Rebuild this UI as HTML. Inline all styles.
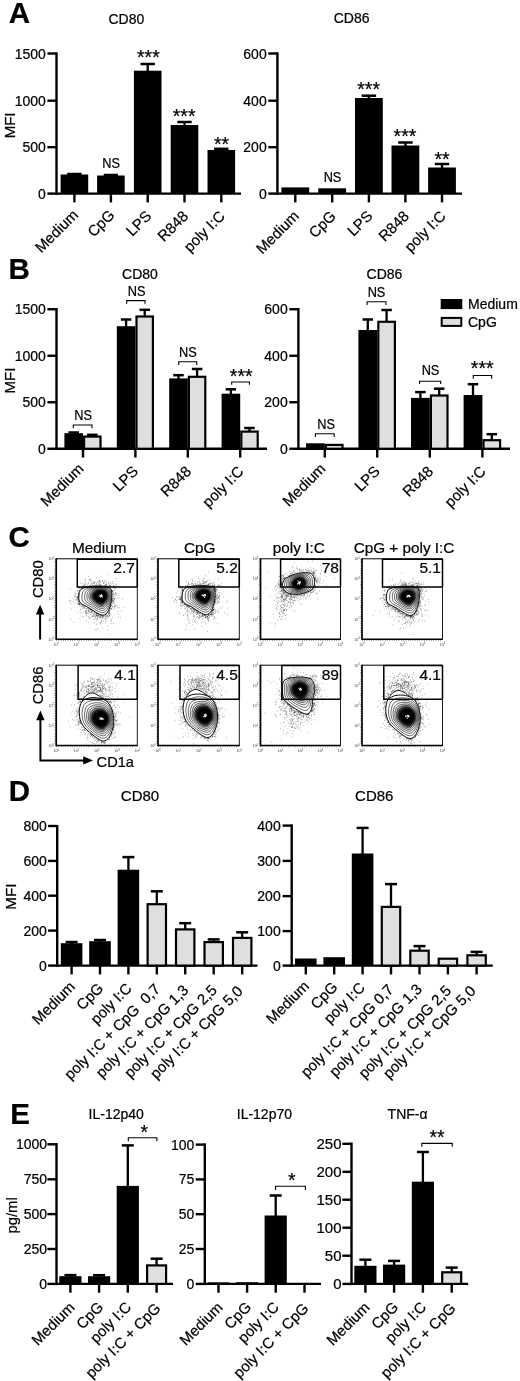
<!DOCTYPE html>
<html><head><meta charset="utf-8"><title>Figure</title>
<style>
html,body{margin:0;padding:0;background:#fff}
text{stroke:#000;stroke-width:.22px}
.t{stroke:none}
svg{display:block;font-family:"Liberation Sans",sans-serif;font-size:14px;fill:#000;filter:grayscale(1)}
</style></head>
<body>
<svg width="520" height="1381" viewBox="0 0 520 1381">
<rect width="520" height="1381" fill="#fff"/>
<text x="8.8" y="23" font-weight="bold" font-size="29.5">A</text>
<text x="126.4" y="23.8" text-anchor="middle">CD80</text>
<text x="351.6" y="23.2" text-anchor="middle">CD86</text>
<text transform="translate(15.3 125.4) rotate(-90)" text-anchor="middle" font-size="15">MFI</text>
<line x1="56.5" y1="52.3" x2="56.5" y2="194.8" stroke="#000" stroke-width="2.4"/>
<line x1="47.4" y1="53.5" x2="56.5" y2="53.5" stroke="#000" stroke-width="2.4"/>
<text x="45.8" y="58.5" text-anchor="end">1500</text>
<line x1="47.4" y1="100.7" x2="56.5" y2="100.7" stroke="#000" stroke-width="2.4"/>
<text x="45.8" y="105.7" text-anchor="end">1000</text>
<line x1="47.4" y1="147.2" x2="56.5" y2="147.2" stroke="#000" stroke-width="2.4"/>
<text x="45.8" y="152.2" text-anchor="end">500</text>
<line x1="47.4" y1="193.6" x2="56.5" y2="193.6" stroke="#000" stroke-width="2.4"/>
<text x="45.8" y="198.6" text-anchor="end">0</text>
<line x1="55.3" y1="193.6" x2="241" y2="193.6" stroke="#000" stroke-width="2.4"/>
<line x1="74.4" y1="193.6" x2="74.4" y2="202.4" stroke="#000" stroke-width="2.4"/>
<line x1="110.9" y1="193.6" x2="110.9" y2="202.4" stroke="#000" stroke-width="2.4"/>
<line x1="147.7" y1="193.6" x2="147.7" y2="202.4" stroke="#000" stroke-width="2.4"/>
<line x1="184.5" y1="193.6" x2="184.5" y2="202.4" stroke="#000" stroke-width="2.4"/>
<line x1="221.3" y1="193.6" x2="221.3" y2="202.4" stroke="#000" stroke-width="2.4"/>
<line x1="74.4" y1="174" x2="74.4" y2="175.5" stroke="#000" stroke-width="2.3"/>
<line x1="67.22" y1="174" x2="81.58" y2="174" stroke="#000" stroke-width="2.5"/>
<rect x="60.6" y="174.5" width="27.6" height="19.1" fill="#000"/>
<line x1="110.9" y1="175" x2="110.9" y2="176.5" stroke="#000" stroke-width="2.3"/>
<line x1="103.72" y1="175" x2="118.08" y2="175" stroke="#000" stroke-width="2.5"/>
<rect x="97.1" y="175.5" width="27.6" height="18.1" fill="#000"/>
<line x1="147.7" y1="64" x2="147.7" y2="71.7" stroke="#000" stroke-width="2.3"/>
<line x1="140.52" y1="64" x2="154.88" y2="64" stroke="#000" stroke-width="2.5"/>
<rect x="133.9" y="70.7" width="27.6" height="122.9" fill="#000"/>
<line x1="184.5" y1="122" x2="184.5" y2="126" stroke="#000" stroke-width="2.3"/>
<line x1="177.32" y1="122" x2="191.68" y2="122" stroke="#000" stroke-width="2.5"/>
<rect x="170.7" y="125" width="27.6" height="68.6" fill="#000"/>
<line x1="221.3" y1="148.8" x2="221.3" y2="151" stroke="#000" stroke-width="2.3"/>
<line x1="214.12" y1="148.8" x2="228.48" y2="148.8" stroke="#000" stroke-width="2.5"/>
<rect x="207.5" y="150" width="27.6" height="43.6" fill="#000"/>
<text transform="translate(79 215.8) rotate(-45)" text-anchor="end" font-size="15">Medium</text>
<text transform="translate(115.5 216) rotate(-45)" text-anchor="end" font-size="15">CpG</text>
<text transform="translate(152.3 217) rotate(-45)" text-anchor="end" font-size="15">LPS</text>
<text transform="translate(189.1 217) rotate(-45)" text-anchor="end" font-size="15">R848</text>
<text transform="translate(225.9 217) rotate(-45)" text-anchor="end" font-size="15">poly I:C</text>
<text transform="translate(111.2 167.5) scale(.9 1)" text-anchor="middle" font-size="14.2">NS</text>
<text x="148.4" y="64.1" text-anchor="middle" font-size="19.5">***</text>
<text x="184.1" y="123.4" text-anchor="middle" font-size="19.5">***</text>
<text x="221.5" y="151" text-anchor="middle" font-size="19.5">**</text>
<line x1="277.4" y1="52.3" x2="277.4" y2="194.8" stroke="#000" stroke-width="2.4"/>
<line x1="268.3" y1="53.5" x2="277.4" y2="53.5" stroke="#000" stroke-width="2.4"/>
<text x="266.7" y="58.5" text-anchor="end">600</text>
<line x1="268.3" y1="100.7" x2="277.4" y2="100.7" stroke="#000" stroke-width="2.4"/>
<text x="266.7" y="105.7" text-anchor="end">400</text>
<line x1="268.3" y1="147.2" x2="277.4" y2="147.2" stroke="#000" stroke-width="2.4"/>
<text x="266.7" y="152.2" text-anchor="end">200</text>
<line x1="268.3" y1="193.6" x2="277.4" y2="193.6" stroke="#000" stroke-width="2.4"/>
<text x="266.7" y="198.6" text-anchor="end">0</text>
<line x1="276.2" y1="193.6" x2="462" y2="193.6" stroke="#000" stroke-width="2.4"/>
<line x1="295.3" y1="193.6" x2="295.3" y2="202.4" stroke="#000" stroke-width="2.4"/>
<line x1="332.2" y1="193.6" x2="332.2" y2="202.4" stroke="#000" stroke-width="2.4"/>
<line x1="368.9" y1="193.6" x2="368.9" y2="202.4" stroke="#000" stroke-width="2.4"/>
<line x1="405.4" y1="193.6" x2="405.4" y2="202.4" stroke="#000" stroke-width="2.4"/>
<line x1="442" y1="193.6" x2="442" y2="202.4" stroke="#000" stroke-width="2.4"/>
<rect x="281.4" y="187.4" width="27.8" height="6.2" fill="#000"/>
<rect x="318.3" y="188.3" width="27.8" height="5.3" fill="#000"/>
<line x1="368.9" y1="95.7" x2="368.9" y2="99" stroke="#000" stroke-width="2.3"/>
<line x1="361.67" y1="95.7" x2="376.13" y2="95.7" stroke="#000" stroke-width="2.5"/>
<rect x="355" y="98" width="27.8" height="95.6" fill="#000"/>
<line x1="405.4" y1="142.5" x2="405.4" y2="146.5" stroke="#000" stroke-width="2.3"/>
<line x1="398.17" y1="142.5" x2="412.63" y2="142.5" stroke="#000" stroke-width="2.5"/>
<rect x="391.5" y="145.5" width="27.8" height="48.1" fill="#000"/>
<line x1="442" y1="164" x2="442" y2="168.5" stroke="#000" stroke-width="2.3"/>
<line x1="434.77" y1="164" x2="449.23" y2="164" stroke="#000" stroke-width="2.5"/>
<rect x="428.1" y="167.5" width="27.8" height="26.1" fill="#000"/>
<text transform="translate(299.9 217) rotate(-45)" text-anchor="end" font-size="15">Medium</text>
<text transform="translate(336.8 217) rotate(-45)" text-anchor="end" font-size="15">CpG</text>
<text transform="translate(373.5 217) rotate(-45)" text-anchor="end" font-size="15">LPS</text>
<text transform="translate(410 217) rotate(-45)" text-anchor="end" font-size="15">R848</text>
<text transform="translate(446.6 217) rotate(-45)" text-anchor="end" font-size="15">poly I:C</text>
<text transform="translate(332.5 182) scale(.9 1)" text-anchor="middle" font-size="14.2">NS</text>
<text x="368.6" y="96.1" text-anchor="middle" font-size="19.5">***</text>
<text x="405" y="143" text-anchor="middle" font-size="19.5">***</text>
<text x="442" y="166" text-anchor="middle" font-size="19.5">**</text>
<text x="8.5" y="278.8" font-weight="bold" font-size="29.5">B</text>
<text x="140" y="279" text-anchor="middle">CD80</text>
<text x="384.5" y="278.5" text-anchor="middle">CD86</text>
<text transform="translate(15.3 380.6) rotate(-90)" text-anchor="middle" font-size="15">MFI</text>
<line x1="56.5" y1="308.05" x2="56.5" y2="449.95" stroke="#000" stroke-width="2.4"/>
<line x1="47.4" y1="309.25" x2="56.5" y2="309.25" stroke="#000" stroke-width="2.4"/>
<text x="45.8" y="314.25" text-anchor="end">1500</text>
<line x1="47.4" y1="355.75" x2="56.5" y2="355.75" stroke="#000" stroke-width="2.4"/>
<text x="45.8" y="360.75" text-anchor="end">1000</text>
<line x1="47.4" y1="402.25" x2="56.5" y2="402.25" stroke="#000" stroke-width="2.4"/>
<text x="45.8" y="407.25" text-anchor="end">500</text>
<line x1="47.4" y1="448.75" x2="56.5" y2="448.75" stroke="#000" stroke-width="2.4"/>
<text x="45.8" y="453.75" text-anchor="end">0</text>
<line x1="55.3" y1="448.75" x2="267" y2="448.75" stroke="#000" stroke-width="2.4"/>
<line x1="83" y1="448.75" x2="83" y2="457.55" stroke="#000" stroke-width="2.4"/>
<line x1="135.4" y1="448.75" x2="135.4" y2="457.55" stroke="#000" stroke-width="2.4"/>
<line x1="187.8" y1="448.75" x2="187.8" y2="457.55" stroke="#000" stroke-width="2.4"/>
<line x1="240.2" y1="448.75" x2="240.2" y2="457.55" stroke="#000" stroke-width="2.4"/>
<line x1="73.7" y1="432.5" x2="73.7" y2="434.2" stroke="#000" stroke-width="2.3"/>
<line x1="68.45" y1="432.5" x2="78.95" y2="432.5" stroke="#000" stroke-width="2.5"/>
<rect x="64.4" y="433.2" width="18.6" height="15.55" fill="#000"/>
<line x1="92.3" y1="434.8" x2="92.3" y2="436.5" stroke="#000" stroke-width="2.3"/>
<line x1="87.05" y1="434.8" x2="97.55" y2="434.8" stroke="#000" stroke-width="2.5"/>
<rect x="84.1" y="436.6" width="16.4" height="12.15" fill="#dfdfdf" stroke="#000" stroke-width="2.2"/>
<line x1="126.1" y1="319.5" x2="126.1" y2="327.2" stroke="#000" stroke-width="2.3"/>
<line x1="120.85" y1="319.5" x2="131.35" y2="319.5" stroke="#000" stroke-width="2.5"/>
<rect x="116.8" y="326.2" width="18.6" height="122.55" fill="#000"/>
<line x1="144.7" y1="309.8" x2="144.7" y2="316.4" stroke="#000" stroke-width="2.3"/>
<line x1="139.45" y1="309.8" x2="149.95" y2="309.8" stroke="#000" stroke-width="2.5"/>
<rect x="136.5" y="316.5" width="16.4" height="132.25" fill="#dfdfdf" stroke="#000" stroke-width="2.2"/>
<line x1="178.5" y1="375.2" x2="178.5" y2="379.4" stroke="#000" stroke-width="2.3"/>
<line x1="173.25" y1="375.2" x2="183.75" y2="375.2" stroke="#000" stroke-width="2.5"/>
<rect x="169.2" y="378.4" width="18.6" height="70.35" fill="#000"/>
<line x1="197.1" y1="369" x2="197.1" y2="376.7" stroke="#000" stroke-width="2.3"/>
<line x1="191.85" y1="369" x2="202.35" y2="369" stroke="#000" stroke-width="2.5"/>
<rect x="188.9" y="376.8" width="16.4" height="71.95" fill="#dfdfdf" stroke="#000" stroke-width="2.2"/>
<line x1="230.9" y1="389.3" x2="230.9" y2="394.7" stroke="#000" stroke-width="2.3"/>
<line x1="225.65" y1="389.3" x2="236.15" y2="389.3" stroke="#000" stroke-width="2.5"/>
<rect x="221.6" y="393.7" width="18.6" height="55.05" fill="#000"/>
<line x1="249.5" y1="428" x2="249.5" y2="431.5" stroke="#000" stroke-width="2.3"/>
<line x1="244.25" y1="428" x2="254.75" y2="428" stroke="#000" stroke-width="2.5"/>
<rect x="241.3" y="431.6" width="16.4" height="17.15" fill="#dfdfdf" stroke="#000" stroke-width="2.2"/>
<text transform="translate(84.6 469.55) rotate(-45)" text-anchor="end" font-size="15">Medium</text>
<text transform="translate(139.1 472.25) rotate(-45)" text-anchor="end" font-size="15">LPS</text>
<text transform="translate(192.1 472.25) rotate(-45)" text-anchor="end" font-size="15">R848</text>
<text transform="translate(244.5 472.25) rotate(-45)" text-anchor="end" font-size="15">poly I:C</text>
<text transform="translate(83.1 420) scale(.9 1)" text-anchor="middle" font-size="14.2">NS</text>
<path d="M73.3 428.2V425H92V428.2" fill="none" stroke="#000" stroke-width="1.1"/>
<text transform="translate(136.6 295.8) scale(.9 1)" text-anchor="middle" font-size="14.2">NS</text>
<path d="M126.7 303.8V300.6H145V303.8" fill="none" stroke="#000" stroke-width="1.1"/>
<text transform="translate(187.9 356.9) scale(.9 1)" text-anchor="middle" font-size="14.2">NS</text>
<path d="M178.7 364.9V361.7H196.7V364.9" fill="none" stroke="#000" stroke-width="1.1"/>
<text x="241.2" y="383.3" text-anchor="middle" font-size="19.5">***</text>
<path d="M231.7 384.8V382H249.4V384.8" fill="none" stroke="#000" stroke-width="1.1"/>
<line x1="298.4" y1="308.05" x2="298.4" y2="449.95" stroke="#000" stroke-width="2.4"/>
<line x1="289.3" y1="309.25" x2="298.4" y2="309.25" stroke="#000" stroke-width="2.4"/>
<text x="287.7" y="314.25" text-anchor="end">600</text>
<line x1="289.3" y1="355.75" x2="298.4" y2="355.75" stroke="#000" stroke-width="2.4"/>
<text x="287.7" y="360.75" text-anchor="end">400</text>
<line x1="289.3" y1="402.25" x2="298.4" y2="402.25" stroke="#000" stroke-width="2.4"/>
<text x="287.7" y="407.25" text-anchor="end">200</text>
<line x1="289.3" y1="448.75" x2="298.4" y2="448.75" stroke="#000" stroke-width="2.4"/>
<text x="287.7" y="453.75" text-anchor="end">0</text>
<line x1="297.2" y1="448.75" x2="510" y2="448.75" stroke="#000" stroke-width="2.4"/>
<line x1="324.8" y1="448.75" x2="324.8" y2="457.55" stroke="#000" stroke-width="2.4"/>
<line x1="377.2" y1="448.75" x2="377.2" y2="457.55" stroke="#000" stroke-width="2.4"/>
<line x1="429.8" y1="448.75" x2="429.8" y2="457.55" stroke="#000" stroke-width="2.4"/>
<line x1="482.4" y1="448.75" x2="482.4" y2="457.55" stroke="#000" stroke-width="2.4"/>
<rect x="306" y="443.3" width="18.8" height="5.45" fill="#000"/>
<rect x="325.9" y="444.9" width="16.6" height="3.85" fill="#dfdfdf" stroke="#000" stroke-width="2.2"/>
<line x1="367.8" y1="319.5" x2="367.8" y2="331" stroke="#000" stroke-width="2.3"/>
<line x1="362.55" y1="319.5" x2="373.05" y2="319.5" stroke="#000" stroke-width="2.5"/>
<rect x="358.4" y="330" width="18.8" height="118.75" fill="#000"/>
<line x1="386.6" y1="310" x2="386.6" y2="321.7" stroke="#000" stroke-width="2.3"/>
<line x1="381.35" y1="310" x2="391.85" y2="310" stroke="#000" stroke-width="2.5"/>
<rect x="378.3" y="321.8" width="16.6" height="126.95" fill="#dfdfdf" stroke="#000" stroke-width="2.2"/>
<line x1="420.4" y1="392.1" x2="420.4" y2="398.9" stroke="#000" stroke-width="2.3"/>
<line x1="415.15" y1="392.1" x2="425.65" y2="392.1" stroke="#000" stroke-width="2.5"/>
<rect x="411" y="397.9" width="18.8" height="50.85" fill="#000"/>
<line x1="439.2" y1="388.7" x2="439.2" y2="395.4" stroke="#000" stroke-width="2.3"/>
<line x1="433.95" y1="388.7" x2="444.45" y2="388.7" stroke="#000" stroke-width="2.5"/>
<rect x="430.9" y="395.5" width="16.6" height="53.25" fill="#dfdfdf" stroke="#000" stroke-width="2.2"/>
<line x1="473" y1="384.2" x2="473" y2="396" stroke="#000" stroke-width="2.3"/>
<line x1="467.75" y1="384.2" x2="478.25" y2="384.2" stroke="#000" stroke-width="2.5"/>
<rect x="463.6" y="395" width="18.8" height="53.75" fill="#000"/>
<line x1="491.8" y1="434.2" x2="491.8" y2="440.1" stroke="#000" stroke-width="2.3"/>
<line x1="486.55" y1="434.2" x2="497.05" y2="434.2" stroke="#000" stroke-width="2.5"/>
<rect x="483.5" y="440.2" width="16.6" height="8.55" fill="#dfdfdf" stroke="#000" stroke-width="2.2"/>
<text transform="translate(326.4 469.55) rotate(-45)" text-anchor="end" font-size="15">Medium</text>
<text transform="translate(380.9 472.25) rotate(-45)" text-anchor="end" font-size="15">LPS</text>
<text transform="translate(434.1 472.25) rotate(-45)" text-anchor="end" font-size="15">R848</text>
<text transform="translate(486.7 472.25) rotate(-45)" text-anchor="end" font-size="15">poly I:C</text>
<text transform="translate(326.1 428.5) scale(.9 1)" text-anchor="middle" font-size="14.2">NS</text>
<path d="M315.4 437V433.8H334.2V437" fill="none" stroke="#000" stroke-width="1.1"/>
<text transform="translate(376.5 297.1) scale(.9 1)" text-anchor="middle" font-size="14.2">NS</text>
<path d="M367.1 305V301.8H385.9V305" fill="none" stroke="#000" stroke-width="1.1"/>
<text transform="translate(430.5 374.8) scale(.9 1)" text-anchor="middle" font-size="14.2">NS</text>
<path d="M419.6 384V381.2H440.7V384" fill="none" stroke="#000" stroke-width="1.1"/>
<text x="482.2" y="375" text-anchor="middle" font-size="19.5">***</text>
<path d="M473.3 378.7V375.5H491.7V378.7" fill="none" stroke="#000" stroke-width="1.1"/>
<rect x="440.7" y="299" width="21.6" height="10.1" fill="#000"/>
<text x="468" y="309.2">Medium</text>
<rect x="441.7" y="317.9" width="19.6" height="8" fill="#dfdfdf" stroke="#000" stroke-width="2"/>
<text x="468" y="326.6">CpG</text>
<text x="8.6" y="547.2" font-weight="bold" font-size="29.5">C</text>
<path d="M109.06 612.42h.6M79.49 599.14h.6M109.42 607.2h.6M105.92 585.81h.6M101.24 587.35h.6M83.22 604.71h.6M92.32 585h.6M109.76 586.76h.6M110.01 588.82h.6M97.93 613.1h.6M99.54 617.78h.6M78.14 597.41h.6M118.76 597.92h.6M104.05 614.49h.6M73.77 603.96h.6M78.45 594.31h.6M111.99 598.43h.6M112.71 597.93h.6M96.24 613.81h.6M78.23 598.27h.6M110.72 603.03h.6M111.28 601.98h.6M86.37 610.55h.6M82.23 604.82h.6M109.56 585.1h.6M83.89 587.98h.6M90.88 587.04h.6M79.88 598.98h.6M79.12 603.5h.6M108.45 610.4h.6M78.4 597.62h.6M96.59 613h.6M85.06 605.39h.6M110.04 585.93h.6M79.5 601.53h.6M91.03 613.15h.6M93.47 614.41h.6M112.77 587.5h.6M114.03 599.02h.6M108.23 612.37h.6M91.24 610.12h.6M78.48 592.1h.6M93.97 585.52h.6M83.46 606.6h.6M111.5 608.79h.6M78.54 603.95h.6M95.89 577.88h.6M109.68 588.29h.6M73.26 601.67h.6M87.9 607.89h.6M105.32 615.85h.6M108.66 612.97h.6M110.1 590.55h.6M83.18 607.68h.6M98.99 585.48h.6M112.38 587.26h.6M88.33 611.26h.6M77.24 599.93h.6M98.03 615.26h.6M112.5 583.74h.6M95.38 612.11h.6M79.2 601.69h.6M80.19 601.76h.6M81.82 604.42h.6M79.3 599.49h.6M76.94 612.93h.6M105.86 616.46h.6M111.75 593.99h.6M73.94 598.99h.6M79.56 598.13h.6M83.67 608.12h.6M110.44 613.93h.6M76.52 599.99h.6M102.93 616.74h.6M85.93 610.97h.6M114.17 586.38h.6M93.52 619.53h.6M100.67 616.09h.6M93.65 586.18h.6M81.27 588.33h.6M95.95 611.65h.6M116.31 595.55h.6M96.28 612.33h.6M89.59 578.48h.6M79.15 588.69h.6M77.93 601.15h.6M105.13 586.46h.6M111.14 602.75h.6M105.5 621.65h.6M80.83 592.19h.6M92.61 610.04h.6M110.26 606.58h.6M78.53 600.09h.6M103.9 586.11h.6M100.99 585.78h.6M87.14 585.75h.6M112.94 586.74h.6M80.83 587.93h.6M91.41 586.59h.6M95.33 585.41h.6M113.47 592.52h.6M85.56 586.11h.6M97.43 616.62h.6M111.36 596.38h.6M78.28 593.68h.6M100.49 616.37h.6M111.21 600.07h.6M87.13 586.53h.6M79.14 603.73h.6M112.71 600.29h.6M113.21 590.37h.6M78.59 600.33h.6M83.84 607.08h.6M105.02 618.92h.6M76.07 596.99h.6M109.49 608.17h.6M108 611.47h.6M97.19 613.68h.6M78.51 599.43h.6M76.62 597.12h.6M99.29 613.34h.6M112.94 603.35h.6M112.35 587.58h.6M111.81 594.63h.6M111.82 590.51h.6M90.9 585.94h.6M109.94 612h.6M111.97 596.4h.6M109 610.2h.6M78.79 598.66h.6M78.18 595.11h.6M109.8 610.83h.6M103.24 615.2h.6M85.63 611.94h.6M114.51 603.45h.6M78.2 590.42h.6M112.75 601.14h.6M112.02 591.53h.6M108.52 586.46h.6M114.25 601.51h.6M96.37 584.66h.6M99.81 614.66h.6M99.46 615.77h.6M109.37 585.9h.6M107.36 616.89h.6M88.2 608.22h.6M90.99 612.09h.6M88.81 586.84h.6M110.12 608.25h.6M112.62 591.2h.6M90.3 608.51h.6M102.31 586.96h.6M94.72 584.79h.6M79.01 596.75h.6M110.94 608.82h.6M80.39 603.93h.6M112.76 602.11h.6M105.48 613.48h.6M111.39 601.56h.6M107.2 612.4h.6M112.19 599.81h.6M112.31 600.48h.6M79.75 591.39h.6M92.24 615.96h.6M108.79 583.74h.6M96.09 614.85h.6M77.32 597.26h.6M114.72 606.11h.6M114.3 599.45h.6M84.84 606.57h.6M107.27 586.41h.6M78.57 601.11h.6M118.76 607.61h.6M70.48 601.01h.6M81.98 605.1h.6M82.53 587.11h.6M98.59 616.49h.6M90.47 608.91h.6M68.83 600.97h.6M70.65 603.62h.6M93.64 616.62h.6M77.33 597.02h.6M75.02 599.94h.6M82.15 588.19h.6M90.58 608.8h.6M78.06 593.46h.6M105.17 614.13h.6M78.2 595.26h.6M109.5 604.45h.6M110.81 605.23h.6M79.11 591.31h.6M105.58 614.04h.6M111.89 602.2h.6M106.06 613.5h.6M82.91 587.36h.6M111.64 590.43h.6M78.26 596.43h.6M89.8 612.33h.6M103.27 621.07h.6M98.86 581.13h.6M104.42 582.71h.6M85.15 612.33h.6M80.4 605.17h.6M109.89 585.71h.6M110.69 605.93h.6M108.87 608.7h.6M109.38 589.11h.6M91.48 610.46h.6M110.87 597.55h.6M113.66 596.25h.6M108 613.48h.6M112.56 606.8h.6M99.38 584.37h.6M114.78 598.32h.6M88.75 608.09h.6M106.56 584.11h.6M111.18 599.21h.6M80.22 589.79h.6M107.67 611.47h.6M115.48 589.16h.6M114.17 586.91h.6M81.21 587.6h.6M106.24 613.01h.6M79.81 610.08h.6M99.89 622.65h.6M107.78 615.23h.6M89.23 586.31h.6M93.99 610.64h.6M96.89 614.1h.6M107.02 586.04h.6M78.82 596.57h.6M92.8 585.75h.6M78.97 587.56h.6M104 580.61h.6M80.17 588.8h.6M78.57 595.7h.6M89.18 608.06h.6M88.7 586.08h.6M93.49 581.56h.6M79.97 591.47h.6M89.81 587.39h.6M78.23 587.75h.6M100.61 614.62h.6M109.45 586.3h.6M80.61 602.64h.6M94.5 615.74h.6M107.01 612.61h.6M82.3 587.83h.6M78.17 595.08h.6M101.13 615.09h.6M82.89 604.37h.6M109.26 613.47h.6M85.13 586.4h.6M99.59 586.03h.6M94.22 582.15h.6M80.24 598.71h.6M93.13 583.64h.6M78.89 604.98h.6M109.4 609.07h.6M108.38 613.9h.6M100.01 614.22h.6M76.73 599.3h.6M78.84 600.79h.6M102.33 622.65h.6M115.56 593.53h.6M115.72 587.34h.6M92.33 609.85h.6M109.83 586.96h.6M112.53 604.05h.6M104.68 614.4h.6M113.07 602.16h.6M98.36 583.29h.6M106.25 617.3h.6M104.21 614.83h.6M81.35 604.91h.6M98.1 615.42h.6M86.28 608.93h.6M91.86 609.21h.6M77.14 598.37h.6M84.68 608.41h.6M83.2 587.94h.6M77.38 590.8h.6M92.1 587.94h.6M74.07 594.77h.6M89.79 586.07h.6M82.46 585.42h.6M111.37 595.89h.6M93.39 613.43h.6M109.81 605.71h.6M82.27 587.75h.6M115.04 605.95h.6M88.46 610.46h.6M79.49 603h.6M75.84 593.52h.6M112.75 600.26h.6M78.13 601.59h.6M108.72 607.24h.6M91.02 587.64h.6M115.8 578.5h.6M79.12 604.14h.6M113.99 594.23h.6M84.32 585.51h.6M101.62 616h.6M90.24 610.02h.6M81.77 606.45h.6M90.44 586.45h.6M83.15 588.88h.6M75.65 603.15h.6M107.41 612.5h.6M89.92 585.2h.6M87 607.86h.6M114.27 587.76h.6M81.7 587.56h.6M112.73 593.52h.6M79.46 600.69h.6M113.17 595.15h.6M91.75 611.21h.6M105.35 613.97h.6M110.36 634.06h.6M105.62 611.95h.6M106.28 611.97h.6M78.22 603.78h.6M89.29 586.23h.6M90.45 609.65h.6M97.21 617.16h.6M102.44 616.04h.6M78.66 599.66h.6M88.11 576.44h.6M109.65 605.66h.6M94.49 612.5h.6M109.06 585.57h.6M98.39 586.58h.6M85.41 588.26h.6M77.87 603.88h.6M99.9 614.87h.6M102.42 616.12h.6M111.83 596.15h.6M100.42 585.92h.6M101.78 580.65h.6M108.68 605.82h.6M96 586.27h.6M78.81 598.32h.6M106.41 584.6h.6M86.05 605.75h.6M116.05 593.78h.6M81.58 588.14h.6M77.97 598.65h.6M112.68 594.81h.6M111.59 593.97h.6M91.06 584.11h.6M113.96 590.44h.6M78.18 592.95h.6M100.05 587.45h.6M103.49 582.79h.6M98.14 586.33h.6M103.81 614.56h.6M82.19 590.06h.6M79.55 605.26h.6M110.36 597.42h.6M94.1 613.75h.6M78.83 594.54h.6M79.16 595.63h.6M78.45 597.89h.6M111.57 589.51h.6M76.36 598.73h.6M113.71 606.95h.6M110.67 596.8h.6M83.24 605.09h.6M69.34 597.18h.6M108.01 582.25h.6M115.17 592.66h.6M69.85 589.09h.6M74.84 593.03h.6M79.18 602.45h.6M76.95 597.7h.6M89.12 586.99h.6M96.44 612.79h.6M104.7 616.61h.6M100.85 615.88h.6M81.41 589.37h.6M99.92 614.61h.6M104.08 614.2h.6M93.35 615.96h.6M94.76 611.41h.6M96.79 582.4h.6M79.93 602.91h.6M105.13 614.51h.6M104.03 613.53h.6M83.78 605.29h.6M77.3 590.26h.6M111.91 600.52h.6M115.34 588.65h.6M111.47 591.53h.6M123.37 607.31h.6M99.74 612.51h.6M88.88 606.9h.6M81.83 606.45h.6M106.66 618.99h.6M86.44 608.04h.6M106.65 586.65h.6M97.07 612.38h.6M93.72 610.96h.6M114.5 605.65h.6M102.18 618.87h.6M113.22 601.24h.6M102.71 616.95h.6M105.72 614.06h.6M93.01 616.15h.6M113.1 609.07h.6M111.18 596.47h.6M95.98 612.8h.6M100.89 620.67h.6M88.01 611.36h.6M94.54 610.41h.6M79.29 590.24h.6M78.61 598.23h.6M88.75 609.19h.6M77.37 596.86h.6M118.57 588.04h.6M107.87 609.86h.6M109.17 615.7h.6M81.91 588.74h.6M103.52 615.22h.6M96.74 586.06h.6M115.49 593.82h.6M77.99 595.44h.6M83.73 584.26h.6M111.96 591.08h.6M105.29 611.89h.6M107.39 586.87h.6M111.11 600.46h.6M97.66 615.43h.6M112.74 594.7h.6M105.35 614.39h.6M96.5 613.74h.6M105.46 582.55h.6M105.9 615.56h.6M96.01 612.19h.6M104.85 613.63h.6M69.72 600.95h.6M109.21 607.75h.6M101.88 615.2h.6M112.59 598.38h.6M110.62 601.67h.6M122.41 599.24h.6M101.96 616.98h.6M111.56 598.95h.6M103.91 585.21h.6M110.92 597.25h.6M111.96 607.2h.6M108.71 613.36h.6M116.81 605.83h.6M112.39 599.13h.6M110.37 606.54h.6M103.52 617.22h.6M79.46 600.5h.6M108.59 587.73h.6M111.08 608.23h.6M108.59 588.49h.6M79.87 603.06h.6M111.29 620.75h.6M82.17 608.23h.6M109.25 610.72h.6M86.53 588.36h.6M101.56 615.64h.6M77.97 601.54h.6M113.3 585.79h.6M84.73 606.34h.6M111.37 591.32h.6M114.76 594.81h.6M104.94 584.67h.6M100.65 618.15h.6M92.65 610.81h.6M99.39 586.71h.6M85.36 611.42h.6M113.55 598.37h.6M78.39 598.15h.6M99.69 616.14h.6M78.96 599.27h.6M98.34 615.13h.6M105.75 614.09h.6M105.64 613.82h.6M108.99 612.98h.6M81.12 603.43h.6M114.55 597.17h.6M94.15 611.73h.6M111.37 596.23h.6M100.9 615.05h.6M110.32 605.09h.6M114.6 588.23h.6M78.14 594.41h.6M77.18 602.26h.6M74.12 596.84h.6M88.87 608.55h.6M110.16 608.61h.6M83.85 588.47h.6M82.81 587.13h.6M114.56 600.24h.6M82.33 604.36h.6M95.89 586.77h.6M96.07 615.29h.6M84.34 605.79h.6M111.57 605.47h.6M92.66 586.52h.6M77.09 596.86h.6M106.64 611.64h.6M99.15 586.57h.6M109.09 607.24h.6M86.02 586.8h.6M85 584.89h.6M75.12 596.48h.6M86.67 608.67h.6M81.36 590.28h.6M79.3 604.29h.6M87.58 609.75h.6M96.29 615.02h.6M83.25 587.31h.6M89.43 579.49h.6M89.03 608.75h.6M78.96 596.32h.6M101.71 599.83h.6M86.42 604.73h.6M94.13 611.52h.6M105.97 603.7h.6M106.52 599.76h.6M96.67 593.37h.6M96.34 594.35h.6M83.76 584.16h.6M81.96 602.09h.6M93.3 608.22h.6M102.67 604.77h.6M86.38 592h.6M92.93 589.25h.6M109.24 607.65h.6M105.22 602.35h.6M101.78 607.44h.6M106.88 598.55h.6M107 593.15h.6M107.64 609.11h.6M92.44 611.94h.6M87.89 609.44h.6M92.99 605.83h.6M109.3 615.43h.6M100.21 595.46h.6M100.59 602.44h.6M103.04 582.89h.6M105.44 600.99h.6M102.44 602.85h.6M84.61 607.41h.6M108.34 600.68h.6M93.51 597.64h.6M97.45 605.59h.6M91.18 594.48h.6M113.23 598.82h.6M90.88 601.77h.6M95.29 602.56h.6M84.45 590.68h.6M92.09 600.67h.6M99.38 602.25h.6M92.44 583.66h.6M97.84 601.43h.6M101.89 599.56h.6M95.49 592.81h.6M112.14 601.4h.6M91.82 591.19h.6M86.37 603.07h.6M87.86 600.05h.6M85.17 598.42h.6M101.67 608.1h.6M94.09 598.78h.6M101.79 588.33h.6M90.69 611.86h.6M88.64 597.47h.6M88.37 610.13h.6M107.91 613.9h.6M84.97 598.71h.6M100.29 596.08h.6M95.96 587.99h.6M103.55 609.92h.6M77.64 594.12h.6M92.78 605.85h.6M90.63 603.38h.6M99.99 623.13h.6M100.93 614.53h.6M99.71 616.94h.6M93.57 596.57h.6M90.38 589.29h.6M98.16 610.31h.6M84.11 597.64h.6M95.12 582.45h.6M81.64 594.23h.6M90.26 587.21h.6M103.48 608.51h.6M80.58 600.26h.6M108.1 597.18h.6M106.71 598.48h.6M84.27 604.22h.6M75.36 594.87h.6M100.26 610.01h.6M103.65 605.54h.6M90.45 595.13h.6M99.17 601.73h.6M90.49 580.74h.6M92.63 602.08h.6M109.04 614.99h.6M118.47 614.32h.6M98.06 605h.6M95.71 593.12h.6M85.86 613.1h.6M101.43 587.92h.6M103.31 601.48h.6M97.49 611.18h.6M88.91 599.76h.6M81.18 602.08h.6M91.98 607.35h.6M91.4 611.22h.6M115.04 604.97h.6M97.18 608.94h.6M96.19 599.35h.6M105.93 600.35h.6M99.32 591.49h.6M102.68 603.94h.6M108.33 616.92h.6M105.67 591.99h.6M102.64 591.3h.6M96.75 630.21h.6M97.28 594.29h.6M95.01 601.65h.6M106.62 600.66h.6M94.66 601.22h.6M98.54 598.14h.6M87.91 592.61h.6M83.57 591.39h.6M109.59 598.35h.6M90.98 602.95h.6M106.7 598.32h.6M90.11 608.99h.6M95.11 605.17h.6M92.65 596.87h.6M102.57 588.57h.6M92.12 609.33h.6M103.62 598.17h.6M91.8 609.39h.6M97.74 607.36h.6M105.1 592.83h.6M87.48 590.96h.6M101.99 607.57h.6M120.95 611.18h.6M89.9 609.69h.6M92.79 598.65h.6M90.81 583.1h.6M99.91 598.82h.6M99.61 609.51h.6M93.31 599.31h.6M100.73 586.43h.6M97.94 616.13h.6M98.88 603.55h.6M104.36 599.21h.6M85.97 613.65h.6M97.32 618.26h.6M95.16 593.51h.6M93.2 588.83h.6M107.86 591.09h.6M78.79 600.58h.6M107.23 574.28h.6M100.16 605.68h.6M106.51 592.84h.6M89.74 605.8h.6M99.54 581.62h.6M92.75 598.54h.6M95.58 594.64h.6M85.58 595.56h.6M100.05 600.29h.6M103.89 618.99h.6M90.57 597.32h.6M91.02 608.6h.6M109.59 598.61h.6M93.35 582.12h.6M100.74 594.67h.6M105.02 617.19h.6M83.08 596.87h.6M92.42 596.54h.6M99.44 601.33h.6M79.79 606.77h.6M94.76 610.83h.6M101.93 604.7h.6M100.99 602.56h.6M99.97 602h.6M101.31 590.83h.6M96.63 600.16h.6M95.22 613.09h.6M104.27 601.71h.6M104.18 602.29h.6M98.14 599.53h.6M85.18 602h.6M98.44 596h.6M106.71 589.52h.6M106.8 607.1h.6M100.9 576.1h.6M80.51 612.91h.6M98.16 599.61h.6M91.75 612.31h.6M93.38 609.11h.6M92.8 585.37h.6M97.71 602.37h.6M99.37 611.12h.6M101.11 594.26h.6M91.76 606.96h.6M89.56 585.58h.6M110.48 620.71h.6M91.32 598.21h.6M85.36 590.43h.6M94.67 601.3h.6M89.38 591.14h.6M84.13 596.93h.6M89.3 598.07h.6M90.12 599.74h.6M96.6 611.86h.6M109.33 610.08h.6M101.61 600.3h.6M90.87 594.77h.6M116.61 598.38h.6M93.72 597.94h.6M91.25 599.45h.6M97.93 594.51h.6M85.87 592.4h.6M110.89 591.14h.6M105.9 589.37h.6M89.02 599.59h.6M94.5 592.12h.6M100.55 596.46h.6M112.38 591.43h.6M92.3 604.77h.6M97.29 599.09h.6M96 599.73h.6M103.37 583.37h.6M93.18 593.98h.6M97.93 609.18h.6M103.68 596.45h.6M87.5 586.93h.6M98.51 601.33h.6M95.2 594.88h.6M92.2 606.99h.6M90.67 604.1h.6M104.06 594.14h.6M111.73 599.24h.6M77.19 603.81h.6M99.34 580.04h.6M101.5 606.43h.6M97.44 601.4h.6M101.27 596.36h.6M91.85 611.57h.6M102.45 599.43h.6M110.85 605.77h.6M105.04 589.85h.6M110.85 605.19h.6M88.38 604.39h.6M109.53 616.35h.6M90.71 586.89h.6M107.65 616.32h.6M101.63 606.37h.6M88.89 600.87h.6M96.88 591.5h.6M89.78 606.29h.6M88.92 591.2h.6M90.68 605.65h.6M105.71 594.09h.6M100.39 612.39h.6M101.35 601.44h.6M87.61 594.74h.6M92.43 587.99h.6M113.99 606.38h.6M100.58 602.62h.6M118.56 595h.6M96.2 600.9h.6M98.53 611.46h.6M89.65 593.07h.6M107.24 600.57h.6M108.19 582.95h.6M116.75 611.54h.6M112.34 591.94h.6M98.37 612.06h.6M97.35 607.66h.6M95.01 629.69h.6M98.73 611.36h.6M103.25 589.89h.6M96.94 616.06h.6M107.36 611.26h.6M96.18 616.02h.6M73.71 622.52h.6M97.59 602.68h.6M87.91 613.69h.6M93.98 612.07h.6M99.08 592.51h.6M104.17 592.87h.6M93.4 604.56h.6M70.87 608.84h.6M92.75 596.86h.6M114.59 608.16h.6M95.81 606.08h.6M96.09 607.56h.6M95.88 601.02h.6M85.04 604.63h.6M85.3 613.2h.6M86.44 611.9h.6M84.99 610.92h.6M89.7 610.34h.6M89.37 606.76h.6M105.03 596.38h.6M103.55 603.52h.6M120.4 617.56h.6M96.44 620.68h.6M99.4 606.26h.6M101.7 597.7h.6M111.41 602.74h.6M96.47 624.3h.6M103.01 603.23h.6M87.9 603.45h.6M101.12 608.99h.6M98.19 601.4h.6M99.33 613.68h.6M88.84 617.94h.6M105.42 618.64h.6M107.38 626.44h.6M105.87 599.85h.6M104.51 605.24h.6M86.2 621.19h.6M89.48 612.59h.6M95.24 601.58h.6M89.04 617.86h.6M90.24 608.04h.6M94.02 603.53h.6M95.34 617.42h.6M107.55 616.33h.6M97.13 604.08h.6M96.83 608.91h.6M104.91 615.78h.6M91.08 599.56h.6M81.79 606.89h.6M97.59 619.2h.6M104.78 609.03h.6M91.31 605.31h.6M78.51 604.06h.6M97.55 615.28h.6M87.64 612.7h.6M93.92 609.14h.6M113.51 623.56h.6M93.86 622.5h.6M110.36 602.91h.6M95.93 610.64h.6M98.26 587.84h.6M86.63 613.6h.6M97.52 614.9h.6M100.58 605.59h.6M79.55 594.04h.6M104.87 600.54h.6M103.39 611.09h.6M100.14 606.49h.6M89.33 611.68h.6M79.67 618.57h.6M87.87 597.91h.6M106.83 615.46h.6M110.64 604.07h.6M70.87 619.16h.6M99.28 611.63h.6M93.92 611.59h.6M97.82 607.89h.6M98.46 614.32h.6M77.97 604.28h.6M95.6 615.89h.6M90.2 614.77h.6M112.54 617.32h.6M96.37 608.39h.6M80.33 609.3h.6M99.92 617.6h.6M100.49 604.23h.6M88.61 622.7h.6M83.6 604.87h.6M100.55 605.34h.6M95.39 610.42h.6M92.26 603.98h.6M107.17 630.13h.6M102.17 618.16h.6M94 608.57h.6M87.9 616.88h.6M95.08 616.64h.6M108.05 601.05h.6M95.42 614.67h.6M90.77 614.85h.6M90.36 607.32h.6M101.95 613.02h.6M85.76 593.82h.6M89.94 598.53h.6M110.92 623.33h.6M92.38 616.41h.6M94.25 597.62h.6M97.65 607.96h.6M117.97 617.11h.6M98.87 607.08h.6M99.63 617.45h.6M99.69 614.22h.6M109.99 607.16h.6M85.74 616.19h.6M99.53 614.17h.6M105.36 623.31h.6M101.27 612.06h.6M109.83 598.95h.6M96.28 609.02h.6M95.16 596.13h.6M101.07 613.85h.6M95.04 595.93h.6M101.37 599.63h.6M106.25 620.66h.6M95.45 599.59h.6M91.9 610.15h.6M100.23 610.4h.6M100.6 623.94h.6M95.16 600.68h.6M81.68 616.35h.6M102.08 607.03h.6M103.04 616.35h.6M98.74 592.72h.6M101.92 597.01h.6M96.32 602.24h.6M97.23 619.08h.6M102.59 627.83h.6M94.49 604h.6M105.71 607.85h.6M101.96 614.51h.6M90 598.82h.6M99.44 613.3h.6M101.07 615.59h.6M95.74 610.31h.6M89.93 618.4h.6M101.03 620.33h.6M94.34 608.53h.6M96.1 609.1h.6M101.51 592.54h.6M102.94 606.22h.6M96.37 615.68h.6M84.73 602.24h.6M100.86 617.6h.6M99.51 595.47h.6M107.56 603.04h.6M94.15 619.03h.6M98.17 609.24h.6M99.57 613.32h.6M96.09 613.67h.6M91.73 616.41h.6M93.7 615.68h.6M110.92 618.61h.6M103.03 597.04h.6M83.47 612.7h.6M101.85 612.09h.6M95.89 610.34h.6M109.28 611.59h.6M85.93 615.42h.6M83.02 616.73h.6M110.68 614.95h.6M96.96 601.49h.6M95.76 606.03h.6M110.74 609.36h.6M101.77 603.18h.6M97.5 612.79h.6M98.17 613.6h.6M96.36 618.9h.6M94.76 614.37h.6M95.4 608.02h.6M96.94 628.53h.6M95.41 618.96h.6M117.42 607.69h.6M96.17 599.21h.6M98.06 612.57h.6M100.15 610.64h.6M101.42 596.99h.6M101.41 621.81h.6M102.51 611.55h.6M115.1 585.13h.6M86.62 614.14h.6M106.83 615.6h.6M108.45 589.05h.6M100.16 588.2h.6M100.49 582.45h.6M105.83 580.95h.6M106.12 587.21h.6M103.91 587.21h.6M99.6 584.16h.6M97.55 587.19h.6M99.49 581.99h.6M102.02 588.39h.6M113.17 583.8h.6M114.34 587.06h.6M105.24 588.88h.6M106.8 590.65h.6M99.57 583.99h.6M111 583.92h.6M97.94 584.92h.6M117.36 586.11h.6M109.48 586.86h.6M97.16 586.99h.6M96.22 585.35h.6M100.73 585.28h.6M92.65 588.31h.6M84.81 579.5h.6M84.71 583.31h.6M83.34 586.24h.6M91.83 586.06h.6M96.15 583.61h.6M108.33 587.09h.6M102.05 581.6h.6M103.34 588.55h.6M85.26 580.56h.6M83.91 585.6h.6M87.87 583.57h.6M96.53 585.17h.6M102.15 580.72h.6M98.88 580.18h.6M99.54 589.99h.6M81.72 583.68h.6M80.14 582.83h.6M101.02 585.38h.6M94.14 583.43h.6M87.95 582.3h.6M93.97 588.45h.6M104.94 585.31h.6M91.29 581.31h.6M88.7 580.44h.6M91.93 587.14h.6M94.98 589.88h.6M116.4 584.13h.6M89.65 586.48h.6M97.25 587.6h.6M95.2 585.65h.6M90.88 588.08h.6M106.77 586.55h.6M104.59 585.91h.6M105.88 584.04h.6M92.3 585.47h.6M101.46 590.12h.6M85.19 590.5h.6M92.57 587.72h.6M101.98 587.48h.6M88.94 590.43h.6M115.67 580.85h.6M95.96 588.45h.6M110.14 582.28h.6M84.89 582.33h.6M107.58 585.41h.6M116.41 586.33h.6M104.18 587.37h.6M86.72 584.25h.6M97.66 581.51h.6M113.39 585.53h.6M99.06 581.56h.6M108.76 589.77h.6M98.6 589.11h.6M90.76 585.76h.6M98.03 588.5h.6M93.98 590.43h.6M90.54 579.49h.6M99.94 585.02h.6M92.88 583.11h.6M98.18 585.47h.6M112.14 581.57h.6M105.22 587.99h.6M94.76 589.33h.6M105.89 589.35h.6M77.63 587.87h.6M97.73 586.04h.6M105.4 585.07h.6" stroke="#000" stroke-width=".65" opacity=".7" fill="none"/>
<path d="M81.9 588.7C79 590.48 79.02 594.5 78.8 596.9C78.58 599.3 78.95 601.32 80.6 603.1C82.25 604.88 86.1 606.03 88.7 607.6C91.3 609.17 93.8 611.23 96.2 612.5C98.6 613.77 101.12 615.42 103.1 615.2C105.08 614.98 106.75 613.53 108.1 611.2C109.45 608.87 110.63 604.53 111.2 601.2C111.77 597.87 112.02 593.57 111.5 591.2C110.98 588.83 110.65 587.83 108.1 587C105.55 586.17 100.57 585.92 96.2 586.2C91.83 586.48 84.8 586.92 81.9 588.7Z" fill="#fff" stroke="#000" stroke-width="0.95"/>
<path d="M84.48 589.7C82.07 591.37 82.14 594.7 81.97 596.77C81.8 598.84 82.1 600.52 83.46 602.09C84.82 603.67 87.91 604.83 90.13 606.23C92.34 607.64 94.64 609.44 96.75 610.52C98.86 611.59 101.05 612.84 102.8 612.66C104.54 612.47 105.95 611.37 107.23 609.4C108.51 607.43 109.89 603.81 110.47 600.84C111.06 597.86 111.22 593.74 110.74 591.54C110.26 589.34 109.97 588.42 107.59 587.62C105.22 586.83 100.32 586.42 96.47 586.77C92.62 587.12 86.9 588.03 84.48 589.7Z" fill="#fff" stroke="#000" stroke-width="0.6"/>
<path d="M86.75 590.57C84.74 592.11 84.85 594.88 84.71 596.66C84.58 598.43 84.83 599.83 85.95 601.22C87.07 602.61 89.54 603.74 91.42 604.99C93.31 606.24 95.4 607.82 97.25 608.72C99.1 609.63 100.99 610.57 102.53 610.41C104.06 610.25 105.25 609.42 106.45 607.76C107.65 606.1 109.12 603.1 109.7 600.45C110.29 597.81 110.38 593.93 109.94 591.9C109.5 589.87 109.25 589.03 107.06 588.29C104.86 587.54 100.16 587.04 96.77 587.42C93.39 587.8 88.76 589.03 86.75 590.57Z" fill="#fff" stroke="#000" stroke-width="0.6"/>
<path d="M88.62 591.3C86.94 592.71 87.06 595.03 86.96 596.57C86.85 598.1 87.06 599.27 87.99 600.5C88.92 601.73 90.91 602.82 92.53 603.93C94.14 605.05 96.05 606.43 97.68 607.2C99.31 607.97 100.95 608.68 102.3 608.54C103.65 608.41 104.67 607.78 105.78 606.37C106.89 604.96 108.4 602.44 108.96 600.08C109.53 597.73 109.57 594.1 109.17 592.25C108.77 590.39 108.55 589.62 106.54 588.92C104.52 588.23 100.06 587.67 97.08 588.07C94.09 588.46 90.31 589.88 88.62 591.3Z" fill="#f6f6f6" stroke="#000" stroke-width="0.6"/>
<path d="M90.23 591.92C88.81 593.21 88.95 595.16 88.87 596.49C88.79 597.82 88.96 598.8 89.73 599.89C90.51 600.97 92.12 602 93.5 603C94.89 603.99 96.62 605.21 98.05 605.86C99.49 606.52 100.92 607.05 102.11 606.93C103.3 606.81 104.17 606.35 105.19 605.14C106.21 603.94 107.7 601.82 108.24 599.72C108.78 597.63 108.79 594.28 108.42 592.58C108.06 590.88 107.87 590.19 106.03 589.55C104.19 588.9 100.02 588.32 97.38 588.72C94.75 589.11 91.65 590.62 90.23 591.92Z" fill="#dcdcdc" stroke="#000" stroke-width="0.6"/>
<path d="M91.6 592.45C90.4 593.62 90.54 595.27 90.47 596.42C90.41 597.58 90.56 598.41 91.2 599.37C91.85 600.33 93.16 601.29 94.35 602.18C95.55 603.07 97.11 604.14 98.38 604.7C99.64 605.26 100.89 605.65 101.94 605.55C102.99 605.45 103.74 605.1 104.68 604.08C105.61 603.05 107.06 601.25 107.56 599.38C108.07 597.52 108.06 594.44 107.72 592.89C107.39 591.35 107.23 590.73 105.56 590.14C103.88 589.54 100 588.96 97.68 589.35C95.35 589.73 92.8 591.27 91.6 592.45Z" fill="#a4a4a4" stroke="#000" stroke-width="0.6"/>
<path d="M92.74 592.89C91.71 593.96 91.85 595.36 91.8 596.37C91.75 597.38 91.88 598.09 92.42 598.94C92.97 599.8 94.04 600.69 95.08 601.48C96.12 602.28 97.53 603.22 98.65 603.71C99.77 604.19 100.87 604.48 101.81 604.39C102.74 604.3 103.38 604.05 104.24 603.16C105.1 602.28 106.47 600.74 106.95 599.07C107.42 597.41 107.39 594.58 107.09 593.18C106.78 591.78 106.65 591.21 105.12 590.67C103.6 590.13 100.02 589.56 97.95 589.93C95.89 590.3 93.76 591.81 92.74 592.89Z" fill="#5e5e5e" stroke="#000" stroke-width="0.6"/>
<path d="M93.66 593.24C92.78 594.22 92.92 595.43 92.87 596.32C92.83 597.22 92.94 597.83 93.41 598.6C93.88 599.36 94.77 600.19 95.68 600.91C96.59 601.62 97.88 602.46 98.88 602.89C99.88 603.31 100.86 603.53 101.69 603.45C102.52 603.37 103.09 603.18 103.88 602.4C104.66 601.63 105.96 600.3 106.4 598.8C106.85 597.31 106.81 594.71 106.53 593.43C106.25 592.15 106.13 591.64 104.74 591.14C103.35 590.64 100.04 590.09 98.19 590.44C96.35 590.8 94.55 592.26 93.66 593.24Z" fill="#2c2c2c" stroke="#000" stroke-width="0.6"/>
<path d="M94.57 593.59C93.81 594.48 93.95 595.5 93.91 596.28C93.88 597.06 93.97 597.59 94.37 598.26C94.76 598.94 95.49 599.69 96.28 600.33C97.07 600.96 98.23 601.7 99.11 602.07C99.99 602.43 100.85 602.59 101.58 602.52C102.32 602.45 102.8 602.32 103.51 601.65C104.22 600.98 105.43 599.85 105.84 598.52C106.25 597.19 106.2 594.84 105.95 593.69C105.7 592.54 105.6 592.08 104.35 591.63C103.1 591.18 100.08 590.66 98.45 590.99C96.82 591.31 95.33 592.71 94.57 593.59Z" fill="#121212" stroke="#000" stroke-width="0.6"/>
<path d="M95.46 593.94C94.82 594.72 94.95 595.57 94.92 596.24C94.9 596.91 94.97 597.35 95.3 597.93C95.63 598.52 96.21 599.2 96.88 599.75C97.56 600.31 98.57 600.95 99.33 601.26C100.1 601.57 100.84 601.67 101.47 601.61C102.11 601.55 102.52 601.46 103.15 600.9C103.78 600.33 104.89 599.38 105.25 598.23C105.62 597.07 105.57 594.97 105.35 593.96C105.13 592.94 105.04 592.54 103.93 592.14C102.83 591.74 100.13 591.26 98.71 591.56C97.3 591.86 96.09 593.16 95.46 593.94Z" fill="#000" stroke="#000" stroke-width="0.6"/>
<circle cx="101.47" cy="594.89" r="0.49" fill="#fff" opacity=".85"/>
<circle cx="102.27" cy="597.43" r="0.47" fill="#fff" opacity=".85"/>
<circle cx="99.58" cy="596.1" r="0.78" fill="#fff" opacity=".85"/>
<circle cx="101.59" cy="594.81" r="0.44" fill="#fff" opacity=".85"/>
<circle cx="100.71" cy="597.13" r="0.58" fill="#fff" opacity=".85"/>
<circle cx="102.2" cy="596.44" r="0.5" fill="#fff" opacity=".85"/>
<circle cx="101.5" cy="595.67" r="0.43" fill="#fff" opacity=".85"/>
<circle cx="101.3" cy="595.7" r="1.3" fill="#fff"/>
<circle cx="100.9" cy="596.2" r="0.45" fill="#222"/>
<text x="54" y="640.6" font-size="3.6" text-anchor="end" fill="#444" class="t">10<tspan dy="-1.3" font-size="2.6">0</tspan></text>
<text x="56.2" y="645.5" font-size="3.6" text-anchor="middle" fill="#444" class="t">10<tspan dy="-1.3" font-size="2.6">0</tspan></text>
<text x="54" y="620.5" font-size="3.6" text-anchor="end" fill="#444" class="t">10<tspan dy="-1.3" font-size="2.6">1</tspan></text>
<text x="76.48" y="645.5" font-size="3.6" text-anchor="middle" fill="#444" class="t">10<tspan dy="-1.3" font-size="2.6">1</tspan></text>
<text x="54" y="600.4" font-size="3.6" text-anchor="end" fill="#444" class="t">10<tspan dy="-1.3" font-size="2.6">2</tspan></text>
<text x="96.75" y="645.5" font-size="3.6" text-anchor="middle" fill="#444" class="t">10<tspan dy="-1.3" font-size="2.6">2</tspan></text>
<text x="54" y="580.3" font-size="3.6" text-anchor="end" fill="#444" class="t">10<tspan dy="-1.3" font-size="2.6">3</tspan></text>
<text x="117.03" y="645.5" font-size="3.6" text-anchor="middle" fill="#444" class="t">10<tspan dy="-1.3" font-size="2.6">3</tspan></text>
<text x="54" y="560.2" font-size="3.6" text-anchor="end" fill="#444" class="t">10<tspan dy="-1.3" font-size="2.6">4</tspan></text>
<text x="137.3" y="645.5" font-size="3.6" text-anchor="middle" fill="#444" class="t">10<tspan dy="-1.3" font-size="2.6">4</tspan></text>
<line x1="55" y1="558.8" x2="55" y2="639.2" stroke="#000" stroke-width="1.1" stroke-dasharray="0.6 1.7" opacity=".6"/>
<line x1="56.2" y1="640.4" x2="137.3" y2="640.4" stroke="#000" stroke-width="1.1" stroke-dasharray="0.6 1.7" opacity=".6"/>
<line x1="56.2" y1="558.3" x2="56.2" y2="640" stroke="#000" stroke-width="1.7"/>
<line x1="56.2" y1="639.2" x2="137.7" y2="639.2" stroke="#000" stroke-width="1.6"/>
<line x1="56.2" y1="558.8" x2="137.3" y2="558.8" stroke="#000" stroke-width="1"/>
<line x1="137.3" y1="558.8" x2="137.3" y2="639.2" stroke="#000" stroke-width="0.9"/>
<path d="M137.3 559.2H77.3V587H137.3" fill="none" stroke="#000" stroke-width="1.5"/>
<line x1="137.3" y1="558.8" x2="137.3" y2="587" stroke="#000" stroke-width="1.5"/>
<text x="134.9" y="573.1" text-anchor="end" font-size="15.5">2.7</text>
<path d="M98.5 739.92h.6M76.09 695.71h.6M108.63 701.68h.6M87.42 697.68h.6M105.39 743.26h.6M104.92 701.34h.6M83.79 727.34h.6M99.66 697.28h.6M80.32 729.6h.6M112.3 707.54h.6M112.24 709.69h.6M115.92 716.88h.6M104.99 698.73h.6M105.12 742.38h.6M91.27 696.95h.6M82.59 701.12h.6M115.48 713.75h.6M90.26 734.7h.6M116.12 713.11h.6M109.98 705.26h.6M103.65 698.71h.6M95.1 736.67h.6M94.05 696.77h.6M108.89 739.63h.6M97.82 741.54h.6M75.8 709.29h.6M84.7 734.56h.6M83.97 697.99h.6M101.27 741.36h.6M78.97 718.18h.6M110.89 734.61h.6M107.52 701.52h.6M78.59 708.73h.6M114.65 726.47h.6M91.67 743.02h.6M99.79 739.24h.6M82.17 724.55h.6M114.94 719.54h.6M72.38 711.08h.6M78.58 721.64h.6M82.18 701.66h.6M84.95 726.94h.6M110.97 701.62h.6M98.4 740.2h.6M76.95 712.32h.6M94.99 739.95h.6M107.1 701.81h.6M110.75 733.45h.6M78.8 711.77h.6M81.92 730.56h.6M113.69 727.7h.6M80.3 720.02h.6M89.49 691.91h.6M105.22 699.16h.6M113.3 723.74h.6M116.8 725.79h.6M80.03 704.27h.6M114.5 732.48h.6M91.25 735.24h.6M81.37 720.91h.6M92.56 695.15h.6M94.05 698.14h.6M80.12 690.75h.6M109.63 706.85h.6M78.03 694.03h.6M80.1 701.41h.6M82.58 723.86h.6M118.9 723.9h.6M104.63 695.3h.6M74.25 704.54h.6M76.92 716.07h.6M73.57 720.37h.6M80.83 722.98h.6M93.99 694.75h.6M87.95 698.23h.6M83.23 700.1h.6M92.48 737.35h.6M80.61 720.52h.6M77.94 722.27h.6M110.64 734.57h.6M91.18 694.93h.6M78.71 722.21h.6M114.5 713.79h.6M78.62 724.66h.6M88.9 693.14h.6M91.97 696.38h.6M108.06 737.51h.6M91.42 735.4h.6M110.62 733.91h.6M97.67 738.53h.6M101.36 743.38h.6M111.75 732.33h.6M112.84 709.84h.6M114.15 712.28h.6M90.35 697.54h.6M106.24 738.99h.6M94.18 694.89h.6M94.42 743.58h.6M86.51 691.3h.6M91.34 697.98h.6M84.9 700.09h.6M78.61 722.02h.6M111.79 711.5h.6M78.77 692.14h.6M114.87 707.08h.6M92.69 735.48h.6M101.45 698.26h.6M87.16 698.51h.6M119.11 707.61h.6M95.74 698.55h.6M90.63 734.07h.6M112.5 728.02h.6M77.67 725.29h.6M80.41 706.24h.6M112.83 737.96h.6M77.77 721.69h.6M110.08 707.81h.6M114.66 724.07h.6M112.62 712.56h.6M102.4 742.2h.6M84.21 698.96h.6M118.73 725.45h.6M87.33 730.27h.6M109.19 702.6h.6M109.81 707.5h.6M70.68 713.82h.6M77.34 708.37h.6M86.2 698.38h.6M99.16 698.44h.6M114.85 731.19h.6M88.49 731.39h.6M111.42 710.83h.6M95.08 736.95h.6M80.38 710.61h.6M113.93 705.59h.6M98.75 738.37h.6M117.59 704.92h.6M84.37 729.18h.6M81.95 729.43h.6M96.68 696.39h.6M96.96 738.97h.6M107.65 701.59h.6M114.46 723.4h.6M94.37 693.95h.6M83.74 701.08h.6M79.58 712.72h.6M85.85 728.77h.6M85.7 697.73h.6M105.83 696.46h.6M96.21 739.28h.6M78.38 702.76h.6M107.16 737.4h.6M112.8 710.03h.6M113.82 730.03h.6M111.71 728.09h.6M98.17 739.32h.6M112.51 727.69h.6M91.05 735.68h.6M107.56 701.71h.6M96.48 697.45h.6M116.34 720.83h.6M85.94 728.19h.6M103.76 697.03h.6M94.63 740.2h.6M77.84 720.31h.6M101.09 742.33h.6M81.29 705.09h.6M81.15 704.74h.6M93.34 733.77h.6M86.78 729.48h.6M83.04 701.18h.6M86.41 727.66h.6M87.98 734.7h.6M83.44 700.84h.6M81.67 722.48h.6M82.71 699.84h.6M89.41 697.72h.6M92.24 737.03h.6M114.06 718.59h.6M79.6 704.98h.6M101.11 698.12h.6M103.12 740.41h.6M77.13 697.49h.6M111.95 730.52h.6M103.82 743.02h.6M97.28 737.93h.6M101.94 696.99h.6M79.34 715.55h.6M107.61 739.21h.6M80.83 699.23h.6M80.1 702.44h.6M86.46 698.32h.6M107.57 701.14h.6M79.67 724.17h.6M86.43 728.42h.6M108.87 739.09h.6M110.9 735.84h.6M83.21 729.76h.6M97.53 739.4h.6M81.01 702.23h.6M108.32 739.48h.6M80.63 695.76h.6M111.58 726.98h.6M81.83 697.31h.6M79.66 701.32h.6M78.84 712.16h.6M101.29 698.77h.6M112.75 727.57h.6M111.36 732.45h.6M88.83 696.13h.6M101.69 742.07h.6M87.34 735.16h.6M113.75 720.32h.6M86.57 697.76h.6M87.08 737.61h.6M77.23 710.48h.6M111.17 702.24h.6M111.56 733.11h.6M81.33 706.3h.6M100.99 742.52h.6M115.6 721.02h.6M113.28 727.88h.6M68.27 721.34h.6M113.83 705.22h.6M114.83 733.49h.6M85.46 699.13h.6M75.43 689.42h.6M103 699.68h.6M77.28 703.38h.6M112.55 717.33h.6M115.77 736.36h.6M81.93 709.9h.6M102.73 699.03h.6M81.71 723.38h.6M75.53 711.15h.6M96.1 743.1h.6M89.58 699.17h.6M98.05 697.38h.6M78.8 722.75h.6M97.83 737.81h.6M90.2 733.05h.6M82.17 701.04h.6M113.2 713.5h.6M77 724.26h.6M112.98 732.82h.6M84.27 700.7h.6M96.75 697.25h.6M83.51 726.83h.6M110.06 701.7h.6M105.67 739.09h.6M83.96 727.4h.6M79.06 718.39h.6M114.43 716.27h.6M76.64 712.23h.6M88.55 698.11h.6M86.79 698.54h.6M83.68 696.21h.6M112.06 727.02h.6M113.42 728.3h.6M79.73 706.19h.6M112.08 710.97h.6M87.61 699.03h.6M91.23 734.41h.6M81.64 702.84h.6M84.54 733.96h.6M111.91 714.75h.6M117.42 724.49h.6M103.01 740.75h.6M81.83 702.23h.6M98.67 740.39h.6M113.58 721.18h.6M77.12 713.68h.6M88.46 733.24h.6M94.14 698.46h.6M101.88 697.72h.6M86.98 692.22h.6M104.86 699.27h.6M90.72 694.02h.6M78.79 711.85h.6M115.03 715.47h.6M100.09 695.27h.6M101.04 741.32h.6M81.58 698.98h.6M111.62 738.48h.6M77.8 719.52h.6M75.76 720.21h.6M78.55 702.91h.6M80.96 720.01h.6M80.13 722.52h.6M83.94 701.61h.6M94.1 696.7h.6M114.64 737.07h.6M78.74 701.33h.6M103.24 694.78h.6M94.16 737.18h.6M78.06 724.31h.6M108.65 705.23h.6M99.66 698.16h.6M90.72 733.9h.6M96.36 741.55h.6M80.28 720.51h.6M79.47 718.63h.6M114.94 721.1h.6M103.58 742.39h.6M87.27 737.53h.6M97.67 696.11h.6M85.61 728.15h.6M86.53 730.32h.6M85.73 727.88h.6M106.12 738.67h.6M78.85 695.9h.6M86.7 697.98h.6M79.06 694.77h.6M107.96 700.78h.6M100.31 740.28h.6M86.73 698.21h.6M81.84 724.59h.6M115.35 720.81h.6M99.5 698.06h.6M75.36 716.4h.6M116.4 720.46h.6M115.94 724.66h.6M112.92 726.26h.6M115.5 717.65h.6M108.92 697.99h.6M83.17 725.83h.6M84.54 728.79h.6M110.73 707.82h.6M102.26 739.92h.6M79.84 723.6h.6M78.94 704.21h.6M106.93 702h.6M103.92 741.63h.6M112.94 715.17h.6M90.15 698.41h.6M78.49 697.37h.6M82.17 701.88h.6M107.22 702.89h.6M97.14 737.31h.6M87.94 698.31h.6M89.79 698.55h.6M110.82 732.85h.6M117.19 720.08h.6M71.15 704.88h.6M104.54 700.33h.6M94.39 696.99h.6M111.44 711.83h.6M78.41 710.23h.6M81.94 702.37h.6M97.39 741.29h.6M113.54 735.25h.6M82.47 723.82h.6M84.55 697.84h.6M114.25 724.61h.6M69.91 727.2h.6M103.07 697.41h.6M96.4 698.33h.6M84.63 728.8h.6M107.64 738.37h.6M99.32 697.89h.6M81.95 700.82h.6M104.57 700.12h.6M78.44 711.4h.6M109.96 702.27h.6M112.66 729.03h.6M86.71 698.7h.6M109.49 702.36h.6M102 695.77h.6M110.99 732h.6M112.62 711.52h.6M89.05 735.96h.6M112.96 722.33h.6M113.75 737.58h.6M90.64 734.73h.6M111.38 731.3h.6M88.19 689.31h.6M79.62 711.47h.6M80.46 710.09h.6M98.88 697.5h.6M93.43 737.11h.6M78.89 708.79h.6M112.26 711.87h.6M109.33 737.4h.6M85.56 698.64h.6M78.52 708.86h.6M76.96 695.03h.6M97.9 738.07h.6M120.51 724.72h.6M76.24 693.99h.6M99.66 738.59h.6M78.85 708.21h.6M106.92 699.38h.6M76.71 718.81h.6M113.96 727.43h.6M79.08 720.49h.6M103.73 699.93h.6M80.59 732.78h.6M91.33 734.25h.6M103.83 743.39h.6M111.86 727.67h.6M113.28 730.08h.6M97.92 738.02h.6M87.4 695.76h.6M111.19 733.74h.6M78.95 714.8h.6M92.4 691.57h.6M80.37 701.34h.6M111.53 707.72h.6M82.71 720.05h.6M83.36 697.97h.6M109.01 701.45h.6M83.17 701.45h.6M89.65 698.58h.6M77.67 713.95h.6M88.43 692.88h.6M114.59 700.87h.6M80.41 711.71h.6M105.7 698.86h.6M105.47 698.03h.6M94.22 738.33h.6M84.44 701.1h.6M111.01 731.87h.6M79.62 701.28h.6M110.18 704.2h.6M86.71 728.82h.6M97.96 738.51h.6M104.39 741.82h.6M93.57 696.31h.6M104.34 743.3h.6M84.82 698h.6M79.87 722.39h.6M86.74 697.85h.6M87.43 730.61h.6M113.07 720.48h.6M85.29 730.31h.6M73.98 713.11h.6M87.51 698.3h.6M107.7 739.91h.6M112.26 733.6h.6M83.96 699.58h.6M75.9 711.18h.6M76.47 716.69h.6M78.83 706.74h.6M81.59 698.92h.6M83.53 696.45h.6M94.98 737.56h.6M106.84 701.3h.6M102.79 697.22h.6M115.09 707.21h.6M98.25 740.35h.6M103.3 742.74h.6M112.08 712.58h.6M96.73 738.16h.6M81.03 703.23h.6M102.62 742.49h.6M109.72 735.98h.6M105.09 740.93h.6M73.52 695.04h.6M113.14 728.9h.6M78.08 715.13h.6M80.86 718.61h.6M86.07 698.19h.6M79.07 721.6h.6M84.24 730.86h.6M107.07 703.14h.6M80.74 720.22h.6M109.2 737.93h.6M79.72 717.51h.6M110.74 736.37h.6M97.77 741.71h.6M75.97 715.1h.6M91.81 742.48h.6M100.91 697.42h.6M99.68 721.12h.6M98.79 703.68h.6M99.75 709.35h.6M92.52 716.15h.6M90.47 718.93h.6M93.5 711.3h.6M90.79 731.96h.6M107.59 732.27h.6M91.83 715.98h.6M102.6 728.9h.6M84.67 712.69h.6M89.12 723.36h.6M105.16 714.76h.6M116.68 721.86h.6M118.78 723.84h.6M90.4 736.69h.6M95.29 711.9h.6M110.3 722.21h.6M106.43 707.15h.6M109.21 733.27h.6M98.36 726.22h.6M95.51 711.97h.6M83.61 717.08h.6M105.1 730.35h.6M103 727.94h.6M95.01 702.51h.6M102.65 721.73h.6M107.09 718.42h.6M89.04 719.9h.6M99.22 700.31h.6M96.06 707.67h.6M90.69 709.38h.6M113.73 719.28h.6M107.65 720.9h.6M103.7 712.71h.6M103.34 701.42h.6M115.51 716.03h.6M104.89 714.15h.6M104.39 707.4h.6M91.57 726.03h.6M109.82 700.84h.6M109.69 707.83h.6M98.44 724.13h.6M93.76 713.11h.6M94.47 721.37h.6M100.63 734.33h.6M93.5 738.77h.6M83.73 732.81h.6M93.03 724.93h.6M96.6 718.61h.6M88.95 719.22h.6M114.17 725.73h.6M97.75 718.15h.6M104.57 718.31h.6M97.13 720.28h.6M105.32 731.44h.6M91.48 708.8h.6M95.08 726.56h.6M106.7 719.05h.6M116.13 722.98h.6M104.49 736.39h.6M110.43 724.95h.6M108.17 704.9h.6M85.39 706.81h.6M100.09 730.79h.6M93.37 728.07h.6M97.28 734.88h.6M87.72 705.24h.6M93.75 705.03h.6M114.89 714.06h.6M92.5 711.76h.6M106.91 716.3h.6M102.07 725.79h.6M101.08 693.04h.6M94.8 703.16h.6M114.05 716.05h.6M87.73 718.64h.6M101.73 709.14h.6M103.74 730.45h.6M102.96 711.56h.6M98.04 695.4h.6M99.72 723.17h.6M90.23 715.64h.6M129.14 716.96h.6M81.62 719h.6M96.18 712.02h.6M103.57 718.75h.6M104.35 726.22h.6M107.14 722.83h.6M75.21 724.97h.6M80.12 723.26h.6M105 705.27h.6M95.35 726.99h.6M89.33 715.47h.6M95.42 706.05h.6M88.27 728.8h.6M103.74 719.92h.6M96.82 719.14h.6M99.67 720.8h.6M80.42 721.98h.6M100.17 689.96h.6M108.1 708.4h.6M97.11 716.78h.6M91.14 721.6h.6M96.69 714.56h.6M91.04 712.48h.6M89.21 715.4h.6M105.33 732.04h.6M106.38 706.03h.6M103.16 730.4h.6M123.12 702.23h.6M99.29 714.89h.6M110.88 710.72h.6M86.5 739.76h.6M113.36 701.52h.6M93.24 731.62h.6M90.7 722.1h.6M104.02 704.03h.6M88.7 727.37h.6M109.97 715.77h.6M109.87 714.5h.6M100.1 718.62h.6M86.43 717.48h.6M104.57 689.9h.6M94.11 707.25h.6M94.53 705.94h.6M101.03 691.86h.6M105.12 721.49h.6M101.04 716.23h.6M99.44 715.69h.6M94.36 699.82h.6M94.94 728.32h.6M94.14 734.68h.6M87.57 711.33h.6M88.42 728.36h.6M113.95 718.06h.6M104.93 717.89h.6M90.07 713.95h.6M83.75 730.2h.6M98.62 731.56h.6M109.69 695.16h.6M104.33 721.39h.6M77.78 711.84h.6M100.25 738h.6M86.64 722.74h.6M101.37 717.36h.6M93.72 722.42h.6M100.41 726.3h.6M99.33 703.79h.6M104.28 734.87h.6M93.4 716.03h.6M111.02 703.13h.6M93.43 743.47h.6M102.78 711.9h.6M114.95 724.32h.6M101.28 714.48h.6M105.95 700.84h.6M92.63 699.56h.6M105.82 719.85h.6M114.91 701.37h.6M87.76 730.63h.6M98.11 697.19h.6M93.03 712.36h.6M93.18 730.89h.6M103.45 737.41h.6M104.63 714.82h.6M99.2 701.88h.6M104.06 734.29h.6M101.94 709.48h.6M101.84 724.91h.6M103.46 706.98h.6M102.02 713.14h.6M101.98 726.18h.6M103.19 715.12h.6M107.86 730.3h.6M105.51 730.17h.6M102.09 723.9h.6M95.67 696.77h.6M88 721.27h.6M104.91 722.59h.6M92.12 736.47h.6M101.12 699.15h.6M86.3 710.15h.6M101.15 727.42h.6M93.21 725.44h.6M100.21 710.7h.6M92.13 724.35h.6M109.97 709.76h.6M89.35 716.24h.6M119.86 712.85h.6M86.09 718.38h.6M104.43 713.49h.6M96.03 722.74h.6M83.61 712.51h.6M99.65 728.97h.6M107.93 720.82h.6M81.2 726.96h.6M106.69 714.03h.6M102.84 731.43h.6M105.35 694.2h.6M96.84 709.1h.6M91.35 714.68h.6M87.63 718.6h.6M117.95 711.92h.6M108.54 715.88h.6M102.97 718.39h.6M111.2 714.84h.6M106.87 712.55h.6M99.95 718.56h.6M112.71 705.66h.6M81.8 727.73h.6M95.08 735.99h.6M88.7 716.99h.6M96.63 737.33h.6M99.18 713.41h.6M104.29 719.15h.6M89.05 723.3h.6M85.89 702.21h.6M111.07 717.16h.6M93.98 720.71h.6M105.38 726.62h.6M92.07 709.48h.6M107.11 719.99h.6M89.63 724.76h.6M99.6 743h.6M91.65 707.77h.6M90.99 719.44h.6M90.04 727.62h.6M72.31 719.44h.6M93.68 713.35h.6M101.97 721.72h.6M84.22 729.84h.6M104.54 714.87h.6M103.72 707.67h.6M88.94 711.33h.6M100.65 720.11h.6M96.59 701.94h.6M78.39 728.79h.6M103.94 711.18h.6M105.85 690.85h.6M92.57 684.77h.6M105.45 689.73h.6M109.57 689.92h.6M91.15 684.84h.6M90.17 689.34h.6M98.11 691.2h.6M99.75 682.46h.6M94.31 683.04h.6M100 681.06h.6M91.19 683.48h.6M90.88 686.65h.6M108.52 686.65h.6M84.12 686.41h.6M102.2 690.92h.6M97.98 698.51h.6M105.19 688.48h.6M106.07 680.94h.6M94.6 683.43h.6M97.47 696.53h.6M91.9 696.41h.6M87.55 695.52h.6M81.99 683.52h.6M104.26 687.52h.6M97.2 687.93h.6M97.5 687.06h.6M87.91 686.47h.6M96.92 683.25h.6M99.86 697.3h.6M82.44 685.13h.6M93.68 688.1h.6M96.79 684.18h.6M95.72 688.03h.6M95.29 696.13h.6M97.08 680.21h.6M83.06 691.12h.6M93.18 684.74h.6M84.81 686.37h.6M95.25 684.38h.6M93.1 692.68h.6M102.48 690.89h.6M94.57 680.84h.6M102.42 695.9h.6M106.53 694.14h.6M98.29 689.98h.6M95.89 694.62h.6M93.78 699.33h.6M102.43 686.3h.6M95.99 679.52h.6M89.95 686.42h.6M116.22 683.71h.6M103.58 688.41h.6M93.56 691.3h.6M79.55 692.99h.6M111.98 689.56h.6M95.49 688.85h.6M101.48 685.42h.6M97 690.66h.6M93.12 690.06h.6M98.76 691.77h.6M87.86 685.17h.6M92.48 694.32h.6M98.06 679.28h.6M85.46 698.24h.6M98.8 681.17h.6M88.49 688.75h.6M107.78 696.55h.6M92.99 686.42h.6M111.84 682.82h.6M108.91 689.79h.6M96.78 694.79h.6M99.99 683.59h.6M83.42 688.09h.6M100.23 695.22h.6M74.44 695.08h.6M101.11 696.01h.6M102.58 689.13h.6M99.57 690.11h.6M90.82 687.4h.6M97.06 685.62h.6M83.91 680.37h.6M100.17 690.75h.6M96.9 681.83h.6M103.03 685.93h.6M78.88 696.27h.6M83.69 699.9h.6M100.4 685.67h.6M76.6 684.28h.6M108.23 695.19h.6M98.14 678.96h.6M92.86 686.51h.6M99.82 687.34h.6M98.85 679.38h.6M90.69 695.62h.6M84.01 692.88h.6M115.06 691.44h.6M84.54 694.58h.6M80.7 689.79h.6M92.63 694.55h.6M105.73 689.01h.6M110.79 693.2h.6M92.06 682.81h.6M116.32 685.86h.6M99.4 687.39h.6M92.1 679.5h.6M94.81 687.39h.6M104.11 685.28h.6M83.09 682.32h.6M95.67 689.32h.6M101.98 685.98h.6M100.46 688.76h.6M109.94 687.71h.6M97.19 691h.6M106.06 683.13h.6M92.09 686.55h.6M78.41 694.9h.6M104.86 688.12h.6M123.79 694.73h.6M112.7 696.32h.6M103.48 680.5h.6M108.65 690.23h.6M86.13 688.28h.6M102.23 693.21h.6M97.45 685.23h.6M102.32 683.97h.6M95.36 692.05h.6M84.12 689.99h.6M79.83 683.09h.6M85.84 687.53h.6M101.9 687.73h.6M103.54 688.51h.6M94.31 690.61h.6M94.03 688.72h.6M104.6 684.98h.6M105.51 682.13h.6M94.19 678.8h.6M91.62 696.43h.6M98.95 694.73h.6M83.86 682.64h.6M99.86 692.39h.6M102.91 679.12h.6M100.22 687.62h.6M97 690.53h.6M93.69 679.03h.6M87.17 680.33h.6M85.13 687.29h.6M106.81 684.21h.6M89.69 681.91h.6M81.72 688.35h.6M91.99 686.73h.6M88.06 690.58h.6M86.07 690.91h.6M90.53 692.18h.6M88.66 690.35h.6M99.64 687.58h.6M109.51 688.93h.6M88.66 691.67h.6M89.19 685.13h.6M96.1 688.97h.6M110.11 678.73h.6M93.87 694h.6M94.68 689.71h.6M108.63 681.46h.6M96.37 692.21h.6M91.15 678.7h.6M87.74 689.03h.6M97.57 697.79h.6M106.99 679.78h.6M104.59 692.86h.6M109.41 687.19h.6M91.4 688.78h.6M108.81 691.31h.6M110.05 692.18h.6M91.13 682.62h.6M111.34 679.96h.6M93.1 686.31h.6M88.46 684.96h.6M96.05 700.64h.6M95.46 685.22h.6M97.03 692.99h.6M89.24 685.84h.6M81.53 691.73h.6M101.64 695.98h.6M86.08 699.57h.6M103.23 686.54h.6M92.76 686.35h.6M85.95 692.1h.6M90.97 684.16h.6M100.28 688.6h.6M91.16 686.75h.6M91.93 695.16h.6M104.3 684.13h.6M95.67 695.3h.6M93.62 697.48h.6M99.69 691.56h.6M78.79 692.52h.6M98.82 691.1h.6M99.99 690.81h.6M91.79 692.79h.6M96.52 682.42h.6M87.56 688.86h.6M98.78 676.25h.6M78.9 693.6h.6M95.9 703.18h.6M83.3 686.68h.6M91.03 690.97h.6M107.69 696.59h.6M87.64 694.58h.6M85.92 689.64h.6M97.42 691.31h.6M89.37 695.13h.6M95.44 687.9h.6M93.79 682.32h.6M101.99 689.79h.6M99.78 697.94h.6M88.81 686.49h.6M96.06 692.56h.6M94.53 692.98h.6M99.79 678.62h.6M90.34 677.17h.6M93.63 685.78h.6M100.89 688.91h.6M95.47 694.73h.6M100.94 681.43h.6M90.28 689.75h.6M110.13 686.95h.6M94.59 689.42h.6M102.5 687.52h.6M98.45 685.75h.6M91.43 683.76h.6M101.47 685.03h.6M100.56 690.17h.6M104.08 673.67h.6M87.99 681.49h.6M94.64 692.3h.6M117.03 696.25h.6M107.27 690.04h.6M92.79 690.86h.6M77.92 692.97h.6M96.07 691.3h.6M87.46 682.15h.6M90.66 687.77h.6M98.9 686.11h.6M98.9 691.64h.6M86.37 687.46h.6M83.07 685.07h.6M103.51 684.18h.6M111.47 690.7h.6M103.39 688.56h.6M103.18 693.85h.6M96.89 685.17h.6M91.44 698.32h.6M94.48 685.56h.6M90.12 678.99h.6M91.85 689.74h.6M91.97 683.94h.6M99.4 690.46h.6M92.38 689.65h.6M87.92 692.6h.6M87.82 686.2h.6M97.13 685.76h.6M86.49 699.22h.6M108.6 678.67h.6M97.01 681.22h.6M98.59 681.03h.6M100.83 690.84h.6M110.19 694.45h.6M92.2 693.06h.6M92.19 687.4h.6M91.85 678.58h.6M101.01 677.12h.6M94.04 690.81h.6M96.95 679.57h.6M90.61 691.64h.6M105.13 696.54h.6M80.93 690.46h.6M92 692.09h.6M81.98 687.24h.6M101.88 684.55h.6M92.99 682.76h.6M105.26 680.89h.6M88.42 686.22h.6M93.37 699.31h.6M98.28 683.54h.6M100.83 689.84h.6M98.34 687.65h.6M99.84 681.73h.6M86.02 685.72h.6M86.83 691.75h.6M112.12 694.62h.6M99.71 689.81h.6M90.31 681.04h.6M100.55 680.08h.6M98.51 687.24h.6M102.24 688.27h.6M96.88 684.89h.6M81.7 686.16h.6M101.78 693.6h.6M107.45 682.67h.6M88.22 691.76h.6M92.24 701.77h.6M98.61 679.87h.6M91.39 696.41h.6M80.84 688.82h.6M84.48 696.58h.6M92.29 682.48h.6M81.81 684.18h.6M74.77 685.46h.6M114.11 688.53h.6M93.8 681.78h.6M98.83 685.47h.6M88.96 695.41h.6M99.65 683.24h.6M108.29 687.71h.6M100.18 688.79h.6M105.8 691.3h.6M93.11 691.85h.6M92.75 688.72h.6M109.64 682.31h.6M87.4 685.85h.6M91.86 694.98h.6M82.77 700.29h.6M109.17 685.59h.6M97.55 686.07h.6M101.58 691.55h.6M102.25 692.11h.6M112.06 687.09h.6M101.82 687h.6M96.33 689.18h.6M95.57 689.86h.6" stroke="#000" stroke-width=".65" opacity=".7" fill="none"/>
<path d="M83 702C81.27 700.7 83.68 698.55 84.6 697.2C85.52 695.85 87.18 694.6 88.5 693.9C89.82 693.2 91.08 692.88 92.5 693C93.92 693.12 95.58 693.87 97 694.6C98.42 695.33 99.75 696.33 101 697.4C102.25 698.47 105.5 699.73 104.5 701C103.5 702.27 98.58 704.83 95 705C91.42 705.17 84.73 703.3 83 702Z" fill="#fff" stroke="#000" stroke-width=".9"/>
<path d="M80.8 703.5C79.82 705.93 79.02 710.45 79.3 714C79.58 717.55 80.4 721.43 82.5 724.8C84.6 728.17 88.53 731.5 91.9 734.2C95.27 736.9 99.78 740.55 102.7 741C105.62 741.45 107.6 739.6 109.4 736.9C111.2 734.2 112.93 728.83 113.5 724.8C114.07 720.77 113.65 716.33 112.8 712.7C111.95 709.07 110.32 705.35 108.4 703C106.48 700.65 104.05 699.5 101.3 698.6C98.55 697.7 94.58 697.47 91.9 697.6C89.22 697.73 87.05 698.42 85.2 699.4C83.35 700.38 81.78 701.07 80.8 703.5Z" fill="#fff" stroke="#000" stroke-width="0.95"/>
<path d="M83.61 705.65C82.72 707.74 81.88 711.55 82.04 714.63C82.2 717.71 82.76 721.15 84.56 724.15C86.36 727.16 89.83 730.33 92.81 732.67C95.8 735.02 99.88 737.88 102.49 738.24C105.09 738.61 106.74 737.17 108.45 734.87C110.15 732.56 112.09 728.06 112.7 724.43C113.31 720.8 112.94 716.38 112.1 713.07C111.26 709.77 109.47 706.61 107.66 704.6C105.86 702.58 103.69 701.69 101.26 700.99C98.84 700.29 95.4 700.21 93.09 700.39C90.77 700.58 88.96 701.23 87.38 702.1C85.8 702.98 84.5 703.57 83.61 705.65Z" fill="#fff" stroke="#000" stroke-width="0.6"/>
<path d="M86.06 707.53C85.26 709.32 84.42 712.52 84.49 715.2C84.55 717.87 84.92 720.89 86.46 723.56C87.99 726.23 91.04 729.19 93.68 731.23C96.32 733.27 99.98 735.48 102.3 735.78C104.61 736.07 105.99 734.96 107.57 733C109.16 731.05 111.2 727.27 111.82 724.02C112.44 720.77 112.12 716.48 111.31 713.5C110.5 710.51 108.64 707.83 106.96 706.11C105.28 704.39 103.37 703.7 101.23 703.16C99.1 702.62 96.13 702.65 94.14 702.87C92.15 703.09 90.63 703.69 89.29 704.47C87.94 705.25 86.86 705.75 86.06 707.53Z" fill="#fff" stroke="#000" stroke-width="0.6"/>
<path d="M88.08 709.08C87.36 710.63 86.54 713.34 86.54 715.67C86.54 718 86.78 720.67 88.09 723.05C89.41 725.43 92.1 728.18 94.44 729.95C96.78 731.73 100.07 733.46 102.14 733.7C104.2 733.94 105.35 733.08 106.82 731.4C108.29 729.72 110.34 726.54 110.96 723.62C111.57 720.71 111.29 716.61 110.52 713.92C109.75 711.22 107.9 708.93 106.34 707.45C104.79 705.96 103.09 705.43 101.21 705.01C99.32 704.59 96.74 704.7 95.02 704.93C93.29 705.17 92.02 705.73 90.86 706.42C89.7 707.11 88.8 707.54 88.08 709.08Z" fill="#f6f6f6" stroke="#000" stroke-width="0.6"/>
<path d="M89.81 710.41C89.16 711.74 88.38 714.05 88.34 716.08C88.29 718.11 88.42 720.47 89.56 722.59C90.69 724.71 93.07 727.24 95.14 728.79C97.21 730.34 100.16 731.69 102 731.89C103.83 732.09 104.8 731.42 106.15 729.98C107.5 728.53 109.51 725.83 110.11 723.23C110.7 720.62 110.45 716.76 109.73 714.34C109.01 711.91 107.2 709.95 105.78 708.67C104.35 707.39 102.85 706.98 101.18 706.65C99.52 706.33 97.28 706.48 95.78 706.72C94.28 706.96 93.2 707.48 92.21 708.09C91.21 708.71 90.45 709.08 89.81 710.41Z" fill="#dcdcdc" stroke="#000" stroke-width="0.6"/>
<path d="M91.27 711.53C90.69 712.69 89.95 714.66 89.88 716.44C89.81 718.21 89.86 720.3 90.84 722.18C91.82 724.07 93.92 726.39 95.76 727.75C97.6 729.11 100.24 730.16 101.88 730.32C103.51 730.49 104.33 729.97 105.57 728.73C106.8 727.48 108.73 725.18 109.3 722.85C109.87 720.52 109.65 716.92 108.97 714.74C108.3 712.56 106.57 710.88 105.27 709.77C103.97 708.66 102.63 708.34 101.16 708.09C99.69 707.84 97.73 708.02 96.43 708.26C95.13 708.49 94.21 708.97 93.35 709.51C92.49 710.06 91.85 710.38 91.27 711.53Z" fill="#a4a4a4" stroke="#000" stroke-width="0.6"/>
<path d="M92.49 712.47C91.97 713.48 91.27 715.18 91.18 716.74C91.1 718.3 91.1 720.15 91.95 721.84C92.81 723.52 94.67 725.65 96.31 726.84C97.94 728.03 100.31 728.87 101.77 729C103.23 729.14 103.93 728.74 105.06 727.65C106.19 726.57 108.02 724.6 108.56 722.51C109.09 720.42 108.9 717.08 108.27 715.12C107.65 713.15 106.02 711.69 104.83 710.72C103.64 709.76 102.45 709.51 101.14 709.31C99.83 709.12 98.12 709.31 96.98 709.54C95.84 709.77 95.05 710.21 94.3 710.69C93.56 711.18 93.01 711.46 92.49 712.47Z" fill="#5e5e5e" stroke="#000" stroke-width="0.6"/>
<path d="M93.48 713.23C93.01 714.12 92.36 715.6 92.26 716.99C92.16 718.37 92.13 720.03 92.88 721.55C93.63 723.06 95.3 725.01 96.77 726.07C98.24 727.13 100.38 727.8 101.69 727.91C103 728.03 103.61 727.71 104.64 726.76C105.68 725.81 107.4 724.09 107.9 722.2C108.4 720.32 108.23 717.23 107.66 715.45C107.08 713.67 105.54 712.39 104.45 711.53C103.37 710.68 102.3 710.49 101.13 710.33C99.96 710.17 98.44 710.38 97.43 710.6C96.42 710.82 95.74 711.22 95.08 711.65C94.42 712.09 93.95 712.34 93.48 713.23Z" fill="#2c2c2c" stroke="#000" stroke-width="0.6"/>
<path d="M94.44 713.97C94.02 714.74 93.43 716.02 93.32 717.23C93.22 718.44 93.16 719.91 93.81 721.25C94.46 722.6 95.94 724.36 97.23 725.29C98.53 726.22 100.44 726.74 101.61 726.83C102.77 726.93 103.28 726.69 104.22 725.86C105.16 725.04 106.75 723.56 107.22 721.89C107.68 720.21 107.53 717.38 107 715.79C106.48 714.21 105.05 713.1 104.07 712.36C103.09 711.62 102.15 711.47 101.11 711.35C100.08 711.23 98.75 711.43 97.87 711.64C96.99 711.85 96.41 712.2 95.83 712.59C95.26 712.98 94.86 713.19 94.44 713.97Z" fill="#121212" stroke="#000" stroke-width="0.6"/>
<path d="M95.38 714.69C95.02 715.35 94.48 716.43 94.37 717.47C94.26 718.52 94.19 719.79 94.75 720.96C95.3 722.13 96.58 723.7 97.71 724.5C98.84 725.3 100.51 725.69 101.52 725.76C102.54 725.84 102.97 725.66 103.8 724.96C104.63 724.26 106.08 723.02 106.5 721.55C106.92 720.09 106.79 717.55 106.32 716.16C105.85 714.77 104.56 713.82 103.69 713.19C102.82 712.56 101.99 712.45 101.1 712.36C100.2 712.27 99.06 712.47 98.3 712.66C97.55 712.85 97.06 713.17 96.57 713.51C96.09 713.85 95.75 714.03 95.38 714.69Z" fill="#000" stroke="#000" stroke-width="0.6"/>
<circle cx="103.54" cy="718.92" r="0.63" fill="#fff" opacity=".85"/>
<circle cx="101.24" cy="718.93" r="0.7" fill="#fff" opacity=".85"/>
<circle cx="100.43" cy="718.84" r="0.48" fill="#fff" opacity=".85"/>
<circle cx="100.11" cy="717.73" r="0.7" fill="#fff" opacity=".85"/>
<circle cx="101.58" cy="719.42" r="0.47" fill="#fff" opacity=".85"/>
<circle cx="99.86" cy="719.22" r="0.55" fill="#fff" opacity=".85"/>
<circle cx="102.23" cy="719.35" r="0.72" fill="#fff" opacity=".85"/>
<circle cx="101.5" cy="718.7" r="1.3" fill="#fff"/>
<circle cx="101.1" cy="719.2" r="0.45" fill="#222"/>
<text x="54" y="746.9" font-size="3.6" text-anchor="end" fill="#444" class="t">10<tspan dy="-1.3" font-size="2.6">0</tspan></text>
<text x="56.2" y="751.8" font-size="3.6" text-anchor="middle" fill="#444" class="t">10<tspan dy="-1.3" font-size="2.6">0</tspan></text>
<text x="54" y="726.82" font-size="3.6" text-anchor="end" fill="#444" class="t">10<tspan dy="-1.3" font-size="2.6">1</tspan></text>
<text x="76.48" y="751.8" font-size="3.6" text-anchor="middle" fill="#444" class="t">10<tspan dy="-1.3" font-size="2.6">1</tspan></text>
<text x="54" y="706.75" font-size="3.6" text-anchor="end" fill="#444" class="t">10<tspan dy="-1.3" font-size="2.6">2</tspan></text>
<text x="96.75" y="751.8" font-size="3.6" text-anchor="middle" fill="#444" class="t">10<tspan dy="-1.3" font-size="2.6">2</tspan></text>
<text x="54" y="686.68" font-size="3.6" text-anchor="end" fill="#444" class="t">10<tspan dy="-1.3" font-size="2.6">3</tspan></text>
<text x="117.03" y="751.8" font-size="3.6" text-anchor="middle" fill="#444" class="t">10<tspan dy="-1.3" font-size="2.6">3</tspan></text>
<text x="54" y="666.6" font-size="3.6" text-anchor="end" fill="#444" class="t">10<tspan dy="-1.3" font-size="2.6">4</tspan></text>
<text x="137.3" y="751.8" font-size="3.6" text-anchor="middle" fill="#444" class="t">10<tspan dy="-1.3" font-size="2.6">4</tspan></text>
<line x1="55" y1="665.2" x2="55" y2="745.5" stroke="#000" stroke-width="1.1" stroke-dasharray="0.6 1.7" opacity=".6"/>
<line x1="56.2" y1="746.7" x2="137.3" y2="746.7" stroke="#000" stroke-width="1.1" stroke-dasharray="0.6 1.7" opacity=".6"/>
<line x1="56.2" y1="664.7" x2="56.2" y2="746.3" stroke="#000" stroke-width="1.7"/>
<line x1="56.2" y1="745.5" x2="137.7" y2="745.5" stroke="#000" stroke-width="1.6"/>
<line x1="56.2" y1="665.2" x2="137.3" y2="665.2" stroke="#000" stroke-width="1"/>
<line x1="137.3" y1="665.2" x2="137.3" y2="745.5" stroke="#000" stroke-width="0.9"/>
<path d="M137.3 665.6H78.1V699.3H137.3" fill="none" stroke="#000" stroke-width="1.5"/>
<line x1="137.3" y1="665.2" x2="137.3" y2="699.3" stroke="#000" stroke-width="1.5"/>
<text x="135.8" y="679.5" text-anchor="end" font-size="15.5">4.1</text>
<path d="M217.78 585.43h.6M204.59 615.41h.6M215.62 596.22h.6M208.12 584.43h.6M214.56 592.44h.6M209.64 587.02h.6M201.76 579.57h.6M210.52 611.37h.6M174.26 601.1h.6M215.71 589.93h.6M207.99 613.32h.6M211.78 587.83h.6M214.46 602.03h.6M211.84 610.89h.6M182.01 589.32h.6M206.92 616.94h.6M180.79 601.35h.6M197.34 616.99h.6M215.69 587.52h.6M202.36 614.33h.6M180.41 592.42h.6M215.68 597.06h.6M192.02 606.8h.6M202.07 614.15h.6M182.64 595.9h.6M182.38 590.95h.6M198.45 613.88h.6M173.72 601.04h.6M217.47 590.25h.6M214.55 603.24h.6M216.2 595.21h.6M210.39 610.73h.6M215.02 596.49h.6M213.65 597.18h.6M185.77 603.59h.6M193.87 611.73h.6M216.87 596.24h.6M211.02 612.01h.6M189.08 606.76h.6M182.05 591.15h.6M211.62 586.3h.6M211.03 611.04h.6M201.17 616.84h.6M217.29 589.61h.6M176.22 596.73h.6M218.98 597.78h.6M203.98 586.11h.6M187.57 586.61h.6M213.64 588.41h.6M181 603.05h.6M182.54 601.41h.6M182.25 597.73h.6M192.04 586.63h.6M209.36 614.34h.6M205.04 575.67h.6M182.41 588.41h.6M208.88 617.66h.6M211.99 585h.6M193.99 608.68h.6M191.97 611.05h.6M215.15 601.89h.6M214.04 589.48h.6M211.62 587.38h.6M215.04 589.22h.6M186.83 606.31h.6M216.2 598.51h.6M215.06 589.08h.6M204.53 582.96h.6M212.37 587.6h.6M187.23 585.6h.6M214.58 589.26h.6M204.52 618.11h.6M208.39 612.45h.6M217.19 594.08h.6M194.57 583.36h.6M221.25 583.19h.6M213.55 586.28h.6M182.25 600.09h.6M199.55 615.46h.6M193.94 615.76h.6M205.33 614.55h.6M192.81 609.3h.6M184.16 602.82h.6M214.37 585.75h.6M185 603.95h.6M209.78 612.64h.6M215.58 589.15h.6M182.05 596.89h.6M208.28 615.46h.6M188.87 606.21h.6M179.49 596.88h.6M214.85 591.45h.6M181.86 598.83h.6M213.9 602.41h.6M183.71 591.84h.6M212.1 586.86h.6M180.53 608.19h.6M208.98 613.23h.6M207.59 614.96h.6M218.92 595.42h.6M208.07 614.85h.6M204.46 578.54h.6M195.23 608.4h.6M204.79 581.77h.6M219.39 599.3h.6M192.02 608.61h.6M183.78 601.48h.6M213.93 585.44h.6M178.34 599.29h.6M218.69 597.44h.6M188.72 605.87h.6M195.34 610.63h.6M195.72 610.17h.6M200.44 584.66h.6M196.33 584.72h.6M214.8 600.25h.6M206.89 619.41h.6M182.65 598.59h.6M182.13 597.15h.6M214.83 599.64h.6M185.1 603.59h.6M207.05 587.08h.6M181.78 605.5h.6M180.99 601h.6M182.99 600.73h.6M180.39 599.63h.6M209.98 612.02h.6M203.99 615.22h.6M207.55 616.75h.6M196.56 610.27h.6M210.89 582.75h.6M183.41 603.55h.6M181.77 598.43h.6M183.94 589.92h.6M184.49 588.89h.6M179.68 598.86h.6M216.33 591.09h.6M181.82 590.33h.6M193.95 586.32h.6M182.81 594.04h.6M206.25 581.92h.6M180.95 598.06h.6M215.41 598.77h.6M186.42 588.23h.6M180.76 587.52h.6M203.63 614.59h.6M190.92 585.36h.6M181.76 590.25h.6M213.58 607.56h.6M215.37 596.78h.6M183.27 591.83h.6M181.91 599.1h.6M204.51 586.6h.6M209.89 585.65h.6M183.13 604.93h.6M175.19 599.26h.6M189.26 608.03h.6M212.86 585.4h.6M204.41 586.15h.6M219.53 592.48h.6M190.65 605.52h.6M208.74 612.33h.6M211.97 587.51h.6M204.33 615.49h.6M213.36 589.78h.6M183.33 601.8h.6M194.2 586.62h.6M206.54 616.47h.6M196 585.21h.6M191.77 583.47h.6M215.31 595.76h.6M208.2 613.5h.6M207.65 618.85h.6M191.79 578.62h.6M214.59 584.51h.6M208.72 612.6h.6M215.74 596.5h.6M181.61 601h.6M198.77 610.98h.6M208.41 615.14h.6M182.72 599.83h.6M205.56 617.75h.6M187.8 611.59h.6M212.88 607.72h.6M213.58 588.77h.6M190.49 587.25h.6M219.58 584.79h.6M182.7 590.49h.6M212.46 614.05h.6M217.47 586.05h.6M214.28 590.54h.6M187.73 617.27h.6M211.3 614.68h.6M210.84 612.16h.6M215.73 591.48h.6M184.76 604.33h.6M180.31 587.55h.6M181.08 595.79h.6M182.09 601.58h.6M211.01 587.17h.6M211.51 587.07h.6M208.61 619.54h.6M213.07 587.74h.6M207.32 614.27h.6M184.57 588.35h.6M207.1 613.72h.6M195.9 614.6h.6M202.95 586.26h.6M201.96 583.52h.6M215.32 590.8h.6M182.54 602.4h.6M199.54 616.4h.6M198.01 617.56h.6M212.48 610.31h.6M208.84 586.31h.6M192.05 587.54h.6M204.93 582.49h.6M182.03 594.5h.6M207.46 614.21h.6M196.19 586.94h.6M192.21 608.09h.6M211.91 588.84h.6M213.19 602.93h.6M215.26 603.07h.6M188.61 606.17h.6M184.1 592.87h.6M190.28 608.52h.6M196.85 611.87h.6M215.2 588.57h.6M178.85 588.41h.6M182.64 600.41h.6M214.61 603.81h.6M202.35 613.5h.6M201.92 585.29h.6M183.56 601.8h.6M200.92 585.4h.6M186.13 588.37h.6M195.64 609.13h.6M208.75 585.55h.6M213.14 603.28h.6M181.38 600.36h.6M182.4 601.34h.6M215.05 597.5h.6M210.76 583.42h.6M214.32 598.94h.6M218.11 596.91h.6M212.57 608.99h.6M186.28 586.67h.6M214.1 589.34h.6M207.65 617.91h.6M205.72 614.76h.6M218.9 595.45h.6M182.88 593.39h.6M210.21 583.64h.6M180.59 601.79h.6M205.51 617.43h.6M182.06 594.12h.6M217.07 601.36h.6M181.44 602.81h.6M220.63 587.9h.6M182.31 588.72h.6M208.6 615.06h.6M176.19 600.51h.6M181.95 602.36h.6M207.35 616.78h.6M182.06 601.39h.6M202.94 616.04h.6M217.82 609.81h.6M181.46 588.61h.6M182.61 591.73h.6M218.51 587.13h.6M180.85 606.31h.6M201.7 615.32h.6M175.92 602.6h.6M213.76 585.9h.6M184.83 604.22h.6M183.82 601.61h.6M193.49 611.95h.6M209.79 614.47h.6M216.62 595.35h.6M188.72 607.33h.6M210.25 585.01h.6M212.94 609.75h.6M181.43 602.89h.6M202.27 614.21h.6M214.08 589.82h.6M213.4 614h.6M185.52 585.52h.6M183.93 601.04h.6M208.48 617.3h.6M184.62 603.33h.6M182.74 589.32h.6M211.01 615.26h.6M182.9 593.12h.6M205.05 617.51h.6M172.47 597.87h.6M181.84 597.81h.6M176.8 596.82h.6M208.14 613.67h.6M200.32 616.98h.6M181.66 596.57h.6M218.09 578.7h.6M186.9 614.8h.6M203.6 586.2h.6M180.74 596.68h.6M213.27 583.23h.6M199.83 613.15h.6M208.45 618.7h.6M179.73 599.13h.6M215.89 599.67h.6M187.4 585.99h.6M201.38 584.3h.6M212.97 588.17h.6M182.05 590.73h.6M213.87 587.31h.6M212.29 585.89h.6M183.09 594.21h.6M208.34 620.61h.6M202.05 615.2h.6M192.56 583.8h.6M209.81 612.65h.6M210.26 614.64h.6M207.73 614.71h.6M211.04 613h.6M193.2 586.11h.6M182.23 594.2h.6M202.13 613.52h.6M183.57 593.23h.6M187.3 606.1h.6M185.69 603.68h.6M180.09 598.48h.6M175.34 599.33h.6M213.69 604.8h.6M205.26 614.82h.6M185.65 606.71h.6M197.35 613.41h.6M181.14 593.27h.6M198.53 585.53h.6M218.21 601.96h.6M215.97 589.65h.6M216.5 592.87h.6M214.73 611.65h.6M198.45 612.21h.6M214.45 589.5h.6M205.53 586.08h.6M182.71 605.83h.6M204.64 584.08h.6M204.95 586.28h.6M186.58 584.18h.6M214.15 601.47h.6M191.36 583.88h.6M182.89 601.69h.6M179.93 600.8h.6M181.71 605.41h.6M214.77 588.7h.6M183.71 599.63h.6M182.23 603.4h.6M216.19 589.37h.6M218.06 592.33h.6M181.61 596.74h.6M181.59 597.88h.6M182.41 593.35h.6M212.06 610.62h.6M181.6 598.16h.6M181.85 591.49h.6M176.18 593.04h.6M178.87 597.4h.6M199.15 585.27h.6M181.72 586.74h.6M183.75 602.92h.6M213.11 610.17h.6M211.63 613.01h.6M214.18 594.07h.6M217.86 597.3h.6M214.63 595.56h.6M177.66 591.06h.6M183.22 615.39h.6M187.14 606.58h.6M216.96 598.08h.6M183.32 592.74h.6M187.04 609.5h.6M206.99 616.55h.6M191.72 584.05h.6M182.55 599.62h.6M213.83 588.01h.6M187.38 608.25h.6M179.31 599.34h.6M180.18 586.32h.6M182.17 600.45h.6M183.24 591.93h.6M204.55 614.38h.6M190.99 609.42h.6M198.44 578.29h.6M214.28 596.68h.6M204.99 586.71h.6M213.83 600.73h.6M194.54 609.12h.6M195.11 609.09h.6M182.28 595.24h.6M181.1 594.87h.6M208.09 571.71h.6M206.88 613.79h.6M188.27 587.03h.6M207.47 613.15h.6M181.72 596.6h.6M210.55 614.34h.6M214.89 593.7h.6M213.7 609.8h.6M195.34 586.38h.6M211 614.33h.6M186.62 605.17h.6M213.02 587.92h.6M179.13 599.51h.6M184.68 591.3h.6M215.32 600.32h.6M181.18 599.42h.6M188.34 587.13h.6M190.91 606.22h.6M211.39 610.05h.6M212.75 582.93h.6M209.22 615.06h.6M213.31 586.69h.6M214.62 609.53h.6M214.9 590.13h.6M192.06 587.1h.6M214 596.4h.6M184.16 604.47h.6M209.59 615.13h.6M187.98 587.26h.6M187.06 587.67h.6M186.12 605.11h.6M195.15 609.92h.6M214.48 602.23h.6M208.99 612.71h.6M212.27 610.58h.6M183.04 600.77h.6M186.6 603.58h.6M181.38 599.83h.6M182.97 596.39h.6M182.9 594.39h.6M205.82 614.71h.6M208.67 585.64h.6M213.21 607.24h.6M218.52 596.93h.6M197.34 612.49h.6M211.54 612.92h.6M211.39 586.93h.6M184.53 589.65h.6M210.38 610.84h.6M180.53 596.72h.6M188.9 607.05h.6M217.02 598.4h.6M212.42 612.49h.6M211.72 615.16h.6M206.4 613.94h.6M210.87 613.63h.6M181.58 598.58h.6M205.26 585.26h.6M215.85 597.31h.6M185.38 603.02h.6M188.28 586.89h.6M217.65 594.9h.6M205.22 615h.6M186.35 581.06h.6M193.9 609.95h.6M213.21 610.65h.6M214.5 587.56h.6M216.88 603.03h.6M213.17 587.09h.6M180.45 594.44h.6M183.8 590.31h.6M198.28 611.64h.6M213.16 586.43h.6M214.24 616.85h.6M198.87 613.14h.6M217.58 601.68h.6M194.36 608.95h.6M200.91 616.42h.6M180.39 599.59h.6M185.2 604.3h.6M183.58 590.98h.6M181.73 597.54h.6M211.93 610.47h.6M215.62 594.29h.6M217.51 602.6h.6M211.46 586.38h.6M188.96 610.5h.6M193.19 609.52h.6M214.35 593.52h.6M214.55 599.46h.6M202.27 614.63h.6M215.6 601h.6M203.3 615.67h.6M215.89 603.79h.6M202.27 615.14h.6M195.91 610.4h.6M182.16 596.61h.6M223.46 597.15h.6M212.61 586.33h.6M182.62 601.55h.6M201.53 586.4h.6M182.16 601.31h.6M203.66 584.78h.6M190.46 587.21h.6M191.1 607.86h.6M212.75 586.99h.6M227.17 608h.6M213.37 587.17h.6M178.12 596.43h.6M187.85 606.39h.6M212.14 611.54h.6M182.68 597.49h.6M200.6 614.8h.6M214.76 591.12h.6M214.75 601.71h.6M198.94 615h.6M211.98 610.24h.6M212.06 605.48h.6M214.05 603.3h.6M212.05 587.02h.6M202.51 583.72h.6M218.77 602.95h.6M209.74 595.55h.6M193.53 610.01h.6M221.76 606.94h.6M199.36 602.78h.6M188.19 583.8h.6M210.99 616.44h.6M198.27 610.76h.6M195.51 585.79h.6M193.42 616.05h.6M215.4 610.39h.6M193.76 594.54h.6M192.34 595.25h.6M214.44 605.58h.6M206.5 593.22h.6M206.14 596.66h.6M203.24 610.69h.6M212.58 585.9h.6M208.87 602.29h.6M213.28 618.77h.6M200.84 601.65h.6M187.2 610.03h.6M209.02 605.21h.6M209.73 609.07h.6M217.67 598.07h.6M186.89 594.8h.6M198.78 587.04h.6M190.93 611.4h.6M196.12 601.61h.6M213.77 616.98h.6M193.31 588.78h.6M204.04 594.72h.6M195.88 590.85h.6M189.07 606.06h.6M191.39 600.15h.6M202.44 602.97h.6M188.47 583.01h.6M189.95 597.25h.6M198.89 602.58h.6M187.45 605.83h.6M206.33 608.83h.6M204.91 614.09h.6M191.7 599.5h.6M200.89 588.71h.6M186.49 610.88h.6M193.49 586.49h.6M187.13 611.3h.6M191.32 594.97h.6M220.98 585.77h.6M210.8 595.48h.6M202.64 587.31h.6M191.99 606.18h.6M184.26 608.85h.6M194.11 605h.6M201.26 595.94h.6M199.64 608.34h.6M210.46 600.48h.6M202.65 607.54h.6M197.34 585.65h.6M188.94 593.42h.6M191.65 601.15h.6M200.43 588.85h.6M200.48 593.68h.6M203.98 609.85h.6M199.64 601.82h.6M208.02 604.42h.6M196.07 606.99h.6M215.92 611.11h.6M201.93 594.22h.6M213.92 618.37h.6M211.74 594.03h.6M192.48 608.85h.6M213.95 613.75h.6M217.27 598.82h.6M192.16 604.48h.6M191.74 595.98h.6M209.58 589.64h.6M210.94 593.59h.6M206.36 610.22h.6M213.23 604.83h.6M210.41 614.69h.6M198.78 586.02h.6M192.39 585.58h.6M211.99 607.65h.6M192.18 590.71h.6M199.66 608.09h.6M198.71 619.15h.6M203.76 604.46h.6M185.26 608.36h.6M205.39 600.36h.6M215.38 601.79h.6M205.22 592.14h.6M192.11 590.66h.6M193.21 584.83h.6M180.16 603.85h.6M201.74 589.82h.6M197.54 603.65h.6M204.76 606.77h.6M182.19 602.26h.6M209.66 605.89h.6M202.58 608.03h.6M191.84 601.16h.6M203.32 578.61h.6M192.99 598.77h.6M199.91 611.95h.6M201.04 601.26h.6M194.68 590.05h.6M209.07 598.36h.6M213.06 609.77h.6M181.55 590.99h.6M196.36 606.67h.6M202.01 602.93h.6M213.82 608.09h.6M200.91 606.37h.6M204.93 599.99h.6M194.84 597.83h.6M211.94 591.86h.6M194.97 601.57h.6M195.55 597.65h.6M194.68 593.17h.6M196.71 586.54h.6M199 613.79h.6M202.27 605.35h.6M202.38 599.14h.6M205.68 592.73h.6M204.28 601.46h.6M198.72 595.75h.6M199.49 606.68h.6M207.56 580.62h.6M205.43 615.11h.6M204.3 613.93h.6M202.59 593.54h.6M224.44 612.72h.6M195.77 593.91h.6M189.41 602.96h.6M199.2 594.29h.6M197.25 608.59h.6M193.63 588.42h.6M194.43 592.13h.6M184.89 605.1h.6M199.19 590.89h.6M209.04 604.75h.6M190.99 605.46h.6M192.25 606.23h.6M188.57 606.15h.6M197.18 604.91h.6M195.7 592.5h.6M184.35 606.37h.6M201.84 599.82h.6M194.05 604.62h.6M217.22 600.34h.6M189.21 600.15h.6M196.28 610.82h.6M197.85 601.4h.6M202.37 603.78h.6M207.91 593.84h.6M199.73 584.03h.6M191.57 603.86h.6M207.03 587.88h.6M208.99 601.21h.6M201.23 600.05h.6M214.1 600.84h.6M206.43 595.93h.6M203.1 602.76h.6M204.43 590.81h.6M207.63 603.88h.6M199.72 596.63h.6M199.48 606.29h.6M201.43 607.3h.6M200.37 586.72h.6M212.84 610.08h.6M209.49 610.2h.6M203.18 612.75h.6M198.96 602.71h.6M192.91 611.09h.6M193.23 604.86h.6M201.24 612.27h.6M206.37 593.77h.6M205.01 609.28h.6M186.48 598.53h.6M194.38 589.45h.6M191.77 604.47h.6M214.66 599.96h.6M195 600.21h.6M196.01 604.46h.6M213.52 608.76h.6M201.13 606.44h.6M196.5 603.28h.6M210.41 607.11h.6M198.54 598.44h.6M194.43 602.99h.6M197.97 592.62h.6M181.47 599.95h.6M210.67 610.66h.6M207.33 602.79h.6M208.74 601.34h.6M195.04 590.19h.6M197.65 608.27h.6M202.23 608.05h.6M194.08 593.91h.6M206.54 607.66h.6M209.04 599.12h.6M194.82 595.71h.6M196.15 592.81h.6M204.54 600.56h.6M190.99 603.77h.6M195.23 595.38h.6M212.23 594.58h.6M185.91 602.33h.6M186.88 601.33h.6M209.64 604.22h.6M199.82 593.35h.6M200.77 609.51h.6M214.12 600.26h.6M194.41 602.94h.6M206.41 589.42h.6M194.48 629.24h.6M195.04 601.48h.6M200.56 587.91h.6M209.05 603.65h.6M209.57 596.57h.6M202.86 602.7h.6M206.83 603.94h.6M201.76 589.15h.6M203.03 598.5h.6M198.05 600.92h.6M204.02 608.34h.6M184.39 604.27h.6M184.87 604.25h.6M195.75 602.59h.6M203.25 596.14h.6M201.93 598.8h.6M197.14 612.13h.6M197.81 600.44h.6M188.86 620.36h.6M206.86 592.29h.6M201.98 603.78h.6M202.25 616.25h.6M201.27 596.44h.6M212.4 610.33h.6M199.19 592.5h.6M198.89 594.61h.6M198.68 615.26h.6M194.98 602.58h.6M210.23 608.94h.6M195.22 586.97h.6M205.57 602.98h.6M208.74 608.84h.6M204.37 605.66h.6M197.41 601.78h.6M184.99 613.74h.6M205.79 597.67h.6M191.53 596.79h.6M200.7 586.33h.6M198.44 596.76h.6M187.54 619.07h.6M214.4 604.65h.6M213.51 598.71h.6M196.7 610.62h.6M188.17 607.35h.6M208.49 621.15h.6M208.01 606.12h.6M183.56 615.35h.6M203.55 616.56h.6M195.67 603.61h.6M210.77 604.39h.6M186 625.09h.6M195.07 619.49h.6M195.91 613.31h.6M188.71 612.93h.6M179.9 605.67h.6M205.13 599.38h.6M201.64 625.71h.6M194.65 607.05h.6M209.39 604.8h.6M189.35 623.43h.6M211.21 608.15h.6M226.52 602.35h.6M195.49 604.65h.6M207.1 616.35h.6M185.98 607.01h.6M216.87 623.63h.6M205.35 608.05h.6M198.74 608.21h.6M201.05 604.22h.6M196.03 614.13h.6M199.47 600.8h.6M200.34 598.03h.6M205.06 604.62h.6M197.18 616.48h.6M198.47 599.95h.6M179.01 613.07h.6M201.68 610.05h.6M190.13 605.03h.6M186.85 605.69h.6M192.09 611.25h.6M198.74 613.22h.6M191.39 613.2h.6M196.96 612.71h.6M193.53 601.58h.6M209.55 609.63h.6M194.13 616.26h.6M207.27 606.61h.6M179.82 613.94h.6M207.36 598.22h.6M186.77 606.66h.6M192.8 593.68h.6M201.59 602.67h.6M190.95 594.96h.6M199.04 618.15h.6M201.18 606.8h.6M201.63 619.31h.6M194.91 622.34h.6M205.45 617.19h.6M196.35 611.14h.6M205.57 602.25h.6M207.5 612.02h.6M201.26 596.28h.6M204.92 616.23h.6M202.04 615.21h.6M201.9 602.63h.6M212.49 609.37h.6M206.87 616.43h.6M194.63 609.16h.6M205.49 623.95h.6M215.55 618.33h.6M188.66 604.49h.6M197.63 594.75h.6M199.21 611.91h.6M202.47 618.15h.6M190.03 609.01h.6M205.21 616.33h.6M200.59 610.37h.6M198.14 600.42h.6M207.17 631.35h.6M193.61 613.1h.6M196.14 608.98h.6M207.48 612.73h.6M203.24 587.95h.6M192.94 612.05h.6M201.72 611.51h.6M205.62 596.89h.6M199.64 616.71h.6M206.51 606.43h.6M202.48 616.49h.6M200.73 598.67h.6M201.41 610.36h.6M191.51 606.51h.6M213.18 612.33h.6M207.44 618.77h.6M206.49 617.32h.6M203.85 607.19h.6M194.6 604.5h.6M198.98 609.02h.6M218.05 612.66h.6M197.23 610.62h.6M189.82 614.19h.6M217.88 611.42h.6M197.27 613.46h.6M206.75 601.06h.6M205.16 612.15h.6M198.67 598.65h.6M187.46 613.62h.6M198.38 612.73h.6M197.05 604.23h.6M200.56 611.27h.6M192.14 599.48h.6M204.84 604.73h.6M201.48 602.2h.6M190.27 608.49h.6M200.52 604.79h.6M187.13 615.67h.6M201.05 611.21h.6M193.13 609.86h.6M203.54 599.48h.6M197.09 596.75h.6M212.65 614.43h.6M193.15 613.91h.6M195.53 601.85h.6M212.03 613.6h.6M188.38 591.78h.6M203.57 607.85h.6M199.42 605.27h.6M195.66 585.66h.6M188.36 619.17h.6M198.95 599.33h.6M207.4 604.93h.6M194.03 621.32h.6M197.31 610.64h.6M190.36 603.29h.6M195.58 612.36h.6M195.81 621.63h.6M197.64 606.18h.6M209.51 604.81h.6M180.18 597.7h.6M193.05 618.46h.6M189.67 604.05h.6M187.02 615.96h.6M191.54 608.27h.6M190.8 600.56h.6M204.36 615.01h.6M196.5 617.59h.6M219.75 608.16h.6M193.1 612.84h.6M201.43 621.88h.6M196.99 611.96h.6M204.43 596.13h.6M192.23 620.15h.6M193.76 600.04h.6M209 605.79h.6M190.57 603.4h.6M188.42 622.22h.6M190.97 609.03h.6M210.65 610.15h.6M202.44 607.75h.6M198.53 605.81h.6M186.71 606.16h.6M215.05 612.85h.6M207.28 613.22h.6M199.3 617.85h.6M198.03 597.48h.6M197.74 608.97h.6M207.23 601.34h.6M201.93 607.99h.6M212.57 602.12h.6M190.7 611.66h.6M196.3 612.81h.6M197.38 606.29h.6M209.45 616.72h.6M227.18 601.03h.6M185.68 612.02h.6M185.48 629.59h.6M197.25 613.85h.6M192.77 616.26h.6M200.16 613.39h.6M203.01 605.9h.6M193.88 611.36h.6M189.29 605.9h.6M194.04 610.54h.6M212.88 609.82h.6M209 601.8h.6M197.74 602.56h.6M201.36 601.79h.6M198.96 601.48h.6M212.37 615.96h.6M209.85 606.19h.6M219.11 601.14h.6M207.96 600.56h.6M205.27 598.11h.6M205.44 605.19h.6M195.96 611.04h.6M200.38 609.74h.6M190.79 610.1h.6M195.91 609.77h.6M227.46 614.78h.6M197.43 609.11h.6M203.78 621.74h.6M212.88 614.61h.6M192.59 625.03h.6M208.63 591.09h.6M190.24 592.4h.6M205.86 581.02h.6M203 583.45h.6M208.56 584.52h.6M193.53 584.89h.6M215.37 591.26h.6M188.13 588.23h.6M198.55 588.07h.6M196.85 586.37h.6M210.62 586.84h.6M194.63 588.12h.6M204.41 585.87h.6M198.64 587.63h.6M212.31 586.94h.6M203.66 582.01h.6M213.6 585.03h.6M212.38 585.75h.6M195.11 581.82h.6M198.93 584.67h.6M200.49 583.99h.6M204.22 585.83h.6M198.42 585.14h.6M208.01 584.46h.6M194.64 585.46h.6M223.88 586.53h.6M197.83 589.43h.6M213.67 582.03h.6M207.83 587.78h.6M209.11 583.86h.6M197.08 582.69h.6M202.44 581.06h.6M188.87 589.34h.6M199.45 587.97h.6M199.82 583.36h.6M187.18 586.03h.6M203.32 588.14h.6M189.73 584.76h.6M205.34 586.9h.6M202.16 588.26h.6M205.2 582.58h.6M197.04 584.87h.6M199.35 580.09h.6M188.27 582.6h.6M191.74 583.27h.6M201.66 586.15h.6M195.06 584.07h.6M203.2 582.06h.6M202.88 586.78h.6M202.01 589.77h.6M198.85 585.13h.6M193.62 585.87h.6M219.7 585.38h.6M203.95 583.4h.6M208.41 583.61h.6M192.37 580.97h.6M204.63 592.63h.6M198.37 589.64h.6M207.07 584.69h.6M213.23 589.3h.6M198.52 585.01h.6M217.95 585.34h.6M203.71 580.42h.6M207.25 586.15h.6M212.44 586.33h.6M205.53 585.65h.6M206.7 584.94h.6M206.08 581.86h.6M195.05 588.61h.6M199.48 582.92h.6M188.49 584.75h.6M195.44 583.95h.6M198.94 587.36h.6M201.3 585.64h.6M202.57 587.84h.6M203.92 586.55h.6M193.6 587.87h.6M203.31 588.52h.6M209.72 579.72h.6M200.63 586.24h.6M206.54 588h.6M204.68 587.45h.6M191.88 580.81h.6M203.05 581.79h.6M188.83 585.2h.6M204.93 587.48h.6M198.47 581.51h.6M198.88 586.9h.6M195.54 589.23h.6M201.78 590.1h.6" stroke="#000" stroke-width=".65" opacity=".7" fill="none"/>
<path d="M185.2 588.2C182.3 589.98 182.32 594 182.1 596.4C181.88 598.8 182.25 600.82 183.9 602.6C185.55 604.38 189.4 605.53 192 607.1C194.6 608.67 197.1 610.73 199.5 612C201.9 613.27 204.42 614.92 206.4 614.7C208.38 614.48 210.05 613.03 211.4 610.7C212.75 608.37 213.93 604.03 214.5 600.7C215.07 597.37 215.32 593.07 214.8 590.7C214.28 588.33 213.95 587.33 211.4 586.5C208.85 585.67 203.87 585.42 199.5 585.7C195.13 585.98 188.1 586.42 185.2 588.2Z" fill="#fff" stroke="#000" stroke-width="0.95"/>
<path d="M187.78 589.2C185.37 590.87 185.44 594.2 185.27 596.27C185.1 598.34 185.4 600.02 186.76 601.59C188.12 603.17 191.21 604.33 193.43 605.73C195.64 607.14 197.94 608.94 200.05 610.02C202.16 611.09 204.35 612.34 206.1 612.16C207.84 611.97 209.25 610.87 210.53 608.9C211.81 606.93 213.19 603.31 213.77 600.34C214.36 597.36 214.52 593.24 214.04 591.04C213.56 588.84 213.27 587.92 210.89 587.12C208.52 586.33 203.62 585.92 199.77 586.27C195.92 586.62 190.2 587.53 187.78 589.2Z" fill="#fff" stroke="#000" stroke-width="0.6"/>
<path d="M190.05 590.07C188.04 591.61 188.15 594.38 188.01 596.16C187.88 597.93 188.13 599.33 189.25 600.72C190.37 602.11 192.84 603.24 194.72 604.49C196.61 605.74 198.7 607.32 200.55 608.22C202.4 609.13 204.29 610.07 205.83 609.91C207.36 609.75 208.55 608.92 209.75 607.26C210.95 605.6 212.42 602.6 213 599.95C213.59 597.31 213.68 593.43 213.24 591.4C212.8 589.37 212.55 588.53 210.36 587.79C208.16 587.04 203.46 586.54 200.07 586.92C196.69 587.3 192.06 588.53 190.05 590.07Z" fill="#fff" stroke="#000" stroke-width="0.6"/>
<path d="M191.92 590.8C190.24 592.21 190.36 594.53 190.26 596.07C190.15 597.6 190.36 598.77 191.29 600C192.22 601.23 194.21 602.32 195.83 603.43C197.44 604.55 199.35 605.93 200.98 606.7C202.61 607.47 204.25 608.18 205.6 608.04C206.95 607.91 207.97 607.28 209.08 605.87C210.19 604.46 211.7 601.94 212.26 599.58C212.83 597.23 212.87 593.6 212.47 591.75C212.07 589.89 211.85 589.12 209.84 588.42C207.82 587.73 203.36 587.17 200.38 587.57C197.39 587.96 193.61 589.38 191.92 590.8Z" fill="#f6f6f6" stroke="#000" stroke-width="0.6"/>
<path d="M193.53 591.42C192.11 592.71 192.25 594.66 192.17 595.99C192.09 597.32 192.26 598.3 193.03 599.39C193.81 600.47 195.42 601.5 196.8 602.5C198.19 603.49 199.92 604.71 201.35 605.36C202.79 606.02 204.22 606.55 205.41 606.43C206.6 606.31 207.47 605.85 208.49 604.64C209.51 603.44 211 601.32 211.54 599.22C212.08 597.13 212.09 593.78 211.72 592.08C211.36 590.38 211.17 589.69 209.33 589.05C207.49 588.4 203.32 587.82 200.68 588.22C198.05 588.61 194.95 590.12 193.53 591.42Z" fill="#dcdcdc" stroke="#000" stroke-width="0.6"/>
<path d="M194.9 591.95C193.7 593.12 193.84 594.77 193.77 595.92C193.71 597.08 193.86 597.91 194.5 598.87C195.15 599.83 196.46 600.79 197.65 601.68C198.85 602.57 200.41 603.64 201.68 604.2C202.94 604.76 204.19 605.15 205.24 605.05C206.29 604.95 207.04 604.6 207.98 603.58C208.91 602.55 210.36 600.75 210.86 598.88C211.37 597.02 211.36 593.94 211.02 592.39C210.69 590.85 210.53 590.23 208.86 589.64C207.18 589.04 203.3 588.46 200.98 588.85C198.65 589.23 196.1 590.77 194.9 591.95Z" fill="#a4a4a4" stroke="#000" stroke-width="0.6"/>
<path d="M196.04 592.39C195.01 593.46 195.15 594.86 195.1 595.87C195.05 596.88 195.18 597.59 195.72 598.44C196.27 599.3 197.34 600.19 198.38 600.98C199.42 601.78 200.83 602.72 201.95 603.21C203.07 603.69 204.17 603.98 205.11 603.89C206.04 603.8 206.68 603.55 207.54 602.66C208.4 601.78 209.77 600.24 210.25 598.57C210.72 596.91 210.69 594.08 210.39 592.68C210.08 591.28 209.95 590.71 208.42 590.17C206.9 589.63 203.32 589.06 201.25 589.43C199.19 589.8 197.06 591.31 196.04 592.39Z" fill="#5e5e5e" stroke="#000" stroke-width="0.6"/>
<path d="M196.96 592.74C196.08 593.72 196.22 594.93 196.17 595.82C196.13 596.72 196.24 597.33 196.71 598.1C197.18 598.86 198.07 599.69 198.98 600.41C199.89 601.12 201.18 601.96 202.18 602.39C203.18 602.81 204.16 603.03 204.99 602.95C205.82 602.87 206.39 602.68 207.18 601.9C207.96 601.13 209.26 599.8 209.7 598.3C210.15 596.81 210.11 594.21 209.83 592.93C209.55 591.65 209.43 591.14 208.04 590.64C206.65 590.14 203.34 589.59 201.49 589.94C199.65 590.3 197.85 591.76 196.96 592.74Z" fill="#2c2c2c" stroke="#000" stroke-width="0.6"/>
<path d="M197.87 593.09C197.11 593.98 197.25 595 197.21 595.78C197.18 596.56 197.27 597.09 197.67 597.76C198.06 598.44 198.79 599.19 199.58 599.83C200.37 600.46 201.53 601.2 202.41 601.57C203.29 601.93 204.15 602.09 204.88 602.02C205.62 601.95 206.1 601.82 206.81 601.15C207.52 600.48 208.73 599.35 209.14 598.02C209.55 596.69 209.5 594.34 209.25 593.19C209 592.04 208.9 591.58 207.65 591.13C206.4 590.68 203.38 590.16 201.75 590.49C200.12 590.81 198.63 592.21 197.87 593.09Z" fill="#121212" stroke="#000" stroke-width="0.6"/>
<path d="M198.76 593.44C198.12 594.22 198.25 595.07 198.22 595.74C198.2 596.41 198.27 596.85 198.6 597.43C198.93 598.02 199.51 598.7 200.18 599.25C200.86 599.81 201.87 600.45 202.63 600.76C203.4 601.07 204.14 601.17 204.77 601.11C205.41 601.05 205.82 600.96 206.45 600.4C207.08 599.83 208.19 598.88 208.55 597.73C208.92 596.57 208.87 594.47 208.65 593.46C208.43 592.44 208.34 592.04 207.23 591.64C206.13 591.24 203.43 590.76 202.01 591.06C200.6 591.36 199.39 592.66 198.76 593.44Z" fill="#000" stroke="#000" stroke-width="0.6"/>
<circle cx="202.24" cy="595.85" r="0.49" fill="#fff" opacity=".85"/>
<circle cx="204.91" cy="594.81" r="0.67" fill="#fff" opacity=".85"/>
<circle cx="204.04" cy="596.13" r="0.72" fill="#fff" opacity=".85"/>
<circle cx="203.02" cy="595.51" r="0.68" fill="#fff" opacity=".85"/>
<circle cx="204.88" cy="595.32" r="0.67" fill="#fff" opacity=".85"/>
<circle cx="202.21" cy="595.27" r="0.8" fill="#fff" opacity=".85"/>
<circle cx="204.63" cy="597.38" r="0.56" fill="#fff" opacity=".85"/>
<circle cx="204.6" cy="595.2" r="1.3" fill="#fff"/>
<circle cx="204.2" cy="595.7" r="0.45" fill="#222"/>
<text x="155.8" y="640.6" font-size="3.6" text-anchor="end" fill="#444" class="t">10<tspan dy="-1.3" font-size="2.6">0</tspan></text>
<text x="158" y="645.5" font-size="3.6" text-anchor="middle" fill="#444" class="t">10<tspan dy="-1.3" font-size="2.6">0</tspan></text>
<text x="155.8" y="620.5" font-size="3.6" text-anchor="end" fill="#444" class="t">10<tspan dy="-1.3" font-size="2.6">1</tspan></text>
<text x="178.32" y="645.5" font-size="3.6" text-anchor="middle" fill="#444" class="t">10<tspan dy="-1.3" font-size="2.6">1</tspan></text>
<text x="155.8" y="600.4" font-size="3.6" text-anchor="end" fill="#444" class="t">10<tspan dy="-1.3" font-size="2.6">2</tspan></text>
<text x="198.65" y="645.5" font-size="3.6" text-anchor="middle" fill="#444" class="t">10<tspan dy="-1.3" font-size="2.6">2</tspan></text>
<text x="155.8" y="580.3" font-size="3.6" text-anchor="end" fill="#444" class="t">10<tspan dy="-1.3" font-size="2.6">3</tspan></text>
<text x="218.98" y="645.5" font-size="3.6" text-anchor="middle" fill="#444" class="t">10<tspan dy="-1.3" font-size="2.6">3</tspan></text>
<text x="155.8" y="560.2" font-size="3.6" text-anchor="end" fill="#444" class="t">10<tspan dy="-1.3" font-size="2.6">4</tspan></text>
<text x="239.3" y="645.5" font-size="3.6" text-anchor="middle" fill="#444" class="t">10<tspan dy="-1.3" font-size="2.6">4</tspan></text>
<line x1="156.8" y1="558.8" x2="156.8" y2="639.2" stroke="#000" stroke-width="1.1" stroke-dasharray="0.6 1.7" opacity=".6"/>
<line x1="158" y1="640.4" x2="239.3" y2="640.4" stroke="#000" stroke-width="1.1" stroke-dasharray="0.6 1.7" opacity=".6"/>
<line x1="158" y1="558.3" x2="158" y2="640" stroke="#000" stroke-width="1.7"/>
<line x1="158" y1="639.2" x2="239.7" y2="639.2" stroke="#000" stroke-width="1.6"/>
<line x1="158" y1="558.8" x2="239.3" y2="558.8" stroke="#000" stroke-width="1"/>
<line x1="239.3" y1="558.8" x2="239.3" y2="639.2" stroke="#000" stroke-width="0.9"/>
<path d="M239.3 559.2H178.8V587H239.3" fill="none" stroke="#000" stroke-width="1.5"/>
<line x1="239.3" y1="558.8" x2="239.3" y2="587" stroke="#000" stroke-width="1.5"/>
<text x="237.8" y="573.1" text-anchor="end" font-size="15.5">5.2</text>
<path d="M186.25 720.55h.6M184.96 720.92h.6M218.41 722.02h.6M209.61 695.03h.6M211.51 735.23h.6M186.29 724.93h.6M213.83 736.54h.6M188.86 694.62h.6M215.71 735.86h.6M220.31 709.22h.6M196.69 735.99h.6M215.37 698.19h.6M190.12 694.2h.6M213.62 730.74h.6M206.76 691.72h.6M182.07 700.02h.6M188.19 695.48h.6M214.65 730.53h.6M216.27 732.83h.6M203.88 695.04h.6M208.9 695.67h.6M212.28 735.89h.6M208.58 695.8h.6M182.73 707.74h.6M216.01 729.04h.6M181.93 700.77h.6M204.03 694.49h.6M209.09 697.37h.6M185.51 718.49h.6M221.48 690.17h.6M217.42 714.21h.6M198.83 733.45h.6M187.49 687.11h.6M217.53 712.54h.6M188.92 725.69h.6M181.53 712.73h.6M201.47 694.11h.6M201.19 692.61h.6M215.79 704.28h.6M217.68 721.99h.6M216.92 707.76h.6M208.2 695.25h.6M199.68 686.37h.6M195.15 693.27h.6M197.46 734.99h.6M200.37 694.78h.6M215.56 737.74h.6M184.45 713.43h.6M217.49 713.33h.6M211.75 695.37h.6M191.98 728.59h.6M199.89 733.65h.6M209.63 736.73h.6M194.19 731.04h.6M197.12 692.52h.6M187.01 694.68h.6M185.67 721.25h.6M185.8 722.63h.6M192.92 694.28h.6M210.06 696.52h.6M188.81 723.91h.6M217.93 717.02h.6M187.13 698.74h.6M188.92 725.03h.6M199.04 693.12h.6M215.46 730.98h.6M199.71 733.66h.6M193.93 694.41h.6M209.82 696.01h.6M183.51 705.47h.6M184.73 698.56h.6M183.51 710.01h.6M194.57 692.2h.6M218.3 714.78h.6M185.3 695.05h.6M189.91 726.06h.6M185.66 720.94h.6M181.99 717.02h.6M217.09 708.86h.6M218.57 712.44h.6M197.48 694.07h.6M190.48 726.32h.6M182.39 721.44h.6M190.15 694.58h.6M196.14 738.08h.6M197.58 694.42h.6M214.74 731.61h.6M204.18 693.55h.6M185.04 700.89h.6M198.65 683.93h.6M182.07 694.51h.6M192.48 733.49h.6M209.14 737.76h.6M210.54 697.62h.6M183.26 713.7h.6M217.71 729.95h.6M184.72 719.39h.6M184.85 722.11h.6M192.72 726.36h.6M203.58 695.53h.6M183.35 714.21h.6M191.61 694.49h.6M216.22 726.61h.6M216.75 714.01h.6M194.26 730.62h.6M193.38 690.69h.6M215.77 707.2h.6M187.49 694.84h.6M191.89 728.6h.6M182.82 710.56h.6M201.56 694.36h.6M182.43 719.29h.6M184.58 698.96h.6M184.43 721.56h.6M225.02 709.86h.6M196.42 691.6h.6M189.56 695.75h.6M183.41 700.04h.6M216.13 706.71h.6M193.09 693.1h.6M218.22 717.4h.6M204.78 694.29h.6M201.55 737.26h.6M204.44 738.84h.6M185.52 692.06h.6M204.05 736.48h.6M217.84 715.08h.6M221.79 713.12h.6M219.21 723.3h.6M206.67 693.52h.6M213.66 734.29h.6M189.87 725.49h.6M214.36 734.13h.6M180 711.97h.6M208.07 696.53h.6M184.42 698h.6M181.13 708.93h.6M190.61 692.57h.6M193.47 728.58h.6M189.42 693.64h.6M205.79 694.27h.6M210.36 733.86h.6M180.88 707.21h.6M219.78 708.75h.6M186.15 717.31h.6M182.12 728.66h.6M186.28 694.45h.6M178.81 711h.6M178.94 706.52h.6M215.36 727.51h.6M185.92 697.83h.6M217.34 713.4h.6M200.82 735.79h.6M183.11 712.9h.6M195.47 692.63h.6M210.9 734.5h.6M183.58 708.38h.6M182.59 717.45h.6M205.03 694.41h.6M208.67 696.97h.6M212.47 736.98h.6M184.49 702.49h.6M181.88 705.16h.6M195.61 694.08h.6M213.75 732.73h.6M207.66 739.37h.6M202.72 735.6h.6M214.62 707.1h.6M191.04 726.85h.6M180.69 708.95h.6M214.94 703.78h.6M210.49 697.48h.6M202.97 738.19h.6M218.47 716.88h.6M217.85 714.83h.6M183.3 704.18h.6M199.31 732.47h.6M201.47 693.14h.6M191.79 730.2h.6M212.97 698.44h.6M190.76 725.3h.6M187.76 725.39h.6M184.23 702.99h.6M179.71 710.07h.6M217.26 722.18h.6M208.41 737.62h.6M211.78 735.26h.6M221.84 707.53h.6M186.14 692.6h.6M178.14 711.82h.6M207.72 741.26h.6M182.96 700.69h.6M206.78 740.33h.6M185.02 721.54h.6M184.21 692.92h.6M211.91 699.09h.6M184.36 702.8h.6M183.94 715.08h.6M187.79 724.13h.6M213.88 697.1h.6M217.02 699.88h.6M214.87 704.84h.6M214.76 730.5h.6M191.84 726.92h.6M212.84 696.3h.6M216.36 723.11h.6M184.3 712.3h.6M215.71 697.1h.6M219.23 721.94h.6M217.2 711.32h.6M207.42 738.13h.6M206.65 739.16h.6M178.18 689.18h.6M193.87 694.42h.6M193.85 693.51h.6M214.12 732.72h.6M184.01 702.32h.6M218.14 714.55h.6M187.34 722.93h.6M202.72 695.12h.6M188.67 693.06h.6M183.69 700.92h.6M194.86 736.3h.6M215.99 706.39h.6M195.78 689.17h.6M221.68 708.53h.6M183.17 703.8h.6M195.53 730.48h.6M191.62 725.83h.6M214.14 704.88h.6M203.9 737.68h.6M187.87 695.44h.6M217.04 723.48h.6M215.45 702.43h.6M208.47 737.82h.6M199.8 734.44h.6M212.56 700.03h.6M214.33 731.5h.6M216 707.07h.6M218.91 716.42h.6M194.47 692.84h.6M206.58 737.77h.6M213.83 703.63h.6M207.76 740.38h.6M188.19 693.95h.6M207.23 738.09h.6M193.14 692.28h.6M219.86 714.84h.6M217.05 710.26h.6M208.29 689.83h.6M208.73 736.32h.6M205.53 738.66h.6M184.96 718.62h.6M181.05 702.75h.6M213.16 698.9h.6M208.19 737.93h.6M212.02 697.91h.6M179.7 720.29h.6M204.92 694.49h.6M185.03 725.21h.6M211.83 697.21h.6M189.07 724.8h.6M205.64 694.71h.6M192.89 728.04h.6M198.48 693.12h.6M185.05 699.63h.6M203.18 694.75h.6M212.62 697.48h.6M208.37 738.27h.6M213.31 694.47h.6M194.73 736h.6M191.2 725.79h.6M198.71 733.02h.6M218.1 718.93h.6M195.42 730.15h.6M195.22 693.74h.6M204.63 693.81h.6M218.99 701.78h.6M218.33 719.22h.6M189.07 726.73h.6M184.24 701.44h.6M183.93 700.43h.6M203.87 695h.6M217.51 702.98h.6M203.16 734.69h.6M214.82 698.12h.6M190.66 692.86h.6M183.26 706.41h.6M202.76 689.32h.6M210.28 734.78h.6M218.07 715.36h.6M183.31 706.38h.6M198.79 734.09h.6M219.23 728.68h.6M219.67 718.43h.6M214.72 736.58h.6M203.85 692.19h.6M215.13 705.46h.6M192.01 726.14h.6M204.73 694.12h.6M181.89 713.05h.6M181.82 723h.6M207.56 737.02h.6M216.01 706.14h.6M182.89 706.62h.6M183.95 703.72h.6M186.19 699.29h.6M199.67 694.24h.6M219.11 711.02h.6M177.76 710.07h.6M185.86 723.87h.6M187.77 722.02h.6M182.93 703.75h.6M209.8 698.04h.6M207.39 697.78h.6M216.92 727h.6M208.61 697.23h.6M192.14 728.57h.6M192.35 694.61h.6M185.19 690.68h.6M206.77 737.07h.6M198.84 691.86h.6M201.47 734.32h.6M182.53 706.16h.6M215.23 728.82h.6M190.94 693.68h.6M183.73 697.77h.6M205.68 694.71h.6M202.72 736.64h.6M183.07 711.09h.6M208.14 738.64h.6M191.13 694.89h.6M178.54 696.27h.6M204.88 690.35h.6M210.69 692.82h.6M208.82 738.02h.6M197.56 733.43h.6M194.6 692.41h.6M180.71 698.54h.6M213.14 734.19h.6M184.89 700.66h.6M213.45 700.99h.6M207.31 694.81h.6M190.8 694.13h.6M200.97 736.53h.6M182.41 707.09h.6M172.28 703.18h.6M195.58 733.62h.6M216.84 743.77h.6M216.83 713.4h.6M200.87 693.15h.6M213.27 702.12h.6M192.66 695.95h.6M211.83 697.48h.6M211.96 734.26h.6M199.6 691.43h.6M217.52 709.71h.6M218.36 707.5h.6M184.81 697.42h.6M195.01 692.43h.6M192.58 690.83h.6M217.29 727.16h.6M216.19 727.09h.6M202.76 735.53h.6M209.81 735.91h.6M184.46 719.08h.6M214.33 703.98h.6M212.18 736.11h.6M193.55 738.34h.6M179.61 692.2h.6M180.03 707.07h.6M205.52 736.55h.6M185.94 698.15h.6M183.75 710.11h.6M201.3 735.99h.6M201.02 733.47h.6M195.12 694.47h.6M226.34 737.91h.6M183.74 710.99h.6M187.07 728.95h.6M214.18 701.83h.6M218.93 724.1h.6M212.02 734.12h.6M186.95 689.51h.6M183.23 722.69h.6M198.4 693.32h.6M194.18 693.06h.6M183.86 693.07h.6M202.31 734.24h.6M187.03 695.87h.6M183.03 716.79h.6M182.68 696.47h.6M204.47 738.13h.6M216.47 717.7h.6M218.07 708.99h.6M208.94 697.4h.6M183.14 709.72h.6M215.35 732.2h.6M174.58 707.53h.6M216.68 708.79h.6M210.63 736.84h.6M203 693.95h.6M188.82 695.03h.6M197.97 731.73h.6M215.16 734.67h.6M217.13 708.08h.6M195.25 694.15h.6M183.54 702.3h.6M191.82 692.6h.6M194.86 728.94h.6M205.33 695.04h.6M190.64 725.77h.6M186.28 698.16h.6M189.96 725.91h.6M216 725.69h.6M200.34 737.97h.6M180.32 709.97h.6M220.8 695.61h.6M185.44 700.59h.6M211.85 700.09h.6M216.86 725.34h.6M196.2 734.47h.6M206.6 695.46h.6M206.86 695.7h.6M180.59 721.02h.6M205.69 695.03h.6M210.7 739.17h.6M214.45 725.98h.6M192.52 695.02h.6M209.24 697.03h.6M193.86 693.75h.6M210.79 696.25h.6M188.28 696.5h.6M186.8 693.55h.6M210.05 697.39h.6M184.32 715.29h.6M196.63 695.78h.6M212.47 736.22h.6M197.21 693.37h.6M218.18 721h.6M181.66 706.68h.6M212.4 692.6h.6M191.93 694.57h.6M211.02 737.01h.6M187.84 692.54h.6M213.81 736.52h.6M184.88 701.06h.6M183.07 714.04h.6M189.48 691.37h.6M207.49 696.41h.6M213.46 701.47h.6M205.41 738.18h.6M203.31 736.43h.6M182.55 691.49h.6M202.96 690.85h.6M182.77 700.19h.6M186.77 694.35h.6M197.05 689.68h.6M183.83 708.65h.6M204.51 693.67h.6M190.26 729.89h.6M181.65 737.82h.6M190.69 694.58h.6M179.79 714.08h.6M187.03 696.04h.6M182.89 718.41h.6M186.18 692.56h.6M212.05 736.65h.6M200.88 734.33h.6M199.41 693.86h.6M183.74 715.63h.6M206.49 690.86h.6M214.2 703.33h.6M201.14 734.17h.6M222.68 716.79h.6M184.28 721.82h.6M214.2 702.05h.6M213.99 701.78h.6M207.73 738.1h.6M190.15 696.55h.6M194.5 721.83h.6M191.41 716.12h.6M208.56 711.32h.6M187.67 711.86h.6M198.99 720.7h.6M205.8 709.4h.6M206.39 692.65h.6M213.05 711.67h.6M193.25 717.93h.6M204.46 709.32h.6M198.46 726.34h.6M210.53 707.33h.6M195.48 729.77h.6M208 712.93h.6M213.43 727.96h.6M195.64 706.62h.6M199.07 716.35h.6M216.93 722.97h.6M180.19 718.42h.6M209.59 721.32h.6M195.94 726.76h.6M188.02 690.23h.6M193.23 710.3h.6M205.99 707.66h.6M202.27 706.03h.6M186.46 710.26h.6M195.56 713.72h.6M197.84 720.44h.6M205.8 721.04h.6M189.24 710.62h.6M187.86 736.81h.6M203.12 723.92h.6M187.97 732.89h.6M204.45 714.19h.6M190.42 693.38h.6M209.02 711.96h.6M205.23 697.35h.6M213.96 708.23h.6M184.37 705.49h.6M203.02 712.37h.6M196.28 728.66h.6M221.62 695.64h.6M209.67 717.9h.6M201.26 735.32h.6M200.64 726.37h.6M206.32 710.42h.6M206.92 724.37h.6M202.92 727.01h.6M207.36 737.41h.6M191.19 699.93h.6M199.46 710.21h.6M199.36 715.13h.6M206.74 716.36h.6M196.61 712.06h.6M204.13 710.15h.6M200.16 716.36h.6M209.03 709.93h.6M219.03 718.9h.6M207.66 712.14h.6M186.84 724.72h.6M201.97 705.21h.6M195.37 717.04h.6M202.59 706.2h.6M205.95 691.71h.6M210.54 727.49h.6M200.14 691.27h.6M187.21 717.9h.6M204.43 700.84h.6M199.17 719.84h.6M213.85 716.76h.6M217.12 715.11h.6M214.84 722.39h.6M208.93 696.12h.6M199.27 702.94h.6M179.41 724.33h.6M204.6 712.97h.6M203.29 713.92h.6M206.08 718.75h.6M196.26 709.23h.6M189.36 721.93h.6M198.62 704.72h.6M212.45 707.71h.6M200.68 733.46h.6M179.97 716.39h.6M197.97 709.98h.6M208.88 721.25h.6M177.82 738.1h.6M189.18 717.43h.6M211.29 709.6h.6M183.46 710.34h.6M186.77 703.99h.6M189.93 713.9h.6M198.52 731.6h.6M216.45 710.23h.6M198.45 716.77h.6M207.71 701.86h.6M208.28 713.25h.6M205.96 709.57h.6M215.35 709.74h.6M211.52 704.79h.6M198.99 725.04h.6M193.57 743.86h.6M185.21 721.79h.6M195.58 721.5h.6M214.42 706.97h.6M192.52 687.92h.6M212.03 710.15h.6M196.21 717.89h.6M174.91 720.18h.6M212.32 728.16h.6M211.16 713.03h.6M204.79 714.29h.6M196.17 714.53h.6M217.66 712.26h.6M210.86 713.86h.6M201.25 712.68h.6M199.8 700.62h.6M203.3 704.2h.6M196.95 713.27h.6M204.22 720.35h.6M199.44 703.16h.6M208.97 710.2h.6M183.18 736.41h.6M197.6 696.58h.6M187.48 713.3h.6M206.57 719.31h.6M187.97 719.87h.6M194.74 695.96h.6M199.05 712.61h.6M203.5 731.78h.6M202.9 723.66h.6M217.67 730.72h.6M206.11 700.35h.6M204.01 714.99h.6M195.12 717.08h.6M208.66 721.35h.6M200 702.09h.6M215.39 707.1h.6M205.81 714.76h.6M201.06 711.99h.6M192.95 724.21h.6M201.47 716.44h.6M208.43 730.97h.6M191.93 711.97h.6M206.06 709.4h.6M193.73 717.14h.6M203.25 709.89h.6M193.79 695.55h.6M209.27 697.19h.6M214.06 715.92h.6M199.14 708.72h.6M208.71 730.53h.6M195.03 701.44h.6M203.21 699.07h.6M210.62 704.94h.6M188.51 709.62h.6M202.42 683.01h.6M205.44 717.59h.6M189.52 714.05h.6M195.29 709.92h.6M202.71 709.84h.6M219.36 700.28h.6M195.98 714.4h.6M205.78 701.63h.6M212.55 713.38h.6M203.65 718.04h.6M210.63 707.13h.6M194.47 715.9h.6M192.18 727.22h.6M195.57 702.92h.6M197.34 722.95h.6M175.39 713.19h.6M200.59 715.9h.6M189.76 705.77h.6M201.09 730.85h.6M197.52 731.11h.6M210.45 706h.6M202.43 722.24h.6M199.29 717.38h.6M205.67 722.19h.6M185.45 726.56h.6M196.46 704.65h.6M189.82 711.8h.6M202.77 710.13h.6M190.73 706.65h.6M214.52 711.35h.6M205.59 710.67h.6M208.24 711.83h.6M204.91 684.12h.6M194.6 714.7h.6M209.76 714.19h.6M192.37 714.9h.6M205.32 718.18h.6M190.03 729.92h.6M203.87 729.96h.6M201.83 710.42h.6M200.42 701.88h.6M193.65 721.67h.6M206.23 709.47h.6M207.53 713.64h.6M196.8 717.57h.6M193.23 703.01h.6M209 712.16h.6M196.45 732.05h.6M221.86 716.39h.6M215.68 702.38h.6M202.61 703.19h.6M207.75 704.29h.6M181.12 716.73h.6M223.97 716.47h.6M198.85 705.41h.6M201.83 728.88h.6M205.08 711.88h.6M215.71 704.19h.6M197.66 716.2h.6M201.69 728.53h.6M196.25 704.66h.6M172.86 736.12h.6M203.81 713.23h.6M204.27 726.12h.6M196.03 726.24h.6M194.47 715.88h.6M197.38 717.31h.6M207.97 719.33h.6M201.5 713.48h.6M208.25 718.94h.6M202.65 713.88h.6M197.82 714.15h.6M197.01 702.76h.6M198.82 707.22h.6M192.91 735.51h.6M218.12 697.59h.6M196.15 700.83h.6M187.46 721.7h.6M200.56 712.67h.6M180.82 724.14h.6M210.55 712.54h.6M203.95 726.18h.6M197.65 684.19h.6M191.04 681.66h.6M207.51 693.1h.6M195.92 687.26h.6M198.1 688.81h.6M200.17 674.75h.6M213.16 687.38h.6M208.75 684.71h.6M203.41 680.13h.6M197.37 679.75h.6M180.08 687.36h.6M195.93 679.2h.6M184.39 692.15h.6M188.37 684.48h.6M199.97 683.7h.6M204.75 685.87h.6M187.08 693.52h.6M205.26 691.94h.6M208.45 686.93h.6M195.42 692.04h.6M191.68 678.92h.6M201.88 679.39h.6M201.47 681.68h.6M191.59 684.26h.6M203.92 683.23h.6M195.07 690.6h.6M208.5 689.1h.6M203.98 685.48h.6M194.9 683.95h.6M198.95 686.09h.6M205.88 686.53h.6M211.89 682.22h.6M201.58 692.66h.6M210.32 680.39h.6M190.71 692.63h.6M201.52 679.8h.6M205.69 685.67h.6M189.6 689.68h.6M200.13 680.86h.6M195.53 688.76h.6M191.1 680.61h.6M212.79 689.33h.6M195.23 679.5h.6M193.71 690.73h.6M185.05 684.89h.6M183.85 682.56h.6M187.07 681.87h.6M193.83 688.4h.6M202.49 688.64h.6M193.44 682.43h.6M204.32 688.33h.6M210.88 681.43h.6M199.24 698.19h.6M197.65 686h.6M206.37 688.95h.6M196.35 687.11h.6M203.58 690.93h.6M201.62 697.36h.6M190.46 677.13h.6M196.89 685.34h.6M204.57 677.54h.6M200.83 676.25h.6M200.82 678.52h.6M198.72 682.34h.6M204.61 674.43h.6M202.78 684.12h.6M217.98 685.27h.6M188.97 684.67h.6M200.36 697h.6M208.15 685.5h.6M202.15 680.09h.6M193.83 680.5h.6M204.03 686.73h.6M210.82 693.23h.6M202.47 684.98h.6M197.37 689.53h.6M201.98 683.11h.6M196.94 687.97h.6M190.85 689.27h.6M195.81 680.34h.6M189.91 687.36h.6M200.63 688.67h.6M213.51 690.72h.6M192.96 682.83h.6M203.79 679.23h.6M189.17 690.41h.6M198.39 685.1h.6M197.2 691.43h.6M196.09 680.15h.6M199.12 680.33h.6M197.13 685.43h.6M198.77 679.06h.6M206.68 680.91h.6M191.3 682.58h.6M217.76 692.08h.6M208.17 688.39h.6M199.51 682.66h.6M200.41 697.41h.6M217.3 690.7h.6M212.7 686.23h.6M194.28 679.77h.6M191.04 679.75h.6M195.1 682.25h.6M193.88 687.31h.6M190.07 688.02h.6M201.74 689.08h.6M201.95 688.78h.6M199.8 681.1h.6M215.73 689.04h.6M195.73 689.44h.6M190.43 690.6h.6M199.6 686.88h.6M209.2 685.74h.6M208.66 683.27h.6M198.91 699.88h.6M184.2 686.65h.6M214.3 689.39h.6M203.22 677.49h.6M170.84 681.25h.6M198.37 685.97h.6M199.26 685.26h.6M204.64 689.12h.6M209.99 683.36h.6M184.24 691.53h.6M198.43 683.81h.6M206.38 686.83h.6M195.03 689.06h.6M199.33 681.31h.6M198.02 681.71h.6M197.08 686.44h.6M194.69 700.51h.6M222.87 677.51h.6M194.45 687.64h.6M207.66 683.91h.6M178.09 678.68h.6M198.56 679.83h.6M189.71 683.44h.6M204.46 693.48h.6M203.18 686.59h.6M199.39 685.96h.6M200.67 688.21h.6M183.27 684.89h.6M216.59 680.28h.6M186.93 676.57h.6M199.15 697.26h.6M212.34 687.19h.6M205.62 693.86h.6M204.03 683.13h.6M203.16 682.74h.6M205.1 687.53h.6M212.36 678.44h.6M188.54 689.08h.6M191.16 688.99h.6M209.93 674.57h.6M206.12 691.99h.6M188.89 691.12h.6M205.86 689.19h.6M196.87 672.36h.6M209.62 682.09h.6M196.38 676.11h.6M197.31 682.21h.6M203.37 682.31h.6M196.48 681.19h.6M207.51 687.37h.6M212.5 677.35h.6M197.97 690.33h.6M206.86 689.58h.6M189.65 691.43h.6M191.21 688.66h.6M200.6 680.79h.6M185.4 680.7h.6M190.62 685.38h.6M196.67 685.5h.6M198.21 678.26h.6M217.51 683.69h.6M202.9 689.16h.6M212.34 695.05h.6M195.77 691.27h.6M200.5 685.97h.6M209.81 676.34h.6M195.19 682.31h.6M213 673.85h.6M184.32 678.68h.6M207.92 686.57h.6M215.12 680.17h.6M194.05 686.57h.6M191.92 686.09h.6M197.74 676.63h.6M212.38 692.01h.6M198.78 677.72h.6M212.77 673.34h.6M206.56 685.21h.6M192.59 679.66h.6M208.41 679.84h.6M215.11 686.76h.6M211.73 688.2h.6M203.66 697.63h.6M203.08 699.96h.6M202.23 685.29h.6M191.52 682.95h.6M204.25 675.77h.6M196.07 678.8h.6M199.74 678.52h.6M208.4 684.92h.6M192.75 682.27h.6M196.46 686.21h.6M203.86 685.65h.6M204.31 680.24h.6M208.79 679.94h.6M201.69 689.83h.6M197.58 680.22h.6M196.52 683.81h.6M190.66 688.57h.6M212.99 677.15h.6M208.48 690.31h.6M198.48 682.75h.6M196.33 687.09h.6M208.37 683.41h.6M219.54 685.4h.6M191.96 681.28h.6M204.59 679.23h.6M192.48 677.92h.6M205.39 681.18h.6M202.64 694.67h.6M198.02 682.32h.6M224.53 676.9h.6M193.98 684.58h.6M196.4 693.99h.6M198.56 682.64h.6M180.37 682.83h.6M202.54 682.26h.6M201.46 686.17h.6M196.79 689.29h.6M199.89 696.39h.6M189.57 679.63h.6M191.1 683.73h.6M188.43 680.33h.6M188.12 681.45h.6M202.81 701.96h.6M193.47 680.95h.6M198.01 681.1h.6M203.65 688.7h.6M199.65 683.81h.6M201.31 693.46h.6M225.97 691.07h.6M197.69 693.55h.6M199.71 684.69h.6M209.29 690.28h.6M211.17 684.36h.6M196.38 681.95h.6M199.3 683.68h.6M212.13 678.27h.6M178.6 684.1h.6M190.06 681.91h.6M222.48 687.89h.6M188.86 679.5h.6M220.43 694.27h.6M206.89 687.93h.6M207.28 699.28h.6M190.56 685.99h.6M200.85 680.45h.6M196.49 687.66h.6M193.62 679.98h.6M182.2 689.92h.6M211.86 682.34h.6M197.13 682.83h.6M184.57 679.45h.6M200.68 686.73h.6M194.86 680.3h.6M205.21 689.79h.6M183.93 682.09h.6M203.22 687.68h.6M188.15 689.1h.6M195.91 689.17h.6M201.36 684.8h.6M193.31 692.88h.6M196.86 684.51h.6M194.39 697.85h.6M198.77 679.81h.6M192.39 680.37h.6M202.19 675.95h.6M195.76 689.97h.6M208.71 684.25h.6M192.51 678.29h.6M201.33 686.75h.6M191.85 679.9h.6M196.03 684.02h.6M208.22 696.62h.6M204.99 691.79h.6M223.29 671.92h.6M207.97 689.51h.6M187.89 682.95h.6M198.27 687.31h.6M202.46 675.82h.6M197.43 677.63h.6M215.62 681.46h.6M196.84 695.79h.6M192.5 687.05h.6M195.22 681.56h.6M214.46 691.45h.6M197.61 686.55h.6M185.65 691.01h.6M200.34 689.49h.6M200.22 685.49h.6M198.72 688.87h.6M192.85 685.18h.6M200.04 680.29h.6M203.38 679.63h.6M192.86 686.03h.6M205.37 682.85h.6M209.14 673.12h.6M203.11 684.06h.6M203.42 682.11h.6M199.75 688.66h.6M195.29 678.75h.6M205.38 684.01h.6M201.52 678.48h.6M211.31 684.83h.6M207.73 685.24h.6M198.97 688.14h.6M211.07 692.03h.6M202.34 681.03h.6M209.3 690.98h.6M209.06 686.44h.6M206.6 681.81h.6M194.37 689.39h.6M201.37 670.2h.6M210.53 681.9h.6M207.87 684.3h.6M208.98 678.24h.6" stroke="#000" stroke-width=".65" opacity=".7" fill="none"/>
<path d="M186.8 698.5C185.07 697.2 187.48 695.05 188.4 693.7C189.32 692.35 190.98 691.1 192.3 690.4C193.62 689.7 194.88 689.38 196.3 689.5C197.72 689.62 199.38 690.37 200.8 691.1C202.22 691.83 203.55 692.83 204.8 693.9C206.05 694.97 209.3 696.23 208.3 697.5C207.3 698.77 202.38 701.33 198.8 701.5C195.22 701.67 188.53 699.8 186.8 698.5Z" fill="#fff" stroke="#000" stroke-width=".9"/>
<path d="M184.6 700C183.62 702.43 182.82 706.95 183.1 710.5C183.38 714.05 184.2 717.93 186.3 721.3C188.4 724.67 192.33 728 195.7 730.7C199.07 733.4 203.58 737.05 206.5 737.5C209.42 737.95 211.4 736.1 213.2 733.4C215 730.7 216.73 725.33 217.3 721.3C217.87 717.27 217.45 712.83 216.6 709.2C215.75 705.57 214.12 701.85 212.2 699.5C210.28 697.15 207.85 696 205.1 695.1C202.35 694.2 198.38 693.97 195.7 694.1C193.02 694.23 190.85 694.92 189 695.9C187.15 696.88 185.58 697.57 184.6 700Z" fill="#fff" stroke="#000" stroke-width="0.95"/>
<path d="M187.41 702.15C186.52 704.24 185.68 708.05 185.84 711.13C186 714.21 186.56 717.65 188.36 720.65C190.16 723.66 193.63 726.83 196.61 729.17C199.6 731.52 203.68 734.38 206.29 734.74C208.89 735.11 210.54 733.67 212.25 731.37C213.95 729.06 215.89 724.56 216.5 720.93C217.11 717.3 216.74 712.88 215.9 709.57C215.06 706.27 213.27 703.11 211.46 701.1C209.66 699.08 207.49 698.19 205.06 697.49C202.64 696.79 199.2 696.71 196.89 696.89C194.57 697.08 192.76 697.73 191.18 698.6C189.6 699.48 188.3 700.07 187.41 702.15Z" fill="#fff" stroke="#000" stroke-width="0.6"/>
<path d="M189.86 704.03C189.06 705.82 188.22 709.02 188.29 711.7C188.35 714.37 188.72 717.39 190.26 720.06C191.79 722.73 194.84 725.69 197.48 727.73C200.12 729.77 203.78 731.98 206.1 732.28C208.41 732.57 209.79 731.46 211.37 729.5C212.96 727.55 215 723.77 215.62 720.52C216.24 717.27 215.92 712.98 215.11 710C214.3 707.01 212.44 704.33 210.76 702.61C209.08 700.89 207.17 700.2 205.03 699.66C202.9 699.12 199.93 699.15 197.94 699.37C195.95 699.59 194.43 700.19 193.09 700.97C191.74 701.75 190.66 702.25 189.86 704.03Z" fill="#fff" stroke="#000" stroke-width="0.6"/>
<path d="M191.88 705.58C191.16 707.13 190.34 709.84 190.34 712.17C190.34 714.5 190.58 717.17 191.89 719.55C193.21 721.93 195.9 724.68 198.24 726.45C200.58 728.23 203.87 729.96 205.94 730.2C208 730.44 209.15 729.58 210.62 727.9C212.09 726.22 214.14 723.04 214.76 720.12C215.37 717.21 215.09 713.11 214.32 710.42C213.55 707.72 211.7 705.43 210.14 703.95C208.59 702.46 206.89 701.93 205.01 701.51C203.12 701.09 200.54 701.2 198.82 701.43C197.09 701.67 195.82 702.23 194.66 702.92C193.5 703.61 192.6 704.04 191.88 705.58Z" fill="#f6f6f6" stroke="#000" stroke-width="0.6"/>
<path d="M193.61 706.91C192.96 708.24 192.18 710.55 192.14 712.58C192.09 714.61 192.22 716.97 193.36 719.09C194.49 721.21 196.87 723.74 198.94 725.29C201.01 726.84 203.96 728.19 205.8 728.39C207.63 728.59 208.6 727.92 209.95 726.48C211.3 725.03 213.31 722.33 213.91 719.73C214.5 717.12 214.25 713.26 213.53 710.84C212.81 708.41 211 706.45 209.58 705.17C208.15 703.89 206.65 703.48 204.98 703.15C203.32 702.83 201.08 702.98 199.58 703.22C198.08 703.46 197 703.98 196.01 704.59C195.01 705.21 194.25 705.58 193.61 706.91Z" fill="#dcdcdc" stroke="#000" stroke-width="0.6"/>
<path d="M195.07 708.03C194.49 709.19 193.75 711.16 193.68 712.94C193.61 714.71 193.66 716.8 194.64 718.68C195.62 720.57 197.72 722.89 199.56 724.25C201.4 725.61 204.04 726.66 205.68 726.82C207.31 726.99 208.13 726.47 209.37 725.23C210.6 723.98 212.53 721.68 213.1 719.35C213.67 717.02 213.45 713.42 212.77 711.24C212.1 709.06 210.37 707.38 209.07 706.27C207.77 705.16 206.43 704.84 204.96 704.59C203.49 704.34 201.53 704.52 200.23 704.76C198.93 704.99 198.01 705.47 197.15 706.01C196.29 706.56 195.65 706.88 195.07 708.03Z" fill="#a4a4a4" stroke="#000" stroke-width="0.6"/>
<path d="M196.29 708.97C195.77 709.98 195.07 711.68 194.98 713.24C194.9 714.8 194.9 716.65 195.75 718.34C196.61 720.02 198.47 722.15 200.11 723.34C201.74 724.53 204.11 725.37 205.57 725.5C207.03 725.64 207.73 725.24 208.86 724.15C209.99 723.07 211.82 721.1 212.36 719.01C212.89 716.92 212.7 713.58 212.07 711.62C211.45 709.65 209.82 708.19 208.63 707.22C207.44 706.26 206.25 706.01 204.94 705.81C203.63 705.62 201.92 705.81 200.78 706.04C199.64 706.27 198.85 706.71 198.1 707.19C197.36 707.68 196.81 707.96 196.29 708.97Z" fill="#5e5e5e" stroke="#000" stroke-width="0.6"/>
<path d="M197.28 709.73C196.81 710.62 196.16 712.1 196.06 713.49C195.96 714.87 195.93 716.53 196.68 718.05C197.43 719.56 199.1 721.51 200.57 722.57C202.04 723.63 204.18 724.3 205.49 724.41C206.8 724.53 207.41 724.21 208.44 723.26C209.48 722.31 211.2 720.59 211.7 718.7C212.2 716.82 212.03 713.73 211.46 711.95C210.88 710.17 209.34 708.89 208.25 708.03C207.17 707.18 206.1 706.99 204.93 706.83C203.76 706.67 202.24 706.88 201.23 707.1C200.22 707.32 199.54 707.72 198.88 708.15C198.22 708.59 197.75 708.84 197.28 709.73Z" fill="#2c2c2c" stroke="#000" stroke-width="0.6"/>
<path d="M198.24 710.47C197.82 711.24 197.23 712.52 197.12 713.73C197.02 714.94 196.96 716.41 197.61 717.75C198.26 719.1 199.74 720.86 201.03 721.79C202.33 722.72 204.24 723.24 205.41 723.33C206.57 723.43 207.08 723.19 208.02 722.36C208.96 721.54 210.55 720.06 211.02 718.39C211.48 716.71 211.33 713.88 210.8 712.29C210.28 710.71 208.85 709.6 207.87 708.86C206.89 708.12 205.95 707.97 204.91 707.85C203.88 707.73 202.55 707.93 201.67 708.14C200.79 708.35 200.21 708.7 199.63 709.09C199.06 709.48 198.66 709.69 198.24 710.47Z" fill="#121212" stroke="#000" stroke-width="0.6"/>
<path d="M199.18 711.19C198.82 711.85 198.28 712.93 198.17 713.97C198.06 715.02 197.99 716.29 198.55 717.46C199.1 718.63 200.38 720.2 201.51 721C202.64 721.8 204.31 722.19 205.32 722.26C206.34 722.34 206.77 722.16 207.6 721.46C208.43 720.76 209.88 719.52 210.3 718.05C210.72 716.59 210.59 714.05 210.12 712.66C209.65 711.27 208.36 710.32 207.49 709.69C206.62 709.06 205.79 708.95 204.9 708.86C204 708.77 202.86 708.97 202.1 709.16C201.35 709.35 200.86 709.67 200.37 710.01C199.89 710.35 199.55 710.53 199.18 711.19Z" fill="#000" stroke="#000" stroke-width="0.6"/>
<circle cx="205.3" cy="713.44" r="0.47" fill="#fff" opacity=".85"/>
<circle cx="204.85" cy="715.08" r="0.63" fill="#fff" opacity=".85"/>
<circle cx="204.79" cy="716.16" r="0.77" fill="#fff" opacity=".85"/>
<circle cx="204.94" cy="716.96" r="0.44" fill="#fff" opacity=".85"/>
<circle cx="203.68" cy="716.45" r="0.72" fill="#fff" opacity=".85"/>
<circle cx="205.05" cy="716.21" r="0.46" fill="#fff" opacity=".85"/>
<circle cx="205.9" cy="716.01" r="0.72" fill="#fff" opacity=".85"/>
<circle cx="205.3" cy="715.2" r="1.3" fill="#fff"/>
<circle cx="204.9" cy="715.7" r="0.45" fill="#222"/>
<text x="155.8" y="746.9" font-size="3.6" text-anchor="end" fill="#444" class="t">10<tspan dy="-1.3" font-size="2.6">0</tspan></text>
<text x="158" y="751.8" font-size="3.6" text-anchor="middle" fill="#444" class="t">10<tspan dy="-1.3" font-size="2.6">0</tspan></text>
<text x="155.8" y="726.82" font-size="3.6" text-anchor="end" fill="#444" class="t">10<tspan dy="-1.3" font-size="2.6">1</tspan></text>
<text x="178.32" y="751.8" font-size="3.6" text-anchor="middle" fill="#444" class="t">10<tspan dy="-1.3" font-size="2.6">1</tspan></text>
<text x="155.8" y="706.75" font-size="3.6" text-anchor="end" fill="#444" class="t">10<tspan dy="-1.3" font-size="2.6">2</tspan></text>
<text x="198.65" y="751.8" font-size="3.6" text-anchor="middle" fill="#444" class="t">10<tspan dy="-1.3" font-size="2.6">2</tspan></text>
<text x="155.8" y="686.68" font-size="3.6" text-anchor="end" fill="#444" class="t">10<tspan dy="-1.3" font-size="2.6">3</tspan></text>
<text x="218.98" y="751.8" font-size="3.6" text-anchor="middle" fill="#444" class="t">10<tspan dy="-1.3" font-size="2.6">3</tspan></text>
<text x="155.8" y="666.6" font-size="3.6" text-anchor="end" fill="#444" class="t">10<tspan dy="-1.3" font-size="2.6">4</tspan></text>
<text x="239.3" y="751.8" font-size="3.6" text-anchor="middle" fill="#444" class="t">10<tspan dy="-1.3" font-size="2.6">4</tspan></text>
<line x1="156.8" y1="665.2" x2="156.8" y2="745.5" stroke="#000" stroke-width="1.1" stroke-dasharray="0.6 1.7" opacity=".6"/>
<line x1="158" y1="746.7" x2="239.3" y2="746.7" stroke="#000" stroke-width="1.1" stroke-dasharray="0.6 1.7" opacity=".6"/>
<line x1="158" y1="664.7" x2="158" y2="746.3" stroke="#000" stroke-width="1.7"/>
<line x1="158" y1="745.5" x2="239.7" y2="745.5" stroke="#000" stroke-width="1.6"/>
<line x1="158" y1="665.2" x2="239.3" y2="665.2" stroke="#000" stroke-width="1"/>
<line x1="239.3" y1="665.2" x2="239.3" y2="745.5" stroke="#000" stroke-width="0.9"/>
<path d="M239.3 665.6H180V699.3H239.3" fill="none" stroke="#000" stroke-width="1.5"/>
<line x1="239.3" y1="665.2" x2="239.3" y2="699.3" stroke="#000" stroke-width="1.5"/>
<text x="237.8" y="679.5" text-anchor="end" font-size="15.5">4.5</text>
<path d="M281.9 586.84h.6M280.75 584.76h.6M315.19 570.74h.6M313.49 573.93h.6M282.55 582.17h.6M312.64 587.52h.6M311.55 592.42h.6M283.47 588.39h.6M312.83 572.24h.6M291.45 573.24h.6M315.66 581.88h.6M293.42 596.92h.6M305.96 593.57h.6M290.21 577.19h.6M293.32 593.44h.6M283.36 591.77h.6M286.18 579.19h.6M307.06 591.86h.6M285.85 595.36h.6M313.79 582.31h.6M297.29 595.85h.6M291.73 593.54h.6M277.64 583.02h.6M306.35 570.38h.6M280.49 586.05h.6M298.71 595.27h.6M281.59 577.85h.6M283.72 590.69h.6M283.74 587.31h.6M283.79 587.68h.6M306.23 573.54h.6M309.11 572.83h.6M283.23 592.1h.6M308.4 571.47h.6M281.42 579.38h.6M282.98 587.39h.6M283.66 575.73h.6M281.83 595.86h.6M280.67 584.69h.6M286.56 590.74h.6M279.87 583.1h.6M284.97 579.62h.6M314.63 578.23h.6M315.87 581.19h.6M313.27 585.94h.6M313.42 573.53h.6M311.25 590.1h.6M296.82 597.88h.6M313.26 578.17h.6M305.22 592.61h.6M296.16 568.36h.6M282.23 583.59h.6M301.71 573.32h.6M283.2 585.27h.6M293.6 572.84h.6M321.93 583.66h.6M293.78 600.55h.6M297.23 594.87h.6M300.16 597.12h.6M306.35 571.38h.6M282.66 584.17h.6M303.96 594.45h.6M314.15 572.66h.6M282.7 582.09h.6M297.43 570.27h.6M300.17 573.63h.6M309.83 567.78h.6M284.12 577.25h.6M311.34 574.26h.6M282.34 589.98h.6M303.68 596.85h.6M284.65 591.36h.6M283.94 577.48h.6M283.77 581.21h.6M282.3 578.8h.6M285.92 597.88h.6M285.76 577.86h.6M282.59 587.14h.6M290.64 571.17h.6M315.06 578.39h.6M314.27 581.08h.6M282.84 576.57h.6M283.49 586.38h.6M309.42 570.37h.6M283.01 586.22h.6M313.01 577.16h.6M280.72 577.36h.6M314.16 578.28h.6M284.06 587.28h.6M284.22 579.41h.6M317.04 577.77h.6M283.69 581.57h.6M312.7 573.72h.6M292.14 573.21h.6M292.03 574.54h.6M304.26 591.93h.6M311.76 591.9h.6M310.16 592.41h.6M280.45 593.66h.6M278.72 583.13h.6M313.73 585.33h.6M299.23 573.04h.6M278.41 585.39h.6M281.49 585.01h.6M312.65 573.77h.6M284.76 590.61h.6M292.6 593.95h.6M312.57 577.19h.6M279.98 577.6h.6M303.56 571.73h.6M315.39 585.5h.6M285.72 589.82h.6M296.89 593.58h.6M283.28 581.87h.6M294.49 570.64h.6M313.37 586.55h.6M314.78 575.6h.6M298.92 570.22h.6M281.35 583.33h.6M314.54 578.63h.6M294.89 595.46h.6M311.25 575h.6M286.13 579.27h.6M299.33 593.69h.6M294.1 595.23h.6M316.97 582.39h.6M312.25 577.32h.6M312.35 592.13h.6M281.61 581.6h.6M279.99 588.64h.6M321.5 570.32h.6M299.56 573.34h.6M313.36 568.6h.6M278.49 582.94h.6M281.94 585.51h.6M282.35 579.8h.6M302.44 595.97h.6M283.27 590.31h.6M312.8 584.72h.6M284.01 596.57h.6M281.26 584.87h.6M300.62 573.26h.6M290.02 594.8h.6M313.06 585.54h.6M283.31 582.12h.6M280.89 584.21h.6M291.26 596.76h.6M282.95 586.67h.6M284.27 579.38h.6M295.24 594.35h.6M267.88 572.12h.6M307.76 597.41h.6M312.72 589.39h.6M281.53 596.19h.6M287.73 575.45h.6M318.07 578.91h.6M306.01 598.41h.6M302.5 572.73h.6M281.78 581.82h.6M301.39 594.89h.6M304.35 572.95h.6M304.56 594.18h.6M307.34 594.09h.6M305.01 598.3h.6M304.55 596.15h.6M281.07 585.88h.6M280.74 591.47h.6M282.7 583.01h.6M281.34 594.17h.6M303.52 572.14h.6M313.12 588.27h.6M306.86 572.57h.6M281.36 584.47h.6M315.24 579.17h.6M292.35 567.43h.6M281.88 585.99h.6M279.38 584.97h.6M281.46 583.55h.6M280.87 591.14h.6M286.55 592.02h.6M284.99 590.94h.6M281.46 588.73h.6M292.49 574.79h.6M284.56 580.17h.6M283.37 590.27h.6M313.74 592.15h.6M289.12 599.33h.6M313.78 583.37h.6M269.61 596.85h.6M314.2 577.42h.6M301.08 571.5h.6M311.26 570h.6M314 587.85h.6M290.57 594.57h.6M287.7 594.84h.6M286.59 590.68h.6M284.65 592.23h.6M288.86 576.2h.6M310.78 571.02h.6M285.46 590.95h.6M295.64 572.27h.6M295.42 596.34h.6M284.22 580.24h.6M280.23 586.15h.6M297.1 573.32h.6M280.29 582.04h.6M294.36 598.07h.6M311.96 575.62h.6M295.42 593.31h.6M277.87 584.52h.6M281.24 594.83h.6M298.04 573.7h.6M278.2 584.33h.6M286.77 574.05h.6M280.64 575.45h.6M283.05 589.67h.6M314.6 590.08h.6M296.58 598.86h.6M303.7 573.76h.6M281.28 581.89h.6M283.31 582.15h.6M297.74 600.64h.6M285.55 578.14h.6M301.36 592.86h.6M283.01 587.22h.6M283.28 581.58h.6M312.12 589.35h.6M280.19 585.41h.6M313.85 581.3h.6M308.61 572.19h.6M278.63 592.18h.6M284.04 592.18h.6M306.24 591.68h.6M306.8 596.04h.6M300.92 595.1h.6M292.51 575.2h.6M294.47 574.57h.6M285.83 577.63h.6M285.92 591.72h.6M311.36 574.61h.6M289.77 596.1h.6M300.21 594.36h.6M302.94 573.24h.6M314.67 575.38h.6M285.86 590.98h.6M284.25 579.86h.6M303.42 595.18h.6M300.37 570h.6M293.96 574.91h.6M282.02 585.32h.6M314.52 585.65h.6M306.35 593.21h.6M281.45 586.25h.6M281.68 588.76h.6M294.17 574.95h.6M283.86 580.53h.6M315.04 580h.6M283.72 578.64h.6M318.08 585.64h.6M287.55 594.59h.6M293.21 596.65h.6M295.02 593.42h.6M276.67 585.62h.6M290.81 594.4h.6M294.5 594.17h.6M283.25 578.78h.6M312.44 589.03h.6M287.92 592.66h.6M298.97 599.52h.6M285.05 590.05h.6M290.33 596.36h.6M307.92 570.65h.6M316.31 580.37h.6M314.27 578.46h.6M299.9 603.38h.6M313.36 585.92h.6M315.73 579.06h.6M299.53 568.91h.6M288.1 591.86h.6M301.5 573.47h.6M320.38 579.25h.6M280.79 590h.6M286.89 595.42h.6M289.98 573.87h.6M294.99 574.71h.6M284.51 587.92h.6M302.83 598.85h.6M282.19 583.1h.6M305.3 569.99h.6M290.73 593.84h.6M299.88 595.44h.6M305.29 592.12h.6M296.67 595.43h.6M298.9 573.61h.6M294.69 600.13h.6M312.77 585.75h.6M284.44 590.27h.6M319.63 580.99h.6M314 581.11h.6M310.71 573.99h.6M293.64 594.39h.6M289.83 573.34h.6M290.83 574.63h.6M282.36 586.75h.6M301.73 604.26h.6M283.05 575.46h.6M307.77 574.02h.6M302.56 572.31h.6M290.39 575.8h.6M300.84 593.85h.6M292.6 595.41h.6M285.02 593.28h.6M291.12 576.01h.6M283.62 588.54h.6M316.81 587.31h.6M286.67 578.55h.6M291.26 593.21h.6M279.41 576.53h.6M316.2 592.81h.6M304.34 572.77h.6M314.91 588.8h.6M282.44 587.4h.6M314.21 585.48h.6M303 594.65h.6M315.37 585.09h.6M314.09 579.36h.6M282.35 586.96h.6M283.35 578.52h.6M288.61 593.35h.6M292.68 574.18h.6M312.84 573.94h.6M281.84 583.38h.6M316.93 580.09h.6M301.7 569.71h.6M283.2 590.73h.6M286.66 593.73h.6M284.39 589.96h.6M287.75 596.17h.6M316.9 586.68h.6M285.1 573.29h.6M294.94 594.11h.6M285.09 579.77h.6M281.42 590.03h.6M323.43 580.43h.6M280.38 581.49h.6M283.72 577.46h.6M309.92 590.67h.6M318.09 580.95h.6M315.01 578.11h.6M283.52 593.8h.6M281.12 590.61h.6M314 587.26h.6M281.77 585.33h.6M317.38 583.84h.6M319.59 579.02h.6M285.9 577.98h.6M281.91 576.06h.6M310.13 573.51h.6M286.59 595.24h.6M285.93 592.49h.6M310.66 572.55h.6M308.74 592.15h.6M286.68 591.39h.6M316.06 582.36h.6M291.21 597.14h.6M313.98 572.99h.6M283.26 578.62h.6M290.93 595.04h.6M311.61 574.56h.6M316.57 594.04h.6M282.19 588.81h.6M306.71 592.65h.6M312.64 589.94h.6M279.13 588.3h.6M315.27 579.96h.6M293.48 570.28h.6M289.03 576.13h.6M315.74 576.69h.6M287.2 591.54h.6M279.08 580.88h.6M299.48 593.91h.6M282.57 578.85h.6M283.11 588.18h.6M298.63 596.37h.6M283.8 589.1h.6M320.31 573.53h.6M290.29 594h.6M284.95 580.65h.6M307.3 591.31h.6M303.08 569.59h.6M294.53 597.47h.6M281.08 583.98h.6M312.62 576.87h.6M313.3 571.68h.6M286.13 591.54h.6M300.98 571.11h.6M301.11 595.42h.6M285.49 578.5h.6M278.62 580.53h.6M291.62 594.1h.6M286.39 592.96h.6M288.65 593.64h.6M301.5 573.36h.6M281.81 590.12h.6M312.74 585.43h.6M307.08 591.26h.6M313.15 583.39h.6M279.09 590.21h.6M314.03 583.38h.6M293.63 595.23h.6M285.28 579.94h.6M282.97 580.85h.6M284.38 590.81h.6M312.59 572.58h.6M314 589.81h.6M306.26 573.62h.6M309.63 570.61h.6M304.8 569.17h.6M299.29 569.43h.6M296.15 595.39h.6M294.43 572.6h.6M313.81 571.92h.6M316.09 570.4h.6M283.25 590.23h.6M285.45 578.72h.6M319.63 582.94h.6M316.02 580.79h.6M316.89 581.16h.6M314.66 585.37h.6M306.81 590.65h.6M296.53 597.2h.6M310.42 593.85h.6M294.89 573.26h.6M280.16 584.85h.6M278.84 585.4h.6M299.66 594.16h.6M301.73 595.94h.6M294.63 594.16h.6M287.91 592.06h.6M279.83 591.3h.6M310.12 591.46h.6M302.81 594.9h.6M315.33 577.37h.6M297.78 574.32h.6M317.47 581.38h.6M314.71 570.83h.6M312.07 572.15h.6M313.99 573.98h.6M287.5 592.14h.6M283.5 589.21h.6M282.34 589.18h.6M313.28 591.42h.6M314.6 580.67h.6M282.43 584.1h.6M313.6 585.49h.6M314.39 579.62h.6M309.06 572.58h.6M295.97 572.94h.6M312.89 575.56h.6M313.49 587.2h.6M309.15 590.84h.6M303.04 593.75h.6M313.23 573.23h.6M304.2 594.35h.6M282.03 584.44h.6M281.78 575.63h.6M304.62 591.86h.6M282.3 591.11h.6M292.11 572.81h.6M308.42 592.56h.6M312.29 589.29h.6M296.48 575.25h.6M304.19 592.93h.6M296.64 593.82h.6M304.59 594.04h.6M313.18 591.12h.6M305.3 592.94h.6M284.15 578.67h.6M277.03 587.57h.6M298.9 571.79h.6M294.23 581.23h.6M309.82 586.83h.6M301.76 574.28h.6M286.97 596.81h.6M300.31 599.07h.6M295.7 597.4h.6M281.63 596.8h.6M302.85 574.75h.6M298.37 582.02h.6M289.55 593.95h.6M294.8 584.41h.6M287.63 583.62h.6M317 593.52h.6M265.74 588.37h.6M311.23 589.68h.6M312.91 571h.6M313.95 573.42h.6M288.01 587.53h.6M286.38 589.32h.6M304.83 581.4h.6M289.12 571.36h.6M302.63 579.34h.6M303.71 588.62h.6M304.55 588.37h.6M296.55 580.8h.6M309.31 583.27h.6M299.53 579.3h.6M288.68 586.63h.6M302.15 582.32h.6M293.56 579.52h.6M287.53 584.27h.6M295.37 588.51h.6M317.46 578.92h.6M311.41 592.94h.6M310.91 576.28h.6M298.01 585.71h.6M286.31 594.4h.6M288.46 594.4h.6M275.51 585.64h.6M308.57 582.88h.6M287.87 589.92h.6M284.29 583.98h.6M313.6 577.13h.6M307.64 561.48h.6M313.4 582.31h.6M292.7 566.29h.6M309.03 574.87h.6M286.62 578.87h.6M288.91 574.88h.6M293.01 587.35h.6M289.82 584.78h.6M298.68 582.83h.6M305.97 583.58h.6M295.82 583.65h.6M298.4 582.98h.6M303.78 580.34h.6M286.25 596.45h.6M302.31 581.59h.6M291.5 585.5h.6M287.81 588.73h.6M301.11 583.56h.6M302.1 581.63h.6M315.99 580.21h.6M287.82 591.1h.6M303.17 588.21h.6M308.97 583.69h.6M281.97 575.16h.6M291.62 593.87h.6M294.94 584.19h.6M296.56 583.99h.6M294.87 584.32h.6M313.49 573.03h.6M274.51 586.92h.6M305.96 583.14h.6M305.85 582.16h.6M298.47 595.28h.6M319.23 582.4h.6M292.5 591.22h.6M300.18 586.36h.6M302.2 582.81h.6M285.59 585.21h.6M288.66 582.57h.6M299.68 583.69h.6M283.52 591.71h.6M299.91 573.85h.6M309.42 575.28h.6M274.9 589.97h.6M296.93 583.91h.6M297.06 568.81h.6M285.62 588.68h.6M309.85 586.83h.6M296.25 586.09h.6M307 570.49h.6M292 583.53h.6M304.61 591.68h.6M292.64 585.16h.6M295.18 592.07h.6M300.64 581.76h.6M301.05 580.13h.6M307.92 591.59h.6M300.85 586.77h.6M300.61 592.73h.6M295.42 587.93h.6M286.09 592.61h.6M293.62 580.71h.6M301.44 592.65h.6M317.51 598.86h.6M301.06 585.42h.6M299.6 586.44h.6M307.05 574.98h.6M282.98 584.01h.6M303.27 587.68h.6M292.88 571.59h.6M312.6 575.42h.6M306.32 580.43h.6M289.61 575.59h.6M289.52 592.35h.6M279.32 586.9h.6M294.22 579.79h.6M285.79 585.36h.6M279.55 593.71h.6M275.11 586.76h.6M293.9 580.29h.6M288.8 588.93h.6M283.26 581.67h.6M304.28 577.42h.6M320.54 565.51h.6M291.59 588.66h.6M297.98 587.89h.6M310.92 571.39h.6M288.6 582.5h.6M296.15 588.75h.6M292.03 583.32h.6M306.97 581.02h.6M286.58 589.52h.6M292.61 583.06h.6M314.73 587.36h.6M310.16 579.74h.6M325.62 585.1h.6M309.36 590.66h.6M286.99 580.19h.6M278.32 576.09h.6M302.13 576.81h.6M311.8 582.56h.6M284.57 583.98h.6M313.61 578.09h.6M304.05 588.15h.6M320.04 574.06h.6M290.53 581.3h.6M293.89 562.61h.6M300.07 573.94h.6M306.79 581h.6M312.26 560.88h.6M298.39 572.72h.6M302.37 590.58h.6M309.81 580.95h.6M301.43 584.35h.6M276.22 589.38h.6M289.89 588.08h.6M297.15 578.89h.6M298.91 570.23h.6M288.15 576.27h.6M291.11 582.1h.6M297.85 578.97h.6M302.83 580.71h.6M310.12 592.05h.6M299.64 582.36h.6M319.65 577.27h.6M291.43 586.58h.6M289.71 588.41h.6M288.27 584.12h.6M325.77 576.92h.6M308.05 586.26h.6M333.73 578.22h.6M292.58 576.81h.6M307.82 592.38h.6M284.92 592.91h.6M292.58 584.68h.6M307.48 585.27h.6M308.92 580.08h.6M284.48 584.17h.6M310.69 576.2h.6M310.72 589.72h.6M305.89 576.33h.6M295.07 583.56h.6M285.76 591.02h.6M288.02 579.07h.6M306.24 582.41h.6M295.67 579.18h.6M300.38 586.63h.6M305.58 576.15h.6M302.96 577.79h.6M301.12 576.28h.6M304.61 589.68h.6M298.1 595.25h.6M305.5 586.65h.6M295.93 578.89h.6M303.07 586.48h.6M281.69 581.66h.6M299.95 580.18h.6M309.26 595.68h.6M284.74 586.45h.6M311.27 580.26h.6M293.98 576.01h.6M289.62 579.8h.6M304.92 585.11h.6M290.12 576.87h.6M291.98 579.5h.6M319.18 591.05h.6M289.96 579.25h.6M306.62 584.63h.6M313.19 581.17h.6M289.91 580.36h.6M287.54 588.9h.6M281.17 586.3h.6M297.99 576.87h.6M293.95 583.49h.6M313.53 582.66h.6M311.7 576.3h.6M279.99 570.31h.6M286.07 584.87h.6M289.02 598.73h.6M293.82 596.7h.6M276.46 601.58h.6M283.41 599.63h.6M300.38 593.8h.6M290.7 598.17h.6M291.53 590.07h.6M287.9 596.07h.6M296.81 589.76h.6M281.59 598h.6M293.35 593.52h.6M293.08 579.38h.6M275.84 605.14h.6M285.25 615.24h.6M293.75 591.84h.6M288.14 589.29h.6M277.04 601.9h.6M290.75 594.75h.6M277.99 600.69h.6M284.19 583.36h.6M280.83 611.22h.6M289.24 584.31h.6M275 609.15h.6M281.03 595.8h.6M285.56 597.59h.6M291.01 588.96h.6M279.54 598.19h.6M282.26 619.72h.6M284.45 613.75h.6M292.56 590.49h.6M289.98 598.73h.6M284.2 606.17h.6M287.19 605.49h.6M277.85 605.91h.6M280.23 606.33h.6M293.97 585.53h.6M289.92 594.8h.6M299.85 572.04h.6M280.1 614.32h.6M282.45 613.35h.6M297.73 591.59h.6M286.92 600.71h.6M285.59 598.94h.6M274.18 601.04h.6M290.18 603.02h.6M297.81 575.8h.6M285.06 595.86h.6M289.33 584.06h.6M284.14 600.36h.6M283.62 610.16h.6M281.62 611.55h.6M287.74 588.27h.6M286.08 610.65h.6M279.25 616.82h.6M276.78 610.95h.6M291.02 590.13h.6M301.92 570.11h.6M278.93 613.82h.6M281.04 591.01h.6M287.2 578.07h.6M284.32 590.77h.6M289.05 602h.6M288.58 587.73h.6M284.68 599.13h.6M286.35 589.74h.6M286.06 610.22h.6M284.68 595.29h.6M290.67 594.58h.6M298.9 590.99h.6M289.67 596.92h.6M290.91 592.37h.6M292.61 578.06h.6M283.15 604.27h.6M282.19 597.05h.6M292.08 592.17h.6M286.2 606.45h.6M282.72 598.81h.6M281.17 596.32h.6M286.79 582.25h.6M298.21 598.29h.6M285.29 605.42h.6M297.29 593.13h.6M280.94 600.76h.6M286.59 609.6h.6M295.53 587.34h.6M291.48 599.39h.6M291.09 593.54h.6M280.2 605.66h.6M295.63 577.42h.6M284.69 618.63h.6M283.41 609.74h.6M277.16 619.98h.6M284.04 610.59h.6M288.01 601.81h.6M293.87 583.22h.6M274.61 626.87h.6M283.46 612.66h.6M277.74 598.31h.6M291.62 588.93h.6M292.42 610.12h.6M289.75 600.63h.6M295.04 583.52h.6M288.14 595.4h.6M282.32 600.77h.6M281.76 590.21h.6M283.05 601.85h.6M289.78 579.27h.6M284.42 604.29h.6M288.95 608.18h.6M304.57 582.11h.6M287.5 593.26h.6M289.79 587.8h.6M287.29 590.12h.6M281.06 601.66h.6M285.62 582.74h.6M280.94 607.69h.6M290.27 605.34h.6M277.4 597.16h.6M281.79 607.49h.6M292.49 597h.6M277.64 606.73h.6M283.75 605.8h.6M282.78 608.93h.6M281.05 607.54h.6M286.76 591.52h.6M282.46 592.06h.6M279.69 609.68h.6M293.99 581.67h.6M295.55 583.6h.6M290.45 594.36h.6M295.71 583.32h.6M288.51 594.17h.6M285.29 600.27h.6M285.09 595.49h.6M278.86 613.8h.6M289.49 588.91h.6M289.66 586.07h.6M295.37 581.29h.6M291.55 590.24h.6M282.23 596.51h.6M286.58 595.12h.6M284.8 574.63h.6M292.23 576.21h.6M275.37 623.84h.6M288.01 602.56h.6M284.59 597.61h.6M289.93 584.25h.6M287.72 603h.6M283.23 607.64h.6M289.6 599.37h.6M296.16 566.81h.6M287.6 593.51h.6M296.47 587.94h.6M280.18 609.03h.6M284.84 608.45h.6M301.63 588.8h.6M301.08 591.84h.6M289.57 592.84h.6M291.83 590.09h.6M285.82 598.78h.6M285.71 604.27h.6M291.86 587.99h.6M298.69 592.61h.6M286.74 585.71h.6M283.36 576.93h.6M287.15 580.15h.6M299.6 586.68h.6M282.93 601.42h.6M290.57 597.78h.6M284.7 599.36h.6M306.71 568.85h.6M282.9 592.71h.6M294.75 600.89h.6M280.59 598.98h.6M283.74 586.53h.6M281 618.27h.6M284.18 593.56h.6M273.48 617.01h.6M283.31 613.6h.6M292.27 602.54h.6M295.09 587.79h.6M291.38 599.24h.6M283.4 599.93h.6M287.64 605.91h.6M291.98 576.2h.6M277.33 608.98h.6M277.7 593.18h.6M270.06 622.9h.6M282.62 604.9h.6M285.91 597.89h.6M281.52 610.69h.6M281.13 605.21h.6M281.13 616.53h.6M280.64 601.04h.6M288.03 592.56h.6M293.35 602.87h.6M289.74 584.18h.6M293.99 600.38h.6M284.98 592.69h.6M283.9 609.81h.6M290.63 584.4h.6M301.09 580.4h.6M290.78 606.14h.6M286.04 595.49h.6M292.86 603.01h.6M283.77 609.72h.6M290.67 596.27h.6M272.86 614.28h.6M292.18 594.67h.6M282.65 616.13h.6M290.53 582.52h.6M276.21 607.89h.6M284 606.49h.6M291.08 596.2h.6M283.47 593.98h.6M297.52 582.63h.6M295.21 591.21h.6M282.2 596.14h.6M283.97 592.47h.6M281.96 595.13h.6M287.82 586.73h.6M293.44 592.03h.6M285.98 590.29h.6M283.49 610.28h.6M281.41 598.24h.6M296.67 585.44h.6M285.91 577.36h.6M281.97 592.98h.6M281.81 603.12h.6M288.12 589.35h.6M273.65 600.18h.6M286.78 603.68h.6M288.01 581.99h.6M291.14 577.25h.6M291.98 597.63h.6M290.62 601.39h.6M293.46 601.13h.6M283.34 611.37h.6M276.43 599.01h.6M275.7 597.31h.6M282.72 599.69h.6M282.08 597.51h.6M286.88 590.68h.6M277.19 603.37h.6M294.67 590.76h.6M297.56 588.2h.6M286.8 596.11h.6M290.46 603.15h.6M283.1 599.02h.6M293.63 589.79h.6M290.82 591.77h.6M277.64 587.27h.6M285.81 600.93h.6M287.11 596.97h.6M283.43 581h.6M283.63 594.57h.6M283.86 593.17h.6M284.43 599.18h.6M303.36 583.3h.6M296.56 589.58h.6M275.57 595.05h.6M288.54 586.29h.6M299 591.09h.6M279.95 619.68h.6M287.98 584.55h.6M282.02 612.16h.6M291.57 606.58h.6M294.5 597.72h.6M288.92 591.72h.6M287.88 589.2h.6M296.49 593.67h.6M284.31 610.17h.6M290.7 599.47h.6M297.74 588.02h.6M279.91 596.6h.6M284.61 601.55h.6M297.34 586.26h.6M289.95 602.71h.6M292.34 578.02h.6M290.22 594.24h.6M292.01 586.86h.6M285.58 599.3h.6M279.65 612.53h.6M292.36 600.17h.6M291.02 591.84h.6M279.36 612.86h.6M281.12 607.95h.6M289.97 588.81h.6M294.83 611.09h.6M282.99 594.2h.6M279.43 616.86h.6M293.53 597.3h.6M284.62 602.89h.6M280.84 597.27h.6M278.06 597.41h.6M279.1 601.71h.6M289.29 594.85h.6M289.39 607.49h.6M285.29 615.47h.6" stroke="#000" stroke-width=".65" opacity=".7" fill="none"/>
<path d="M282.5 583.9C282.95 582 283.82 579.65 286.5 577.9C289.18 576.15 294.55 574.15 298.6 573.4C302.65 572.65 308.15 572.2 310.8 573.4C313.45 574.6 314.28 577.95 314.5 580.6C314.72 583.25 314.52 587.07 312.1 589.3C309.68 591.53 303.82 593.32 300 594C296.18 594.68 291.9 594.18 289.2 593.4C286.5 592.62 284.92 590.88 283.8 589.3C282.68 587.72 282.05 585.8 282.5 583.9Z" fill="#fff" stroke="#000" stroke-width="0.95"/>
<path d="M284.63 583.82C284.98 582.15 285.52 580.12 287.85 578.49C290.18 576.87 295.04 574.71 298.61 574.07C302.19 573.43 306.98 573.5 309.29 574.64C311.6 575.79 312.28 578.62 312.49 580.95C312.69 583.27 312.61 586.55 310.52 588.59C308.42 590.62 303.27 592.53 299.9 593.14C296.53 593.75 292.65 593.02 290.29 592.25C287.93 591.48 286.69 589.93 285.74 588.52C284.8 587.12 284.27 585.49 284.63 583.82Z" fill="#fff" stroke="#000" stroke-width="0.6"/>
<path d="M286.51 583.75C286.78 582.29 287.08 580.53 289.1 579.04C291.12 577.55 295.49 575.34 298.63 574.79C301.77 574.25 305.93 574.68 307.94 575.76C309.95 576.83 310.51 579.22 310.7 581.25C310.89 583.28 310.9 586.1 309.08 587.94C307.27 589.77 302.77 591.72 299.81 592.26C296.84 592.81 293.35 591.93 291.3 591.2C289.24 590.46 288.26 589.07 287.47 587.83C286.67 586.59 286.24 585.22 286.51 583.75Z" fill="#fff" stroke="#000" stroke-width="0.6"/>
<path d="M288.08 583.69C288.29 582.4 288.42 580.88 290.18 579.51C291.94 578.15 295.87 575.96 298.64 575.49C301.41 575.02 305.05 575.69 306.81 576.69C308.57 577.7 309.02 579.73 309.2 581.51C309.38 583.29 309.45 585.73 307.86 587.39C306.28 589.05 302.33 590.97 299.71 591.45C297.1 591.94 293.96 590.99 292.15 590.29C290.35 589.59 289.59 588.36 288.91 587.26C288.23 586.16 287.87 584.99 288.08 583.69Z" fill="#f6f6f6" stroke="#000" stroke-width="0.6"/>
<path d="M289.44 583.64C289.61 582.51 289.61 581.18 291.15 579.94C292.68 578.69 296.21 576.58 298.66 576.17C301.1 575.77 304.28 576.58 305.82 577.51C307.36 578.44 307.73 580.17 307.9 581.74C308.06 583.3 308.17 585.41 306.79 586.9C305.41 588.39 301.94 590.25 299.63 590.68C297.32 591.11 294.5 590.14 292.92 589.49C291.34 588.83 290.74 587.73 290.16 586.76C289.58 585.78 289.28 584.78 289.44 583.64Z" fill="#dcdcdc" stroke="#000" stroke-width="0.6"/>
<path d="M290.61 583.6C290.74 582.6 290.66 581.45 292 580.31C293.34 579.18 296.51 577.17 298.67 576.82C300.83 576.47 303.61 577.36 304.97 578.21C306.32 579.07 306.63 580.55 306.78 581.93C306.92 583.31 307.06 585.14 305.85 586.48C304.65 587.82 301.59 589.59 299.55 589.97C297.51 590.36 294.98 589.39 293.59 588.78C292.21 588.17 291.73 587.19 291.23 586.33C290.73 585.46 290.48 584.6 290.61 583.6Z" fill="#a4a4a4" stroke="#000" stroke-width="0.6"/>
<path d="M291.59 583.57C291.69 582.68 291.56 581.66 292.74 580.64C293.92 579.61 296.76 577.71 298.68 577.41C300.6 577.1 303.05 578.03 304.24 578.81C305.44 579.59 305.7 580.87 305.83 582.09C305.97 583.31 306.11 584.91 305.05 586.12C303.99 587.33 301.29 588.99 299.48 589.34C297.66 589.68 295.39 588.74 294.17 588.17C292.94 587.61 292.56 586.73 292.13 585.97C291.7 585.2 291.49 584.45 291.59 583.57Z" fill="#5e5e5e" stroke="#000" stroke-width="0.6"/>
<path d="M292.4 583.54C292.48 582.74 292.31 581.85 293.36 580.91C294.4 579.97 296.98 578.19 298.69 577.92C300.41 577.65 302.59 578.58 303.65 579.3C304.71 580.02 304.93 581.14 305.06 582.22C305.18 583.31 305.33 584.73 304.39 585.82C303.45 586.92 301.04 588.48 299.42 588.78C297.79 589.09 295.74 588.19 294.65 587.67C293.56 587.15 293.25 586.36 292.87 585.67C292.5 584.98 292.32 584.33 292.4 583.54Z" fill="#2c2c2c" stroke="#000" stroke-width="0.6"/>
<path d="M293.19 583.51C293.25 582.81 293.06 582.02 293.98 581.18C294.9 580.34 297.19 578.69 298.7 578.46C300.22 578.23 302.13 579.13 303.06 579.78C303.99 580.43 304.18 581.4 304.29 582.36C304.4 583.31 304.55 584.55 303.73 585.52C302.91 586.5 300.78 587.94 299.35 588.22C297.92 588.49 296.09 587.64 295.13 587.16C294.17 586.69 293.93 585.99 293.6 585.38C293.28 584.77 293.13 584.21 293.19 583.51Z" fill="#121212" stroke="#000" stroke-width="0.6"/>
<path d="M293.97 583.48C294.01 582.87 293.81 582.2 294.6 581.46C295.39 580.71 297.4 579.22 298.71 579.02C300.03 578.82 301.68 579.69 302.48 580.26C303.28 580.84 303.44 581.66 303.53 582.49C303.63 583.31 303.78 584.37 303.07 585.23C302.36 586.08 300.53 587.39 299.29 587.63C298.04 587.87 296.44 587.08 295.61 586.66C294.78 586.23 294.6 585.62 294.32 585.09C294.05 584.56 293.92 584.08 293.97 583.48Z" fill="#000" stroke="#000" stroke-width="0.6"/>
<circle cx="298.95" cy="581.62" r="0.62" fill="#fff" opacity=".85"/>
<circle cx="297.72" cy="583.29" r="0.53" fill="#fff" opacity=".85"/>
<circle cx="297.56" cy="583.99" r="0.62" fill="#fff" opacity=".85"/>
<circle cx="300.34" cy="581.79" r="0.78" fill="#fff" opacity=".85"/>
<circle cx="297.96" cy="580.86" r="0.58" fill="#fff" opacity=".85"/>
<circle cx="299.43" cy="584.47" r="0.49" fill="#fff" opacity=".85"/>
<circle cx="299.05" cy="583.4" r="0.55" fill="#fff" opacity=".85"/>
<circle cx="299.3" cy="583" r="1.3" fill="#fff"/>
<circle cx="298.9" cy="583.5" r="0.45" fill="#222"/>
<text x="258.3" y="640.6" font-size="3.6" text-anchor="end" fill="#444" class="t">10<tspan dy="-1.3" font-size="2.6">0</tspan></text>
<text x="260.5" y="645.5" font-size="3.6" text-anchor="middle" fill="#444" class="t">10<tspan dy="-1.3" font-size="2.6">0</tspan></text>
<text x="258.3" y="620.5" font-size="3.6" text-anchor="end" fill="#444" class="t">10<tspan dy="-1.3" font-size="2.6">1</tspan></text>
<text x="280.5" y="645.5" font-size="3.6" text-anchor="middle" fill="#444" class="t">10<tspan dy="-1.3" font-size="2.6">1</tspan></text>
<text x="258.3" y="600.4" font-size="3.6" text-anchor="end" fill="#444" class="t">10<tspan dy="-1.3" font-size="2.6">2</tspan></text>
<text x="300.5" y="645.5" font-size="3.6" text-anchor="middle" fill="#444" class="t">10<tspan dy="-1.3" font-size="2.6">2</tspan></text>
<text x="258.3" y="580.3" font-size="3.6" text-anchor="end" fill="#444" class="t">10<tspan dy="-1.3" font-size="2.6">3</tspan></text>
<text x="320.5" y="645.5" font-size="3.6" text-anchor="middle" fill="#444" class="t">10<tspan dy="-1.3" font-size="2.6">3</tspan></text>
<text x="258.3" y="560.2" font-size="3.6" text-anchor="end" fill="#444" class="t">10<tspan dy="-1.3" font-size="2.6">4</tspan></text>
<text x="340.5" y="645.5" font-size="3.6" text-anchor="middle" fill="#444" class="t">10<tspan dy="-1.3" font-size="2.6">4</tspan></text>
<line x1="259.3" y1="558.8" x2="259.3" y2="639.2" stroke="#000" stroke-width="1.1" stroke-dasharray="0.6 1.7" opacity=".6"/>
<line x1="260.5" y1="640.4" x2="340.5" y2="640.4" stroke="#000" stroke-width="1.1" stroke-dasharray="0.6 1.7" opacity=".6"/>
<line x1="260.5" y1="558.3" x2="260.5" y2="640" stroke="#000" stroke-width="1.7"/>
<line x1="260.5" y1="639.2" x2="340.9" y2="639.2" stroke="#000" stroke-width="1.6"/>
<line x1="260.5" y1="558.8" x2="340.5" y2="558.8" stroke="#000" stroke-width="1"/>
<line x1="340.5" y1="558.8" x2="340.5" y2="639.2" stroke="#000" stroke-width="0.9"/>
<path d="M340.5 559.2H280.6V587H340.5" fill="none" stroke="#000" stroke-width="1.5"/>
<line x1="340.5" y1="558.8" x2="340.5" y2="587" stroke="#000" stroke-width="1.5"/>
<text x="339" y="573.1" text-anchor="end" font-size="15.5">78</text>
<path d="M282.42 698.26h.6M318.89 684.09h.6M316.7 693.39h.6M312.99 709.02h.6M314.72 685.31h.6M308.07 678.57h.6M291.93 706.59h.6M308.35 714.38h.6M291.73 707.34h.6M312.46 707.3h.6M284.77 702.95h.6M285.64 682.78h.6M315.59 687.02h.6M282.23 699.61h.6M281.7 694.99h.6M278.65 692.63h.6M285.06 700.04h.6M283.39 681.65h.6M307.33 714.28h.6M313.51 705.45h.6M281.7 683.54h.6M296.18 674.61h.6M313.75 703.58h.6M317 690.85h.6M314.09 694.51h.6M287.65 704.18h.6M311.24 711.76h.6M311.12 715.76h.6M314.95 679.18h.6M303.49 672.51h.6M309.34 711.21h.6M298.64 678.05h.6M290.99 704.52h.6M285.35 700.66h.6M315.08 676.69h.6M296.42 709.36h.6M316.94 690.38h.6M312.43 677.6h.6M283.24 688.97h.6M291.93 709.78h.6M297.19 712.33h.6M294.6 677.44h.6M281.29 692.72h.6M317.29 685.3h.6M317.72 687.15h.6M308.92 675.33h.6M285.09 702.19h.6M283.71 680.33h.6M289.09 704.65h.6M313.75 704.63h.6M281.95 690.06h.6M289.34 712.99h.6M282.81 685.57h.6M315.62 680.98h.6M305.12 713.58h.6M313.24 675.83h.6M306.11 716.96h.6M285.48 699.71h.6M297.69 709.46h.6M279.43 679.06h.6M309.63 711.2h.6M312.15 703.33h.6M315.8 676.27h.6M307.6 714.51h.6M311.83 703.15h.6M297.53 670.22h.6M313.27 705.65h.6M306.26 713.25h.6M310.07 710.29h.6M305.8 675.79h.6M314.58 700.65h.6M302.41 677.3h.6M316.99 684.71h.6M297.27 672.24h.6M314.28 688.38h.6M310.51 677.7h.6M285.05 699.84h.6M282.46 696.77h.6M315.73 694.32h.6M316.07 699.22h.6M291.45 707.9h.6M288.87 702.52h.6M280.41 696.17h.6M288.99 703.58h.6M299.86 712.62h.6M293.79 667.62h.6M295.25 711.83h.6M283.37 685.31h.6M281.29 683.18h.6M311.36 708.12h.6M317.43 687.08h.6M313.45 690.21h.6M287.89 704.16h.6M311.52 707.85h.6M312.95 710.14h.6M284.44 700.93h.6M314.15 709.64h.6M311.55 679.94h.6M293.7 712.51h.6M314.4 693.75h.6M292.32 706.96h.6M283.52 694.05h.6M311.58 681h.6M286.38 702.24h.6M286.16 678.55h.6M286.06 679.62h.6M281.6 679.14h.6M281.59 688.47h.6M300.38 712.47h.6M282.99 689.73h.6M311.99 711.34h.6M291.91 706.72h.6M313.96 680.01h.6M299.69 711.24h.6M303.15 715.11h.6M309.43 711.33h.6M309.51 713.92h.6M296.1 713.88h.6M304.77 678.21h.6M314.53 692.51h.6M311.88 710.61h.6M306.96 724.1h.6M308.1 716.15h.6M290.4 707.49h.6M321.49 698.63h.6M312.69 705.78h.6M270.52 682.59h.6M283.99 679.97h.6M309.18 715.78h.6M309.02 712.63h.6M302.42 676.08h.6M313.71 697.09h.6M314.1 676.29h.6M281.28 702.82h.6M315.41 695.52h.6M299.55 711.18h.6M314.48 691.29h.6M321.36 696.37h.6M311.71 676.67h.6M314.44 696.61h.6M306.68 721.44h.6M307.29 677.41h.6M318.06 689.51h.6M282.66 683.86h.6M305.95 713.43h.6M297.52 711.08h.6M312.31 683.17h.6M284.66 699.68h.6M282.21 689.72h.6M313.56 703.49h.6M307.25 677.74h.6M314.35 694.65h.6M288.74 678.87h.6M284.23 682.45h.6M310.87 707.79h.6M306.47 713.03h.6M289.58 678.02h.6M283.62 678.55h.6M294.35 675.34h.6M299.47 717.92h.6M321.86 683.45h.6M282.44 694.77h.6M309.38 717.89h.6M296.91 677.04h.6M317.47 682.73h.6M309.31 678.53h.6M308.16 714.04h.6M290.16 677.31h.6M308.32 717.39h.6M290.66 708.36h.6M278.02 694.52h.6M289.58 677.43h.6M311.99 701.57h.6M276.19 700.78h.6M314.06 698.64h.6M276.41 702.48h.6M322.3 678.76h.6M285.31 673.67h.6M297.67 675.26h.6M313.09 710.99h.6M283.98 696.25h.6M308.56 678.46h.6M313.96 702.85h.6M294.8 677.67h.6M296.88 676.25h.6M286.49 701.39h.6M315.3 691.98h.6M288.08 702.9h.6M316.12 687.94h.6M302.86 677.15h.6M318.43 702.51h.6M316.81 697.56h.6M291.71 677.78h.6M290.28 704.71h.6M310.74 677.23h.6M284.3 682.85h.6M311.61 709.93h.6M314.79 689.94h.6M319.86 688.17h.6M314.88 691.13h.6M312.45 700.08h.6M281.84 686.91h.6M307.34 678.07h.6M311.13 680.3h.6M288.67 708.35h.6M314.47 708.26h.6M315.47 685.16h.6M300.38 712.09h.6M318.49 687.61h.6M281.8 685.13h.6M301.62 677.96h.6M283.4 681.68h.6M317.53 690.02h.6M314.27 687.65h.6M311.95 707.1h.6M307.09 713.97h.6M283.51 697.84h.6M299.19 714.46h.6M313.31 678.66h.6M293.47 710.17h.6M295.39 677.75h.6M312.56 679.99h.6M311.55 681.08h.6M306.7 679.11h.6M308.28 677.84h.6M310.86 710.08h.6M284.17 682.19h.6M310.25 678.77h.6M284.67 702.26h.6M312.65 684.43h.6M286.92 704.15h.6M314.07 720.06h.6M311.3 711.66h.6M310.92 708.65h.6M314.19 688.48h.6M282.5 700.07h.6M317 689.38h.6M285.25 700.36h.6M303.19 677.21h.6M282.63 697.38h.6M313.89 705.1h.6M282.87 682.83h.6M287.9 678.09h.6M279.9 685.65h.6M283.68 692.28h.6M284.65 681.6h.6M279.23 695.3h.6M293.14 707.32h.6M301.86 712.81h.6M290.23 675.95h.6M295.83 676.62h.6M313.7 708.51h.6M312.77 697.25h.6M281.29 684.85h.6M302.9 716.86h.6M287.7 679.19h.6M313.45 694.05h.6M308.8 678.04h.6M311.07 709.87h.6M281.8 700.68h.6M282.97 695.47h.6M288.3 678.38h.6M298.59 712.29h.6M313.05 697.11h.6M289.09 677.54h.6M306.38 714.29h.6M308.02 714.15h.6M293.01 677.4h.6M312.47 676.19h.6M304.45 677.39h.6M289.85 708.72h.6M310.9 679.18h.6M316.09 689.48h.6M281.24 690.49h.6M281.02 691.56h.6M283.9 696.19h.6M314.96 680.49h.6M313.92 696.15h.6M278.04 691.27h.6M313.25 707.28h.6M285.1 700.9h.6M289.7 706.19h.6M306.77 714.69h.6M310.17 710.45h.6M307.55 713.53h.6M282.1 702.77h.6M288.9 702.93h.6M293.2 673.79h.6M313.75 703.53h.6M309.25 721.87h.6M300.06 676h.6M284.85 699.73h.6M301.63 711.25h.6M313.88 673.85h.6M312.16 700.74h.6M280.75 699.24h.6M286.93 703.95h.6M312.52 706h.6M307.67 712.57h.6M311.38 709.43h.6M317.22 692.82h.6M299.17 677.46h.6M292.96 708.3h.6M318.94 687.96h.6M303.88 715.79h.6M300.48 711.67h.6M312.3 675.12h.6M311.09 709.7h.6M305.07 677.62h.6M307.82 713.52h.6M297.12 718.74h.6M287.09 702.76h.6M316.72 692.46h.6M288.58 677.7h.6M301.02 676.44h.6M320.69 675.39h.6M300.85 713.55h.6M295.68 678.03h.6M299.08 677.22h.6M310.93 711.09h.6M292.22 674.86h.6M315.46 706.42h.6M292.06 719.7h.6M286.7 701.68h.6M281.82 683.13h.6M312.32 710.41h.6M313.61 702.53h.6M292.97 675.78h.6M312.3 703.59h.6M297.54 711.88h.6M281.81 685.33h.6M305.11 713.66h.6M279.04 690.35h.6M284.17 674.69h.6M302.35 677.72h.6M309.37 711.27h.6M310.72 678.84h.6M315.86 687.18h.6M314.11 686.51h.6M282.37 691.99h.6M281.67 690.26h.6M281.93 708.08h.6M290.24 707h.6M296.24 677.54h.6M312.83 704.95h.6M291.12 677.52h.6M314.09 685.62h.6M281.89 681.91h.6M283.99 682.95h.6M304.1 713.37h.6M314.23 686.63h.6M303.44 678.65h.6M286.05 700.03h.6M315.14 686.98h.6M315.63 704.62h.6M302.14 712.69h.6M313.79 703.89h.6M281.92 678.88h.6M288.15 702.5h.6M282.92 685.95h.6M315.84 675.39h.6M296.37 711.31h.6M298.42 714.06h.6M298.65 711.93h.6M315.98 689.21h.6M283.67 703.14h.6M294.71 712.56h.6M312.17 703.55h.6M283.43 703.97h.6M308.21 678.08h.6M290.39 676.76h.6M312.39 703.44h.6M313.08 681.93h.6M311.74 710.73h.6M313.49 700.7h.6M302.06 676.55h.6M318.17 692.84h.6M284.1 681.99h.6M293.23 706.6h.6M310.17 710.81h.6M298.55 675.52h.6M313.9 698.28h.6M296.17 675.6h.6M298.3 717.7h.6M316.56 691.48h.6M315.27 691.34h.6M318.93 691.24h.6M299.96 714.31h.6M285.02 699.87h.6M311.8 707.42h.6M297.99 718.27h.6M315.47 675.79h.6M295.98 677.96h.6M307.74 714.27h.6M287.56 703.75h.6M303.3 714.42h.6M314.79 709.73h.6M316.92 701.79h.6M290.86 708.33h.6M294.01 711.34h.6M301.26 712.2h.6M307.4 714.22h.6M289.34 706.58h.6M312.55 706.24h.6M305.76 674.07h.6M287.23 701.94h.6M291.68 706.16h.6M295.05 708.2h.6M290.78 675.4h.6M289.6 675.91h.6M315.9 692.12h.6M313.8 703.81h.6M307 717.45h.6M288.3 680.01h.6M319.24 691.09h.6M312.55 709.24h.6M309.93 712.12h.6M313.02 676.38h.6M282.53 688.22h.6M316.33 690.67h.6M314.73 687.02h.6M324.69 689.59h.6M314.86 689.82h.6M278.85 678.83h.6M310.49 709.75h.6M286.66 677.34h.6M311.55 679.85h.6M287.34 702.68h.6M283.79 683.8h.6M313.38 693.85h.6M305.94 674.57h.6M301.6 713.17h.6M283.72 704.12h.6M289.29 704.02h.6M294.03 710.19h.6M282.68 688.57h.6M288.35 704.74h.6M312.22 683.25h.6M281.6 693.56h.6M311.67 709.43h.6M283.07 683.82h.6M311.14 678.69h.6M282.02 688.76h.6M290.92 706.38h.6M309.98 675.69h.6M295.51 707.98h.6M283.88 698.13h.6M312.2 700.96h.6M314.67 694.11h.6M303.71 713.71h.6M314.04 682.86h.6M300.43 712.95h.6M314.82 693.52h.6M296.88 675.9h.6M292.88 674.22h.6M314.22 714.51h.6M298.17 712.75h.6M296.13 708.87h.6M281.64 700.33h.6M297.36 711.46h.6M283.58 685.43h.6M309.74 711.98h.6M314.13 699.6h.6M311.77 709.93h.6M314.08 704.3h.6M297.76 676.45h.6M286.96 704.35h.6M305.78 715.02h.6M281.37 693h.6M302.06 711.96h.6M309.72 718.69h.6M284.86 699.06h.6M299.25 676.87h.6M313.04 685.18h.6M312.71 679.01h.6M284.51 679.91h.6M301.77 711.27h.6M308.96 712.32h.6M316.64 695.84h.6M316.25 677.33h.6M297.04 682.23h.6M302.53 688.61h.6M294.94 691.78h.6M302.7 689.11h.6M306.54 685.1h.6M306.23 693.11h.6M309.92 694.21h.6M296.68 696.2h.6M315.11 695.56h.6M319.85 689.94h.6M303.51 684.14h.6M276.69 688.55h.6M282.03 698.35h.6M291.09 676.91h.6M308.97 694.83h.6M304.65 695.41h.6M283 692.33h.6M301.68 697.11h.6M296.24 684.61h.6M295.95 707.84h.6M280.72 695.32h.6M290.57 703.8h.6M297.26 677.47h.6M304.78 689.44h.6M304.34 688.66h.6M284.5 683.64h.6M287.48 692.24h.6M294.64 692.66h.6M312.46 682.47h.6M301.56 680.73h.6M289.96 694.24h.6M308.74 688.51h.6M312.14 701.66h.6M291.31 679.22h.6M296.53 691.81h.6M290.78 695.46h.6M298.06 692.02h.6M304.57 707.91h.6M297.5 689.44h.6M289.56 696.14h.6M300.69 701.48h.6M296.25 679.54h.6M307.4 686.74h.6M297.39 688.15h.6M281.98 695.01h.6M285.13 688.63h.6M272.92 681.46h.6M303.39 694.35h.6M283.55 703.29h.6M307.74 692.79h.6M291.73 692.11h.6M318.89 693.41h.6M298.78 708.6h.6M288.43 687.62h.6M301.4 710.01h.6M307.24 689.15h.6M297.05 678.87h.6M307.55 695.88h.6M295.81 692.75h.6M306.18 695.33h.6M291.97 688.37h.6M295.01 679.97h.6M321.43 690.36h.6M306.26 700.06h.6M294.1 690.94h.6M303.71 697.19h.6M285.53 686.7h.6M298.7 692.27h.6M306.81 695.27h.6M298.45 681.69h.6M288.92 703.3h.6M309.87 709.33h.6M311.01 683.3h.6M285.7 691.62h.6M297.1 678.94h.6M322.19 702.46h.6M303.02 704.6h.6M309.43 709.92h.6M296.47 678.88h.6M299.4 680.86h.6M307 693.78h.6M292.86 702.63h.6M275.73 694.01h.6M298.84 691.98h.6M300.65 688.73h.6M297.32 688.77h.6M294.52 706.22h.6M312.34 694.29h.6M305.84 694.71h.6M301.42 679.22h.6M302.46 706.22h.6M306.07 678.32h.6M326.77 696.24h.6M283.05 691.33h.6M301.27 694.33h.6M308.29 677.98h.6M305.16 684.31h.6M289.24 685.12h.6M289.26 698.53h.6M292.59 693.49h.6M289.46 700.35h.6M308.76 684.56h.6M313.19 691.19h.6M295.14 702.92h.6M285.79 711.26h.6M302.58 692.66h.6M317.61 688.82h.6M278.43 698.73h.6M301.82 695.87h.6M292.26 672.13h.6M297.24 687.87h.6M294.45 684.96h.6M301.88 693.1h.6M288.34 680.15h.6M297.68 685.06h.6M288.62 697.43h.6M298.7 685.3h.6M301.94 680.43h.6M314.21 693.37h.6M304.61 692.55h.6M315.24 701.02h.6M291.31 685.93h.6M289.72 698.98h.6M303.03 717.45h.6M291.05 682.62h.6M299.95 697.68h.6M320.6 696.33h.6M304.19 680.43h.6M291.55 678.9h.6M280.24 681.76h.6M302.23 685.37h.6M288.65 690.67h.6M296.55 693.68h.6M296.87 696.88h.6M291.79 688.37h.6M301.73 701.96h.6M296.16 697.99h.6M302.64 696.99h.6M298.98 686.44h.6M293.91 707.32h.6M306.57 703.59h.6M303.68 692.85h.6M299.06 684.16h.6M282.65 688.75h.6M292 693.89h.6M284.2 681.41h.6M299.42 692.32h.6M302.62 683.42h.6M296.52 691.76h.6M323.4 671.19h.6M290.55 698.42h.6M307.64 697.86h.6M307.32 704.89h.6M299.93 690.34h.6M282.25 695.84h.6M293.28 691.58h.6M316.14 684.65h.6M274.85 702.35h.6M291.38 685.12h.6M300.13 690.35h.6M276.77 683.73h.6M307.85 701.26h.6M303.4 693.63h.6M296.69 690.83h.6M311.28 679.68h.6M291.05 680.66h.6M299.63 689.52h.6M297 704.85h.6M309.96 679.06h.6M293.43 719.32h.6M278.91 690.26h.6M298.89 679.25h.6M303.07 690.3h.6M300.12 690.38h.6M321.38 694.86h.6M283.48 701.27h.6M310.8 704.18h.6M289.49 692.7h.6M295.45 700.93h.6M306.91 692.87h.6M306.33 689.08h.6M282.05 695.96h.6M305.44 695.43h.6M310.11 689.63h.6M291.72 695.15h.6M316.59 686h.6M295.32 691.46h.6M293.08 688.62h.6M300.08 697.17h.6M302.28 698.45h.6M288.89 698.16h.6M300.09 672.74h.6M291.43 683.27h.6M307.74 690.22h.6M293.42 707.91h.6M301.3 690.27h.6M267.59 680.4h.6M293.89 678.45h.6M293.58 699.09h.6M309.46 677.57h.6M300.07 683.88h.6M297.38 687h.6M302.78 697.54h.6M289.56 691.77h.6M297.2 700.24h.6M312.11 697.39h.6M315.33 705.48h.6M302.24 710.58h.6M286.72 681.8h.6M289.3 693.18h.6M317.13 686.4h.6M306.6 683.6h.6M299.14 700.5h.6M289.97 689.97h.6M307.53 687.9h.6M296.67 678.17h.6M310.53 687.75h.6M306.86 705.9h.6M294.19 715.36h.6M282.17 696.23h.6M310.81 724.31h.6M299.91 730.64h.6M302.38 701.15h.6M294.8 696.38h.6M294.3 715.61h.6M297.85 707.18h.6M296.66 724.89h.6M285.95 712.96h.6M291.65 692.84h.6M291.71 726.6h.6M300.28 723.97h.6M290.52 706.17h.6M294.79 712.22h.6M291.87 720.89h.6M287.53 707.01h.6M295.73 697.67h.6M293.4 710.59h.6M297.21 727.12h.6M286.77 711.86h.6M293.04 708.6h.6M281.33 708.64h.6M289.97 706.65h.6M284.87 714.39h.6M281.83 706.95h.6M303.19 697.48h.6M280.4 714.39h.6M301.19 707.56h.6M302.9 715.67h.6M297.9 721.43h.6M293.52 723.08h.6M293.66 728.15h.6M297.11 721.54h.6M295.43 698.74h.6M283.7 722.8h.6M291.59 711.76h.6M298.02 694.34h.6M294.86 715.38h.6M294.91 727.94h.6M298.25 701.86h.6M283.18 711.16h.6M304.62 702.94h.6M298.43 711.3h.6M297.95 723.98h.6M285.32 695.43h.6M293.14 723.52h.6M297.44 709.89h.6M297.49 715.73h.6M300.33 714.82h.6M279.95 708.97h.6M307.22 710.77h.6M279 707.05h.6M293.92 727.3h.6M282.9 731.13h.6M301.2 713.75h.6M294.79 696.01h.6M313.73 712.8h.6M287.6 700.2h.6M283.15 721.95h.6M300.6 721.68h.6M282.46 696.27h.6M292.3 707.17h.6M276.7 710.95h.6M286.75 721.03h.6M296.24 701.23h.6M306.68 707.31h.6M286.5 703.21h.6M302.09 703.74h.6M295.49 728.49h.6M298.07 717.72h.6M287.72 729.06h.6M296.04 708.37h.6M301.15 698.33h.6M291.57 714.76h.6M284.48 708.4h.6M301.3 716.44h.6M270.92 741.98h.6M296.44 703.45h.6M299 688.82h.6M294.07 712.53h.6M285.49 708.03h.6M286.33 713.87h.6M288.16 704.73h.6M295.01 715.65h.6M291.44 736.85h.6M291.2 691.44h.6M296.6 699.01h.6M293.89 714.64h.6M301.25 715.25h.6M293.92 718.5h.6M291.19 701.16h.6M299.42 712.99h.6M287.19 732.51h.6M293.95 693.61h.6M299.37 706h.6M285.81 714h.6M292.12 724.7h.6M289.04 701.46h.6M296.34 710.29h.6M293.22 716.67h.6M289.86 713.97h.6M290.92 705.01h.6M307.97 720.04h.6M297.69 702.31h.6M304.04 694.6h.6M283.6 701.68h.6M298.51 705.03h.6M290.97 708.17h.6M299.56 714.83h.6M290.28 720.25h.6M290.94 719.33h.6M298.35 713.3h.6M292.15 716.53h.6M296.21 725.99h.6M291.34 727.13h.6M290.29 723.79h.6M296.34 716.39h.6M291.64 708.51h.6M291.93 720.54h.6M286.89 715.42h.6M291.35 709.62h.6M296.74 691.52h.6M298.52 694.5h.6M303.07 725.8h.6M302.46 713.32h.6M294.64 694.33h.6M284.24 710.82h.6M279.75 714.25h.6M301.65 719.7h.6M295.35 724.24h.6M303.61 705.66h.6M285.83 717.98h.6M303.55 710.55h.6M290.68 717.93h.6M288.84 705.26h.6M284.24 717.39h.6M286.42 712.09h.6M307.78 702.01h.6M293.58 712.53h.6M302.26 709.49h.6M309.42 702.74h.6M306.32 704.51h.6M305.02 698.08h.6M299.78 700.55h.6M299.09 701.28h.6M300.26 705.72h.6M301.79 702.88h.6M289.43 726.07h.6M299.05 710.89h.6M286.94 716.78h.6M301.61 715.25h.6M306.41 693.4h.6M297.2 714.96h.6M296.14 701.34h.6M294.85 711.02h.6M294.82 701.43h.6M297.98 703.36h.6M307.33 702.06h.6M294.48 692.16h.6M293.98 711.34h.6M292.91 697.79h.6M308.08 716.3h.6M300.81 719.31h.6M294.75 721.54h.6M296.82 719.71h.6M311.37 686.69h.6M299.53 698.91h.6M308.91 713.6h.6M286.96 700.72h.6M289.24 709.65h.6M279.77 740.87h.6M306.05 703.51h.6M285.02 710.42h.6M299.04 713.07h.6M297.72 706.06h.6M290.22 714.6h.6M286.23 714.56h.6M289.99 721.64h.6M316.91 705.96h.6M275.23 715.1h.6M280.2 728.75h.6M299.78 697.97h.6M291 710.58h.6M298.95 691.94h.6M309.95 706.89h.6M300.29 719.2h.6M308.82 697.27h.6M285.6 703.07h.6M302.8 701.49h.6M283.96 701.21h.6M291.24 723.5h.6M280.4 706.28h.6M294.16 712.17h.6M287.78 732.46h.6M306.95 732.54h.6M292.6 704.74h.6M289.8 708.5h.6M301.11 713.34h.6M291.04 726.96h.6M298.65 720.2h.6M292.1 726.92h.6M306.45 720.29h.6M292.69 710.02h.6M313.39 714.47h.6M290.14 730.52h.6M299.15 700.51h.6M285.41 719.7h.6M292.5 701.5h.6M302.54 716.31h.6M297.57 698.7h.6M296.57 714.28h.6M306.31 714.45h.6M289.66 723.5h.6M298.17 726.9h.6M294.55 713.13h.6M291.64 719.3h.6M304.66 712.76h.6M287.39 704.86h.6M298.03 728.69h.6M306.07 709.98h.6M289.26 711.33h.6M297.09 688.59h.6M296.88 705.25h.6M303.79 722.21h.6M281.15 700.63h.6M299.71 703.19h.6M290.51 693.44h.6M298.77 683.42h.6M282.99 693.83h.6M291 708.86h.6M292.66 713.83h.6M305.78 714.41h.6M291.32 710.98h.6M302.92 711.02h.6M299.03 714.26h.6M293.77 713.79h.6M296.06 717.33h.6M293.88 722.71h.6M297.79 691.45h.6M281.05 710.52h.6M286.38 707.2h.6M264.6 712.89h.6M298.41 717.63h.6M289.92 711.12h.6M291.59 704.57h.6M293.98 710.23h.6M307.28 698.89h.6M301.84 707.38h.6M296.16 703.47h.6M293.68 689.51h.6M275.84 716.37h.6M292 727.26h.6M286.07 706.31h.6M292.59 731.88h.6M288.63 705.44h.6M280.28 693.68h.6M289.96 697.66h.6M293.79 693.74h.6M292.93 705.79h.6M293.7 730.59h.6M295.63 711.75h.6M289.4 719.45h.6M300.47 722.8h.6M305.23 710.79h.6M300.6 727.75h.6M283.28 705.86h.6M291.73 724.42h.6M300.93 709.96h.6M303.78 720.09h.6M300.42 724.15h.6M286.25 734.47h.6M291.29 721.95h.6M306.32 716.48h.6M291.5 699.99h.6M313.57 712.02h.6M280.01 723.07h.6M288.37 723.26h.6M302.44 722.83h.6M275.27 715.03h.6M289.22 704.51h.6M280.06 710.1h.6M297.46 696.21h.6M292.94 702.69h.6M279.13 707.5h.6M299.08 710.62h.6M294.13 697.1h.6M289.45 715.88h.6M291.94 733.75h.6M307.47 699.36h.6M274.94 704.76h.6M304.68 711.83h.6M295.88 702.83h.6M301.57 717.39h.6M284.73 711.77h.6M290.95 709.6h.6M291.37 699.71h.6M293.18 691.43h.6M284.85 726.56h.6M291.73 711.9h.6M284.39 704.18h.6M290.93 709.58h.6M311.46 720.15h.6M311.42 714.89h.6M281.64 683.87h.6M296.81 722.05h.6M293.1 704.52h.6M301.13 704.3h.6M299.39 705.99h.6M292.91 697.87h.6M289.75 705.42h.6M283.56 733.97h.6M307.02 719.97h.6M284.34 717.89h.6M289.01 710.88h.6M285 708.58h.6M303.04 716.64h.6M296.34 714.36h.6M291.26 714.73h.6M283.03 710.94h.6" stroke="#000" stroke-width=".65" opacity=".7" fill="none"/>
<path d="M285.2 679.8C282.52 681.6 282.73 684.77 282.5 687.9C282.27 691.03 282.45 695.68 283.8 698.6C285.15 701.52 288.13 703.37 290.6 705.4C293.07 707.43 295.92 709.35 298.6 710.8C301.28 712.25 304.57 714.33 306.7 714.1C308.83 713.87 310.38 711.98 311.4 709.4C312.42 706.82 312.23 702.18 312.8 698.6C313.37 695.02 315.13 691.15 314.8 687.9C314.47 684.65 313.5 680.9 310.8 679.1C308.1 677.3 302.87 676.98 298.6 677.1C294.33 677.22 287.88 678 285.2 679.8Z" fill="#fff" stroke="#000" stroke-width="0.95"/>
<path d="M286.86 680.88C284.48 682.58 284.64 685.3 284.44 688.08C284.25 690.85 284.49 694.95 285.7 697.53C286.91 700.11 289.52 701.8 291.7 703.55C293.88 705.29 296.45 706.84 298.78 708C301.12 709.15 303.87 710.71 305.71 710.48C307.55 710.26 308.85 708.78 309.83 706.65C310.8 704.52 310.95 700.82 311.56 697.72C312.16 694.61 313.76 690.99 313.47 688.04C313.18 685.1 312.28 681.74 309.82 680.05C307.35 678.35 302.52 677.75 298.69 677.89C294.86 678.03 289.23 679.19 286.86 680.88Z" fill="#fff" stroke="#000" stroke-width="0.6"/>
<path d="M288.38 681.88C286.28 683.46 286.39 685.79 286.23 688.24C286.07 690.69 286.35 694.29 287.43 696.56C288.5 698.83 290.77 700.36 292.69 701.86C294.61 703.35 296.92 704.6 298.95 705.52C300.98 706.44 303.28 707.57 304.86 707.36C306.45 707.15 307.53 705.99 308.45 704.25C309.36 702.5 309.75 699.55 310.37 696.87C310.99 694.19 312.42 690.84 312.17 688.18C311.91 685.53 311.09 682.54 308.86 680.97C306.63 679.4 302.2 678.6 298.79 678.76C295.37 678.91 290.47 680.3 288.38 681.88Z" fill="#fff" stroke="#000" stroke-width="0.6"/>
<path d="M289.69 682.74C287.84 684.2 287.91 686.22 287.78 688.38C287.65 690.55 287.94 693.73 288.9 695.73C289.86 697.74 291.85 699.13 293.55 700.42C295.24 701.7 297.31 702.72 299.08 703.46C300.85 704.19 302.8 705.02 304.17 704.82C305.54 704.62 306.46 703.71 307.31 702.26C308.17 700.81 308.7 698.44 309.31 696.12C309.92 693.79 311.21 690.7 310.99 688.31C310.77 685.93 310.01 683.25 307.99 681.8C305.98 680.35 301.93 679.45 298.88 679.61C295.83 679.76 291.54 681.28 289.69 682.74Z" fill="#f6f6f6" stroke="#000" stroke-width="0.6"/>
<path d="M290.86 683.51C289.23 684.85 289.27 686.59 289.16 688.51C289.05 690.42 289.35 693.23 290.21 695C291.06 696.77 292.8 698.03 294.3 699.14C295.8 700.25 297.65 701.08 299.2 701.67C300.75 702.26 302.4 702.85 303.59 702.66C304.77 702.48 305.55 701.77 306.34 700.56C307.13 699.36 307.75 697.45 308.34 695.43C308.93 693.41 310.08 690.57 309.89 688.43C309.7 686.29 309.01 683.9 307.19 682.57C305.37 681.24 301.7 680.29 298.98 680.45C296.26 680.61 292.5 682.17 290.86 683.51Z" fill="#dcdcdc" stroke="#000" stroke-width="0.6"/>
<path d="M291.89 684.19C290.45 685.42 290.47 686.92 290.38 688.62C290.29 690.32 290.58 692.8 291.34 694.36C292.11 695.93 293.64 697.06 294.96 698.02C296.29 698.98 297.95 699.67 299.3 700.14C300.66 700.62 302.06 701.03 303.09 700.86C304.13 700.69 304.78 700.13 305.51 699.12C306.24 698.11 306.9 696.57 307.47 694.81C308.03 693.04 309.06 690.46 308.89 688.54C308.72 686.62 308.1 684.49 306.46 683.28C304.83 682.06 301.5 681.1 299.07 681.25C296.64 681.4 293.34 682.96 291.89 684.19Z" fill="#a4a4a4" stroke="#000" stroke-width="0.6"/>
<path d="M292.78 684.77C291.49 685.89 291.51 687.21 291.43 688.72C291.35 690.22 291.63 692.42 292.32 693.82C293 695.21 294.35 696.23 295.53 697.07C296.7 697.91 298.19 698.48 299.38 698.86C300.58 699.25 301.78 699.53 302.69 699.37C303.6 699.22 304.16 698.77 304.83 697.92C305.49 697.07 306.17 695.81 306.7 694.26C307.23 692.72 308.15 690.36 308.01 688.63C307.86 686.91 307.29 685.01 305.82 683.9C304.34 682.79 301.32 681.84 299.15 681.99C296.98 682.13 294.07 683.65 292.78 684.77Z" fill="#5e5e5e" stroke="#000" stroke-width="0.6"/>
<path d="M293.52 685.25C292.37 686.28 292.37 687.45 292.31 688.8C292.24 690.15 292.51 692.12 293.12 693.36C293.74 694.61 294.94 695.53 296 696.27C297.05 697.01 298.39 697.49 299.45 697.81C300.52 698.13 301.56 698.32 302.36 698.18C303.17 698.04 303.65 697.68 304.27 696.95C304.88 696.22 305.55 695.17 306.05 693.8C306.55 692.43 307.38 690.28 307.25 688.72C307.12 687.15 306.6 685.44 305.27 684.43C303.93 683.42 301.18 682.5 299.23 682.64C297.27 682.77 294.68 684.23 293.52 685.25Z" fill="#2c2c2c" stroke="#000" stroke-width="0.6"/>
<path d="M294.27 685.74C293.25 686.67 293.25 687.68 293.19 688.88C293.13 690.07 293.39 691.81 293.93 692.91C294.48 694.01 295.53 694.84 296.46 695.48C297.4 696.13 298.59 696.52 299.52 696.78C300.45 697.04 301.35 697.15 302.05 697.02C302.75 696.89 303.16 696.61 303.72 696C304.28 695.38 304.93 694.53 305.39 693.33C305.85 692.13 306.59 690.19 306.48 688.8C306.36 687.41 305.9 685.89 304.7 684.97C303.51 684.06 301.04 683.19 299.3 683.32C297.56 683.44 295.29 684.82 294.27 685.74Z" fill="#121212" stroke="#000" stroke-width="0.6"/>
<path d="M295.01 686.23C294.13 687.05 294.12 687.92 294.07 688.96C294.03 690 294.26 691.5 294.74 692.46C295.21 693.41 296.12 694.14 296.93 694.69C297.74 695.24 298.79 695.56 299.59 695.76C300.39 695.97 301.14 696.02 301.74 695.91C302.34 695.79 302.69 695.58 303.19 695.07C303.68 694.56 304.3 693.88 304.72 692.85C305.13 691.82 305.78 690.11 305.68 688.89C305.59 687.66 305.18 686.34 304.13 685.53C303.07 684.72 300.9 683.91 299.38 684.03C297.86 684.14 295.9 685.41 295.01 686.23Z" fill="#000" stroke="#000" stroke-width="0.6"/>
<circle cx="300.27" cy="687.32" r="0.43" fill="#fff" opacity=".85"/>
<circle cx="298.69" cy="688.17" r="0.5" fill="#fff" opacity=".85"/>
<circle cx="300.95" cy="689.9" r="0.42" fill="#fff" opacity=".85"/>
<circle cx="300.2" cy="689.28" r="0.4" fill="#fff" opacity=".85"/>
<circle cx="301.23" cy="689.56" r="0.4" fill="#fff" opacity=".85"/>
<circle cx="299.85" cy="689.42" r="0.39" fill="#fff" opacity=".85"/>
<circle cx="299.74" cy="689.73" r="0.68" fill="#fff" opacity=".85"/>
<circle cx="300.5" cy="689.2" r="1.3" fill="#fff"/>
<circle cx="300.1" cy="689.7" r="0.45" fill="#222"/>
<text x="258.3" y="746.9" font-size="3.6" text-anchor="end" fill="#444" class="t">10<tspan dy="-1.3" font-size="2.6">0</tspan></text>
<text x="260.5" y="751.8" font-size="3.6" text-anchor="middle" fill="#444" class="t">10<tspan dy="-1.3" font-size="2.6">0</tspan></text>
<text x="258.3" y="726.82" font-size="3.6" text-anchor="end" fill="#444" class="t">10<tspan dy="-1.3" font-size="2.6">1</tspan></text>
<text x="280.5" y="751.8" font-size="3.6" text-anchor="middle" fill="#444" class="t">10<tspan dy="-1.3" font-size="2.6">1</tspan></text>
<text x="258.3" y="706.75" font-size="3.6" text-anchor="end" fill="#444" class="t">10<tspan dy="-1.3" font-size="2.6">2</tspan></text>
<text x="300.5" y="751.8" font-size="3.6" text-anchor="middle" fill="#444" class="t">10<tspan dy="-1.3" font-size="2.6">2</tspan></text>
<text x="258.3" y="686.68" font-size="3.6" text-anchor="end" fill="#444" class="t">10<tspan dy="-1.3" font-size="2.6">3</tspan></text>
<text x="320.5" y="751.8" font-size="3.6" text-anchor="middle" fill="#444" class="t">10<tspan dy="-1.3" font-size="2.6">3</tspan></text>
<text x="258.3" y="666.6" font-size="3.6" text-anchor="end" fill="#444" class="t">10<tspan dy="-1.3" font-size="2.6">4</tspan></text>
<text x="340.5" y="751.8" font-size="3.6" text-anchor="middle" fill="#444" class="t">10<tspan dy="-1.3" font-size="2.6">4</tspan></text>
<line x1="259.3" y1="665.2" x2="259.3" y2="745.5" stroke="#000" stroke-width="1.1" stroke-dasharray="0.6 1.7" opacity=".6"/>
<line x1="260.5" y1="746.7" x2="340.5" y2="746.7" stroke="#000" stroke-width="1.1" stroke-dasharray="0.6 1.7" opacity=".6"/>
<line x1="260.5" y1="664.7" x2="260.5" y2="746.3" stroke="#000" stroke-width="1.7"/>
<line x1="260.5" y1="745.5" x2="340.9" y2="745.5" stroke="#000" stroke-width="1.6"/>
<line x1="260.5" y1="665.2" x2="340.5" y2="665.2" stroke="#000" stroke-width="1"/>
<line x1="340.5" y1="665.2" x2="340.5" y2="745.5" stroke="#000" stroke-width="0.9"/>
<path d="M340.5 665.6H281.8V699.3H340.5" fill="none" stroke="#000" stroke-width="1.5"/>
<line x1="340.5" y1="665.2" x2="340.5" y2="699.3" stroke="#000" stroke-width="1.5"/>
<text x="339" y="679.5" text-anchor="end" font-size="15.5">89</text>
<path d="M389.02 613.59h.6M387.27 593.74h.6M425.42 610.6h.6M417.35 585.97h.6M384.97 599.92h.6M412.11 619.07h.6M413.9 613.11h.6M405.86 585.09h.6M388.03 603.98h.6M413.24 614.72h.6M426.07 610.23h.6M386.91 602.15h.6M398.3 608.88h.6M385.76 606.3h.6M410.9 615.7h.6M408.72 587.4h.6M417.51 614.73h.6M421.14 613.92h.6M414.33 587.13h.6M384.3 600.67h.6M417.54 588.95h.6M412.27 615.32h.6M421.7 597.17h.6M418.96 586.07h.6M386.61 603.15h.6M384.39 590.9h.6M404.74 616.39h.6M406.51 615.7h.6M412.78 582.44h.6M417.67 605.33h.6M427.85 610.46h.6M399.16 610.38h.6M420.09 587.71h.6M401.18 611.47h.6M386.29 600.12h.6M420.12 608.77h.6M410.25 615.85h.6M383.7 597.47h.6M395.82 609.49h.6M410.69 617.92h.6M412.23 613.33h.6M385.4 597.23h.6M390.6 605.03h.6M403.07 585.84h.6M409.67 588.35h.6M405.97 615.38h.6M418.88 589.79h.6M419.43 601.81h.6M418.29 599.08h.6M410.28 615.87h.6M396.87 611.51h.6M386.92 594.38h.6M394.44 606.48h.6M414.03 612.77h.6M393.69 587.49h.6M405.25 615.11h.6M419.09 604.21h.6M406.79 615.78h.6M417.54 608.32h.6M384.36 599.44h.6M420.74 583.2h.6M404.22 617.07h.6M387.38 601.46h.6M382.45 600.5h.6M388.96 590.67h.6M414.57 618.21h.6M410.11 616.81h.6M389.44 606.73h.6M423.99 595.61h.6M388.01 593.28h.6M418.29 603.13h.6M397.74 608.69h.6M422.93 589.26h.6M389.12 589.13h.6M411.16 614.95h.6M417.39 589.84h.6M416.39 588.19h.6M406.02 615.83h.6M413.7 614.61h.6M405.78 615.72h.6M419.08 590.57h.6M416.83 608.76h.6M420.25 600.27h.6M417.48 602.52h.6M386.52 598.6h.6M383.61 598.49h.6M382.92 598.25h.6M385.31 602.34h.6M413.73 613.31h.6M407.92 616.8h.6M385.02 596.69h.6M388.7 590.06h.6M382.66 602.59h.6M419.54 592.93h.6M419.46 601.11h.6M411.01 615.87h.6M414.49 612.35h.6M422.5 599.51h.6M419.31 599.3h.6M418.47 588.54h.6M387.1 605.24h.6M413 587.38h.6M406.87 622.22h.6M391.81 605.34h.6M418.85 604.02h.6M394.41 607.63h.6M415.96 611.62h.6M383.76 594.61h.6M387.02 597.85h.6M413.38 620.2h.6M418.92 591.94h.6M407.04 614.53h.6M419.78 596.25h.6M411.65 614.6h.6M398.51 608.59h.6M410.66 617.14h.6M419.23 595.25h.6M407.02 586.27h.6M406.05 614.82h.6M389.17 605.41h.6M400.11 617.09h.6M396.35 608.54h.6M401.96 614.47h.6M419.7 588.99h.6M416.1 610.49h.6M419.41 592.23h.6M420.3 591.52h.6M385.68 600.84h.6M406.5 622.5h.6M415.5 613.36h.6M416.81 615.53h.6M385.6 595.59h.6M419.91 590.78h.6M409.88 618.96h.6M387.25 600.95h.6M386.33 595.97h.6M382.9 605.98h.6M410.23 616.66h.6M389.09 589.81h.6M408.85 586.04h.6M406.53 582.23h.6M393.12 587.99h.6M418 607.06h.6M412.55 615.15h.6M405.4 584.03h.6M420.67 591.87h.6M404.06 585.77h.6M388.33 592.84h.6M418.45 588.02h.6M418.01 604.22h.6M419.06 585.13h.6M419.73 601.91h.6M418.1 588.41h.6M398.74 586.06h.6M409.84 622.45h.6M399.16 621.21h.6M384.49 599.65h.6M406.02 613.41h.6M388.3 608.3h.6M420.87 594.47h.6M419.48 597.09h.6M398.01 611.52h.6M415.17 615.24h.6M420.56 587.74h.6M428.18 599.54h.6M385.68 599.38h.6M406.29 612.73h.6M409.2 585.81h.6M391.41 588.5h.6M416.28 587.49h.6M387.52 603.29h.6M386.29 597.13h.6M409.39 615.58h.6M386.57 587.62h.6M393.06 608.24h.6M402.06 585.68h.6M410.28 586.21h.6M419.41 596.33h.6M386.57 602.57h.6M406.29 585h.6M387.24 604.41h.6M391.76 605.14h.6M383.17 595.62h.6M417.26 584.99h.6M416.08 610.72h.6M401.84 615.77h.6M399.78 586.94h.6M405.44 616.66h.6M412.66 618.03h.6M396.01 587.61h.6M396.22 609.33h.6M419.56 587.47h.6M406.43 612.48h.6M393.95 609.28h.6M411.74 585.68h.6M419.78 601.56h.6M414.12 614.57h.6M389.2 589.36h.6M390.96 585.48h.6M419.88 590.57h.6M399.67 613.58h.6M404.12 618.01h.6M396.57 587.6h.6M398.23 609.83h.6M384.63 590.41h.6M387.08 601.62h.6M390.72 588.19h.6M415.24 612.26h.6M417.85 602.76h.6M394.35 607.15h.6M387.8 594.89h.6M387.07 601.19h.6M387.84 606.67h.6M418.69 604.39h.6M402.3 616.04h.6M415.85 608.85h.6M389.65 605.06h.6M388.22 587.52h.6M409.85 616.99h.6M407.96 615.11h.6M413.84 614.96h.6M411.93 586.27h.6M407.22 614.49h.6M388.29 591.36h.6M395.73 608.82h.6M408.81 616.68h.6M420.79 590.94h.6M398.03 611.78h.6M389.89 587.98h.6M393.64 606.71h.6M417.74 605.4h.6M417.24 588.03h.6M417.79 590.09h.6M414.1 613.42h.6M411.07 616.9h.6M416.51 588.29h.6M387.92 606.33h.6M389.38 587.62h.6M400.81 580.51h.6M399.87 611.36h.6M417.08 610.45h.6M394.52 588.23h.6M418.38 607.96h.6M388.09 603.05h.6M419.05 590.09h.6M388.95 590.59h.6M401.31 584.89h.6M403.59 586.57h.6M412.77 613.71h.6M392.56 606.07h.6M419.87 608.99h.6M415.6 610.86h.6M412.26 613.76h.6M412.39 618.31h.6M407.79 615.3h.6M418.67 601.79h.6M411.65 616.07h.6M414.13 614.7h.6M407.02 614.15h.6M402.59 612.31h.6M410.13 616.07h.6M416.47 583.43h.6M382.05 591.99h.6M417.75 605.75h.6M405.37 586.07h.6M394.87 587.79h.6M394.96 609.45h.6M387.03 600.45h.6M385.89 597.92h.6M389.41 587.79h.6M394.79 606.92h.6M413.34 614.02h.6M412.5 585.6h.6M406.01 612.95h.6M395.06 611.61h.6M414.74 612.06h.6M417.98 603h.6M416.22 610.38h.6M386.58 601.67h.6M391.29 587.2h.6M383.92 591.39h.6M418.7 598.77h.6M380.5 598.48h.6M387.85 593.78h.6M417.85 585.24h.6M414.1 613.23h.6M387.9 595.28h.6M407.21 586.44h.6M386.53 595.9h.6M402.33 584.73h.6M416.38 589.84h.6M411.09 616.56h.6M417.94 611.87h.6M414.26 583.67h.6M411.14 615.97h.6M422.01 591.23h.6M418.06 590.08h.6M407.42 586.53h.6M388.28 604.56h.6M375.64 610.32h.6M387.69 605.64h.6M420.59 594.41h.6M414.74 584.59h.6M386.01 600.42h.6M402.3 585.24h.6M389.03 586.93h.6M406.64 583.99h.6M406.39 615.56h.6M410.59 617.69h.6M386.98 593.86h.6M387.15 598.23h.6M388.38 586.87h.6M391.4 588.42h.6M386.62 594.33h.6M412.33 617.3h.6M420.05 590.67h.6M385.29 594.73h.6M419.68 596.05h.6M411.59 616.08h.6M413.02 616.92h.6M383.61 594.67h.6M403.2 584.68h.6M387.46 595.29h.6M412.64 615.03h.6M387.5 590.58h.6M384.63 589h.6M419.83 590.62h.6M393.61 584.38h.6M415.62 612.61h.6M421.58 609.12h.6M401.9 612.42h.6M413.38 585.47h.6M421.56 588.24h.6M412.21 585.07h.6M388.52 589.29h.6M400.4 614.05h.6M393.78 588.81h.6M419.39 588.47h.6M396.42 607.62h.6M423.65 593.28h.6M404.94 584.29h.6M406.29 585.96h.6M385.75 606.29h.6M416.4 614.59h.6M381.28 597.39h.6M386.27 599.57h.6M419.19 606.54h.6M417.84 588.47h.6M385.97 595.39h.6M420.48 589.55h.6M387.05 590.28h.6M401.54 586.57h.6M417.33 583.78h.6M421.05 584.25h.6M418.35 610.46h.6M388.44 604.07h.6M386.9 600.85h.6M417.03 588.32h.6M420.1 606.5h.6M401.35 573.11h.6M387.09 597.99h.6M394.15 608.29h.6M410.51 616.46h.6M420.2 593.54h.6M418.58 602.01h.6M419.5 598.45h.6M407.6 586.89h.6M394.07 607.79h.6M389.93 606.09h.6M412.76 586.08h.6M413.86 613.5h.6M384.44 594.26h.6M416.67 588.7h.6M411.68 616.06h.6M388.33 594.11h.6M409.3 583.72h.6M422.78 597.68h.6M406.53 613.39h.6M384.33 604.44h.6M419.99 602.79h.6M411.78 585.19h.6M406.17 613.88h.6M392.24 588.22h.6M389.55 588.2h.6M413.11 619.77h.6M387.02 598.92h.6M416.66 613.68h.6M408.01 615.92h.6M417.2 587.95h.6M420.86 598.08h.6M420.22 602.1h.6M419.84 605.07h.6M392.64 588.01h.6M388.8 591.04h.6M392.52 607.69h.6M385.95 596.1h.6M383.13 595.11h.6M392.96 606.07h.6M418.79 596.2h.6M418.23 583.27h.6M414.75 612.74h.6M422.84 599.53h.6M383.76 594.03h.6M387.45 602.61h.6M408.92 616.89h.6M403.45 581.6h.6M395.16 609.73h.6M387.92 588.67h.6M418.63 587.77h.6M393.77 585.63h.6M419.31 589.65h.6M422 590.64h.6M401.91 583.03h.6M379.54 598.18h.6M392.25 605.81h.6M402.89 613.93h.6M385.78 606.49h.6M414.03 613.27h.6M394.99 587.49h.6M420.71 593.18h.6M418.65 591.84h.6M406.95 586.15h.6M387.65 602.6h.6M402.05 619.4h.6M401.01 610.16h.6M385.71 586.94h.6M408.17 587.41h.6M398.12 609.03h.6M394.95 612h.6M410.96 623.51h.6M407.11 615.88h.6M392.36 605.17h.6M417.77 602.14h.6M404.74 583.86h.6M389.08 580.29h.6M404.14 581.72h.6M388.11 592.91h.6M404.64 586h.6M412.46 613.21h.6M394.09 587.09h.6M397.07 607.86h.6M417.91 586.59h.6M398.46 611.95h.6M388.83 585.97h.6M386.72 604.04h.6M419.62 593.84h.6M417.93 584.78h.6M390.9 605.64h.6M392.67 586.58h.6M419.33 589.92h.6M387 595.81h.6M397.93 610.84h.6M416.85 609.89h.6M415.34 611.24h.6M409.02 615.67h.6M393.05 589.01h.6M391.92 588.47h.6M418.43 605.22h.6M415.54 611.26h.6M382.67 597.87h.6M386.66 602.66h.6M425.16 601.12h.6M388.56 606.6h.6M403.99 623.4h.6M408.18 584.17h.6M403.66 583.86h.6M416.81 588.95h.6M397.06 612.41h.6M384.48 586.83h.6M385.86 586.95h.6M419.42 597.85h.6M389.22 603.3h.6M405.25 615.02h.6M401.7 613.93h.6M416.49 589.22h.6M415.42 583.31h.6M388.41 587.79h.6M418.78 581.64h.6M419.5 603.33h.6M428.75 602.24h.6M416.89 586.13h.6M411.1 621.82h.6M385.73 597.79h.6M422.16 589.08h.6M397.6 610.72h.6M400.25 613.46h.6M387.04 602.89h.6M404.08 584.33h.6M420.32 584.72h.6M413.57 613.64h.6M418.49 588.78h.6M399.15 586.63h.6M421 596.66h.6M393.2 608.08h.6M411.8 585.97h.6M402.66 613.12h.6M419.22 596.25h.6M412.22 622.7h.6M391.58 605.66h.6M399.05 612.14h.6M408.04 585.64h.6M391.26 607.55h.6M400.46 613.31h.6M386.41 597.44h.6M420.59 583.97h.6M416.6 604.11h.6M395.51 608.55h.6M413.25 613.2h.6M386.75 594.53h.6M396.94 586.6h.6M418.45 606.11h.6M387.08 599.93h.6M410.05 586.69h.6M395.87 586.31h.6M415.18 612.33h.6M406.23 584.86h.6M410.31 584.81h.6M396.99 586.24h.6M405.79 583.84h.6M392.16 605.21h.6M388.39 593.93h.6M396.46 605.01h.6M413.49 604.39h.6M397.23 609.37h.6M400.6 591.42h.6M402.68 618.56h.6M404.03 595.56h.6M410.45 594.75h.6M413.77 607.36h.6M393.4 597.87h.6M401.22 594.62h.6M407.27 599.37h.6M418.37 603.65h.6M412.09 609.52h.6M407.95 608.29h.6M398.57 609.81h.6M412.4 610.4h.6M399.71 596.73h.6M413.88 600.76h.6M425.4 605.7h.6M394.79 606.77h.6M406.37 585.48h.6M399.42 582.94h.6M426.09 591.56h.6M397.43 598.56h.6M397.68 611.59h.6M402.16 589.49h.6M410.62 604.21h.6M392.58 609.21h.6M393.24 593.81h.6M416.47 597.18h.6M404.72 594.4h.6M401.82 584.31h.6M401.78 594.77h.6M411.97 597.66h.6M397.32 597.27h.6M388.51 604.74h.6M389.6 590.98h.6M406.42 598.65h.6M421.11 589.65h.6M407.13 616.31h.6M399.01 590.38h.6M412.73 616.94h.6M397.9 608.33h.6M409.85 602.31h.6M411.12 599.05h.6M409.67 599.17h.6M402.94 592.23h.6M403.93 600.46h.6M396.82 595.2h.6M401.13 613.09h.6M408.25 606.92h.6M415.2 607.18h.6M418.14 613.17h.6M410.36 600.5h.6M405.45 600.64h.6M398.21 588.43h.6M407.8 590.05h.6M410.13 615.95h.6M405.21 593.51h.6M399.06 606.39h.6M403.6 597.7h.6M406.55 591.61h.6M395.89 604.61h.6M398.37 606.53h.6M400.35 601.96h.6M403.07 611.95h.6M402.09 602.03h.6M395.04 602.53h.6M403.03 603.86h.6M387.61 606.54h.6M404.98 603.9h.6M407.62 609.82h.6M396.34 596.95h.6M406.39 588.9h.6M422.65 584.58h.6M408.8 597.28h.6M409.64 613.87h.6M419.9 595.42h.6M404.91 594.97h.6M393.06 602.36h.6M399.24 591h.6M401.65 596.28h.6M394.99 602.97h.6M408.78 604.45h.6M398.71 593.82h.6M385.44 607.13h.6M412.45 594.07h.6M393.08 591.34h.6M415.95 599.68h.6M400.79 601.9h.6M404.45 598.68h.6M402.94 606.68h.6M412.16 592.17h.6M403.27 600.72h.6M405.84 621.11h.6M409.99 607.49h.6M403.52 605.89h.6M414.34 611.44h.6M397.62 602.78h.6M407.29 592.43h.6M401.54 597.5h.6M411.7 601.7h.6M420.82 605.81h.6M400.83 603.56h.6M405.17 594.74h.6M407.42 589.88h.6M405.98 597.45h.6M405.2 595.6h.6M418.65 595.87h.6M410.91 601.9h.6M413.97 595.72h.6M393.96 607.07h.6M412.98 606.75h.6M372.8 615.41h.6M416.41 601.61h.6M397.02 605.58h.6M390.25 598.77h.6M409.43 612.7h.6M401.1 599.59h.6M393.16 600.25h.6M398.66 601.46h.6M398.2 605.05h.6M403.55 595.75h.6M409.15 605.68h.6M402.27 599.84h.6M411.09 605.48h.6M403.06 617.44h.6M400.39 590.74h.6M399.07 603.1h.6M389.98 616.88h.6M411.92 593.5h.6M407.48 590.94h.6M404.11 599.44h.6M417.11 586.16h.6M400.24 585.89h.6M400.37 598.74h.6M404.35 609.85h.6M396.87 596.84h.6M416.41 601.66h.6M396.41 601.52h.6M395.3 594.18h.6M399.96 588.97h.6M419.13 598.09h.6M406.22 599.28h.6M403.48 594.7h.6M407.82 597.75h.6M397.4 608.84h.6M416.8 604.95h.6M408.58 598.68h.6M405.33 607.19h.6M404.64 612.18h.6M416.07 603.28h.6M406.2 594.51h.6M400.75 595.99h.6M401.51 594.03h.6M407.47 603.98h.6M403.07 614.61h.6M406.43 600.85h.6M405.94 596.47h.6M410.56 593.93h.6M404.01 617.51h.6M406.67 592.71h.6M395.13 610.66h.6M388.97 614.81h.6M415.23 597.57h.6M406.5 597.48h.6M396.64 604.86h.6M398.76 606.24h.6M407.03 596.29h.6M404.99 601.7h.6M403.01 599.51h.6M414.39 595.4h.6M405.59 609.71h.6M407.6 597.99h.6M394.98 599.14h.6M388.29 597.74h.6M404.18 612.03h.6M409.53 609.75h.6M408.13 603.28h.6M391.3 596.68h.6M402.45 600.63h.6M394.16 588.92h.6M405.83 599.13h.6M404.43 599.51h.6M402.39 592.02h.6M411.45 604.54h.6M404.11 615.24h.6M398.46 608h.6M403.86 601.51h.6M411.45 601.31h.6M404.17 591.65h.6M406.68 604.54h.6M400.84 591.86h.6M412.29 602.47h.6M413.87 600.8h.6M425.4 591.57h.6M410.26 602.45h.6M406.36 599.65h.6M408.93 608.18h.6M405.12 593.09h.6M412.31 609.3h.6M394.79 603.28h.6M416.82 606.3h.6M400.24 603.6h.6M407.22 592.6h.6M402.1 598.76h.6M401.62 611.97h.6M389.8 593.19h.6M398.53 611.42h.6M403.66 599.29h.6M402.55 613.87h.6M420.25 603.24h.6M396.42 599.15h.6M390.06 608.78h.6M402.7 610.23h.6M399.58 595.39h.6M386.75 603.4h.6M413.01 584.14h.6M395.65 600.66h.6M412.92 616.38h.6M417.83 603.56h.6M392.58 594.72h.6M408.55 601.46h.6M397.81 600.67h.6M405.57 619.31h.6M401.74 605.94h.6M406.79 607.4h.6M398.73 613.22h.6M415.38 605.43h.6M395.49 592.76h.6M402.72 600.39h.6M397.15 600.37h.6M391.57 599.88h.6M393.35 603.58h.6M384.14 595.38h.6M400.8 589.74h.6M400.68 599.7h.6M414.99 606.79h.6M400.95 607.81h.6M403.8 607.75h.6M400.78 603.54h.6M401.62 608.9h.6M418.61 614.13h.6M415.83 600.12h.6M417.35 599.03h.6M404.13 594.25h.6M411.99 588.43h.6M403.62 606.84h.6M395.09 605.17h.6M395.46 598.73h.6M407.13 612.5h.6M421.35 593.42h.6M390.63 595.46h.6M406.12 600.44h.6M393.63 594.37h.6M406.03 601.66h.6M420.86 591.99h.6M399.63 628.97h.6M394.23 610.02h.6M400.79 610.2h.6M415.89 605.09h.6M403.06 609.51h.6M405.58 622.1h.6M417.71 604.45h.6M416.31 597.96h.6M399.35 603.93h.6M399.84 610.49h.6M407.58 602.54h.6M408.61 604.36h.6M409.83 611.42h.6M395.51 602.43h.6M413.69 608.67h.6M407.75 606.72h.6M418.73 612.63h.6M399.16 610.84h.6M395.8 606.17h.6M402.14 601.54h.6M397.76 617.19h.6M397.5 607.53h.6M394.59 618.56h.6M397 614.8h.6M410.72 613.24h.6M400.94 592.82h.6M397.49 607.47h.6M392.67 600.54h.6M408.02 609.18h.6M414.25 612.57h.6M416.35 611.29h.6M404 610.61h.6M412.83 616.37h.6M410.9 605.68h.6M396.22 616.71h.6M414.36 601.69h.6M405.57 601.91h.6M406.02 625.1h.6M402.22 606.09h.6M404.77 605.84h.6M408.64 597.45h.6M411.77 603.54h.6M405.59 627.83h.6M415.93 610.68h.6M404.04 612.91h.6M413.31 634.33h.6M422.42 620.23h.6M398.31 620.2h.6M403.89 610.58h.6M402.22 606.62h.6M410.27 610.73h.6M411.76 605.43h.6M397.75 606.17h.6M403.03 612.03h.6M421.26 610.3h.6M403.14 628.08h.6M421.17 616.09h.6M413.94 595.99h.6M402.24 609.1h.6M405.44 594.69h.6M407.84 622.88h.6M417.4 611.38h.6M409.96 609.32h.6M386.79 613.35h.6M413.61 598.5h.6M425.61 615.11h.6M409.86 620.14h.6M397.03 608.61h.6M392.47 616.49h.6M409.54 626.49h.6M411.97 606.2h.6M387.71 606.82h.6M402.4 608.9h.6M400.89 606.82h.6M406.61 604.8h.6M398.2 607.57h.6M392.19 592.11h.6M404.88 601.82h.6M392.39 608.18h.6M405.49 618.77h.6M400.42 609.1h.6M403.62 604.55h.6M393.69 594.62h.6M389.27 601.03h.6M397.34 605.29h.6M389.03 611.2h.6M408.37 599.87h.6M398.95 605.84h.6M410.56 618.09h.6M410.42 614.43h.6M416.25 614.32h.6M407.09 613.3h.6M413.74 610.47h.6M414.13 605.12h.6M395.63 608.95h.6M410.07 624.64h.6M403.64 601.47h.6M389.7 602.36h.6M402.27 606.08h.6M408.18 609.44h.6M399.99 628.02h.6M400.28 607.17h.6M394.3 604.38h.6M407.6 596.19h.6M402.41 603.43h.6M405.85 613.69h.6M404.31 616.31h.6M400.56 611.77h.6M397.01 596.85h.6M396.2 606.97h.6M409.58 623.03h.6M408.82 613.91h.6M397.73 621.94h.6M399.58 608.22h.6M422 616.14h.6M424.25 604.7h.6M408.74 599.95h.6M408.49 604.39h.6M416.76 613.22h.6M390.34 606.38h.6M398.4 609.87h.6M414.22 600.13h.6M403.2 614.25h.6M397.3 606h.6M399.38 617.06h.6M411.83 600.64h.6M414.59 621.45h.6M402.4 611.7h.6M410.4 614.52h.6M424.43 610.03h.6M402.62 610.89h.6M404.49 595.43h.6M412.82 611.45h.6M397.96 602.64h.6M391.55 610.45h.6M407.81 610.39h.6M413.68 607.28h.6M395.23 609.69h.6M418.9 619.54h.6M405.27 623.5h.6M397.13 604.94h.6M401.97 624.69h.6M379.73 611.45h.6M405.84 602.38h.6M408.9 594.21h.6M407.32 601.82h.6M398.91 611.28h.6M404.33 605.25h.6M405.44 603.69h.6M416.65 611.8h.6M407.96 619.8h.6M421.56 597.84h.6M406.51 600.01h.6M410.9 604.82h.6M399.33 607.16h.6M415.36 601.88h.6M408.5 607.13h.6M402.44 610.15h.6M420.75 605.95h.6M407.14 612.13h.6M391.96 607.13h.6M410.07 611.97h.6M406.16 601.7h.6M402.16 613.55h.6M398.99 616.28h.6M408.85 621.34h.6M391.43 609.02h.6M391.59 600.7h.6M422.46 614.69h.6M408.49 601.19h.6M405.57 612.84h.6M416.89 593.95h.6M404.55 600.34h.6M424.35 621.25h.6M405.68 606.81h.6M418.05 621.71h.6M401.72 616.35h.6M408.04 610.95h.6M392.63 625h.6M404.51 601.12h.6M393.57 620.7h.6M407.79 616.41h.6M406.39 598.71h.6M403.59 603.19h.6M395.85 610.37h.6M399.01 611.66h.6M406.57 605.36h.6M397.56 607.24h.6M414.42 617.32h.6M415.84 602.74h.6M397.62 610.93h.6M405.06 614.16h.6M409.03 598.34h.6M407.34 620.64h.6M404.4 608.75h.6M405.83 597.28h.6M411.47 612.39h.6M412.74 605.06h.6M399.11 601.17h.6M404.07 608.95h.6M410.34 601.92h.6M398.83 600.37h.6M401.93 588.7h.6M414.03 586.34h.6M416.07 587.5h.6M402.43 588.13h.6M395.31 584.21h.6M408.13 586.3h.6M400.59 585.33h.6M396.96 584.02h.6M430.02 587.97h.6M414.7 589.7h.6M392.87 588.39h.6M399.9 582.21h.6M401.52 586.57h.6M415.69 589.37h.6M407.63 589.79h.6M388.79 585.91h.6M411.67 593.27h.6M392.41 579.11h.6M404.5 585.49h.6M410.87 585.63h.6M398.12 584.96h.6M408.75 593.34h.6M381.22 582.82h.6M404.51 584.89h.6M393.04 584.85h.6M401.24 586.6h.6M411.15 585.07h.6M411.53 584.05h.6M401.29 587.16h.6M402.73 588.24h.6M413.45 584.48h.6M424.85 588.21h.6M400.97 582.85h.6M404.91 586.33h.6M411.89 587.16h.6M411.83 581.97h.6M401.19 586.02h.6M413.07 585.86h.6M408.41 583.37h.6M416.36 586.43h.6M394.73 585.42h.6M404.1 586.66h.6M423.29 582.81h.6M417.86 582.69h.6M405.41 582.98h.6M405.73 589.36h.6M421.32 588.79h.6M405.11 588.6h.6M393.13 585.78h.6M400.02 580.17h.6M403.66 582.53h.6M416.62 583.61h.6M416.63 585.53h.6M415.52 588.02h.6M418.21 583.62h.6M394.96 586.72h.6M427.03 589.73h.6M406.96 589.32h.6M406.16 586.8h.6M417.13 587.15h.6M405.29 586.54h.6M416.63 589.94h.6M419.74 587.59h.6M397.75 588.73h.6M403.75 583.93h.6M405.45 584.16h.6M395.25 586.47h.6M398.29 588.76h.6M409.22 582.64h.6M410.23 587.38h.6M396.18 588.52h.6M402.9 585.4h.6M412.62 580.03h.6M401.7 588.23h.6M409.72 590.34h.6M411.37 586.44h.6M416.52 585.8h.6M413.29 578.83h.6M393.67 589.31h.6M415.85 587.73h.6M415.41 581.26h.6M410.33 582.4h.6M401.74 583.93h.6M415.8 583.91h.6M414.83 588.4h.6M409.46 587.41h.6M417 586.9h.6M412.77 587.7h.6M391.9 591.72h.6M411.1 586.02h.6" stroke="#000" stroke-width=".65" opacity=".7" fill="none"/>
<path d="M389.5 589C386.6 590.78 386.62 594.8 386.4 597.2C386.18 599.6 386.55 601.62 388.2 603.4C389.85 605.18 393.7 606.33 396.3 607.9C398.9 609.47 401.4 611.53 403.8 612.8C406.2 614.07 408.72 615.72 410.7 615.5C412.68 615.28 414.35 613.83 415.7 611.5C417.05 609.17 418.23 604.83 418.8 601.5C419.37 598.17 419.62 593.87 419.1 591.5C418.58 589.13 418.25 588.13 415.7 587.3C413.15 586.47 408.17 586.22 403.8 586.5C399.43 586.78 392.4 587.22 389.5 589Z" fill="#fff" stroke="#000" stroke-width="0.95"/>
<path d="M392.08 590C389.67 591.67 389.74 595 389.57 597.07C389.4 599.14 389.7 600.82 391.06 602.39C392.42 603.97 395.51 605.13 397.73 606.53C399.94 607.94 402.24 609.74 404.35 610.82C406.46 611.89 408.65 613.14 410.4 612.96C412.14 612.77 413.55 611.67 414.83 609.7C416.11 607.73 417.49 604.11 418.07 601.14C418.66 598.16 418.82 594.04 418.34 591.84C417.86 589.64 417.57 588.72 415.19 587.92C412.82 587.13 407.92 586.72 404.07 587.07C400.22 587.42 394.5 588.33 392.08 590Z" fill="#fff" stroke="#000" stroke-width="0.6"/>
<path d="M394.35 590.87C392.34 592.41 392.45 595.18 392.31 596.96C392.18 598.73 392.43 600.13 393.55 601.52C394.67 602.91 397.14 604.04 399.02 605.29C400.91 606.54 403 608.12 404.85 609.02C406.7 609.93 408.59 610.87 410.13 610.71C411.66 610.55 412.85 609.72 414.05 608.06C415.25 606.4 416.72 603.4 417.3 600.75C417.89 598.11 417.98 594.23 417.54 592.2C417.1 590.17 416.85 589.33 414.66 588.59C412.46 587.84 407.76 587.34 404.37 587.72C400.99 588.1 396.36 589.33 394.35 590.87Z" fill="#fff" stroke="#000" stroke-width="0.6"/>
<path d="M396.22 591.6C394.54 593.01 394.66 595.33 394.56 596.87C394.45 598.4 394.66 599.57 395.59 600.8C396.52 602.03 398.51 603.12 400.13 604.23C401.74 605.35 403.65 606.73 405.28 607.5C406.91 608.27 408.55 608.98 409.9 608.84C411.25 608.71 412.27 608.08 413.38 606.67C414.49 605.26 416 602.74 416.56 600.38C417.13 598.03 417.17 594.4 416.77 592.55C416.37 590.69 416.15 589.92 414.14 589.22C412.12 588.53 407.66 587.97 404.68 588.37C401.69 588.76 397.91 590.18 396.22 591.6Z" fill="#f6f6f6" stroke="#000" stroke-width="0.6"/>
<path d="M397.83 592.22C396.41 593.51 396.55 595.46 396.47 596.79C396.39 598.12 396.56 599.1 397.33 600.19C398.11 601.27 399.72 602.3 401.1 603.3C402.49 604.29 404.22 605.51 405.65 606.16C407.09 606.82 408.52 607.35 409.71 607.23C410.9 607.11 411.77 606.65 412.79 605.44C413.81 604.24 415.3 602.12 415.84 600.02C416.38 597.93 416.39 594.58 416.02 592.88C415.66 591.18 415.47 590.49 413.63 589.85C411.79 589.2 407.62 588.62 404.98 589.02C402.35 589.41 399.25 590.92 397.83 592.22Z" fill="#dcdcdc" stroke="#000" stroke-width="0.6"/>
<path d="M399.2 592.75C398 593.92 398.14 595.57 398.07 596.72C398.01 597.88 398.16 598.71 398.8 599.67C399.45 600.63 400.76 601.59 401.95 602.48C403.15 603.37 404.71 604.44 405.98 605C407.24 605.56 408.49 605.95 409.54 605.85C410.59 605.75 411.34 605.4 412.28 604.38C413.21 603.35 414.66 601.55 415.16 599.68C415.67 597.82 415.66 594.74 415.32 593.19C414.99 591.65 414.83 591.03 413.16 590.44C411.48 589.84 407.6 589.26 405.28 589.65C402.95 590.03 400.4 591.57 399.2 592.75Z" fill="#a4a4a4" stroke="#000" stroke-width="0.6"/>
<path d="M400.34 593.19C399.31 594.26 399.45 595.66 399.4 596.67C399.35 597.68 399.48 598.39 400.02 599.24C400.57 600.1 401.64 600.99 402.68 601.78C403.72 602.58 405.13 603.52 406.25 604.01C407.37 604.49 408.47 604.78 409.41 604.69C410.34 604.6 410.98 604.35 411.84 603.46C412.7 602.58 414.07 601.04 414.55 599.37C415.02 597.71 414.99 594.88 414.69 593.48C414.38 592.08 414.25 591.51 412.72 590.97C411.2 590.43 407.62 589.86 405.55 590.23C403.49 590.6 401.36 592.11 400.34 593.19Z" fill="#5e5e5e" stroke="#000" stroke-width="0.6"/>
<path d="M401.26 593.54C400.38 594.52 400.52 595.73 400.47 596.62C400.43 597.52 400.54 598.13 401.01 598.9C401.48 599.66 402.37 600.49 403.28 601.21C404.19 601.92 405.48 602.76 406.48 603.19C407.48 603.61 408.46 603.83 409.29 603.75C410.12 603.67 410.69 603.48 411.48 602.7C412.26 601.93 413.56 600.6 414 599.1C414.45 597.61 414.41 595.01 414.13 593.73C413.85 592.45 413.73 591.94 412.34 591.44C410.95 590.94 407.64 590.39 405.79 590.74C403.95 591.1 402.15 592.56 401.26 593.54Z" fill="#2c2c2c" stroke="#000" stroke-width="0.6"/>
<path d="M402.17 593.89C401.41 594.78 401.55 595.8 401.51 596.58C401.48 597.36 401.57 597.89 401.97 598.56C402.36 599.24 403.09 599.99 403.88 600.63C404.67 601.26 405.83 602 406.71 602.37C407.59 602.73 408.45 602.89 409.18 602.82C409.92 602.75 410.4 602.62 411.11 601.95C411.82 601.28 413.03 600.15 413.44 598.82C413.85 597.49 413.8 595.14 413.55 593.99C413.3 592.84 413.2 592.38 411.95 591.93C410.7 591.48 407.68 590.96 406.05 591.29C404.42 591.61 402.93 593.01 402.17 593.89Z" fill="#121212" stroke="#000" stroke-width="0.6"/>
<path d="M403.06 594.24C402.42 595.02 402.55 595.87 402.52 596.54C402.5 597.21 402.57 597.65 402.9 598.23C403.23 598.82 403.81 599.5 404.48 600.05C405.16 600.61 406.17 601.25 406.93 601.56C407.7 601.87 408.44 601.97 409.07 601.91C409.71 601.85 410.12 601.76 410.75 601.2C411.38 600.63 412.49 599.68 412.85 598.53C413.22 597.37 413.17 595.27 412.95 594.26C412.73 593.24 412.64 592.84 411.53 592.44C410.43 592.04 407.73 591.56 406.31 591.86C404.9 592.16 403.69 593.46 403.06 594.24Z" fill="#000" stroke="#000" stroke-width="0.6"/>
<circle cx="406.68" cy="594.87" r="0.35" fill="#fff" opacity=".85"/>
<circle cx="407.7" cy="596.24" r="0.55" fill="#fff" opacity=".85"/>
<circle cx="407.34" cy="596.09" r="0.78" fill="#fff" opacity=".85"/>
<circle cx="407.06" cy="597.06" r="0.78" fill="#fff" opacity=".85"/>
<circle cx="408.6" cy="596.55" r="0.75" fill="#fff" opacity=".85"/>
<circle cx="410.21" cy="596.66" r="0.66" fill="#fff" opacity=".85"/>
<circle cx="408.86" cy="595.78" r="0.43" fill="#fff" opacity=".85"/>
<circle cx="408.9" cy="596" r="1.3" fill="#fff"/>
<circle cx="408.5" cy="596.5" r="0.45" fill="#222"/>
<text x="359.8" y="640.6" font-size="3.6" text-anchor="end" fill="#444" class="t">10<tspan dy="-1.3" font-size="2.6">0</tspan></text>
<text x="362" y="645.5" font-size="3.6" text-anchor="middle" fill="#444" class="t">10<tspan dy="-1.3" font-size="2.6">0</tspan></text>
<text x="359.8" y="620.5" font-size="3.6" text-anchor="end" fill="#444" class="t">10<tspan dy="-1.3" font-size="2.6">1</tspan></text>
<text x="382.12" y="645.5" font-size="3.6" text-anchor="middle" fill="#444" class="t">10<tspan dy="-1.3" font-size="2.6">1</tspan></text>
<text x="359.8" y="600.4" font-size="3.6" text-anchor="end" fill="#444" class="t">10<tspan dy="-1.3" font-size="2.6">2</tspan></text>
<text x="402.25" y="645.5" font-size="3.6" text-anchor="middle" fill="#444" class="t">10<tspan dy="-1.3" font-size="2.6">2</tspan></text>
<text x="359.8" y="580.3" font-size="3.6" text-anchor="end" fill="#444" class="t">10<tspan dy="-1.3" font-size="2.6">3</tspan></text>
<text x="422.38" y="645.5" font-size="3.6" text-anchor="middle" fill="#444" class="t">10<tspan dy="-1.3" font-size="2.6">3</tspan></text>
<text x="359.8" y="560.2" font-size="3.6" text-anchor="end" fill="#444" class="t">10<tspan dy="-1.3" font-size="2.6">4</tspan></text>
<text x="442.5" y="645.5" font-size="3.6" text-anchor="middle" fill="#444" class="t">10<tspan dy="-1.3" font-size="2.6">4</tspan></text>
<line x1="360.8" y1="558.8" x2="360.8" y2="639.2" stroke="#000" stroke-width="1.1" stroke-dasharray="0.6 1.7" opacity=".6"/>
<line x1="362" y1="640.4" x2="442.5" y2="640.4" stroke="#000" stroke-width="1.1" stroke-dasharray="0.6 1.7" opacity=".6"/>
<line x1="362" y1="558.3" x2="362" y2="640" stroke="#000" stroke-width="1.7"/>
<line x1="362" y1="639.2" x2="442.9" y2="639.2" stroke="#000" stroke-width="1.6"/>
<line x1="362" y1="558.8" x2="442.5" y2="558.8" stroke="#000" stroke-width="1"/>
<line x1="442.5" y1="558.8" x2="442.5" y2="639.2" stroke="#000" stroke-width="0.9"/>
<path d="M442.5 559.2H382.5V587H442.5" fill="none" stroke="#000" stroke-width="1.5"/>
<line x1="442.5" y1="558.8" x2="442.5" y2="587" stroke="#000" stroke-width="1.5"/>
<text x="441" y="573.1" text-anchor="end" font-size="15.5">5.1</text>
<path d="M419.02 730.87h.6M421.62 719.56h.6M394.29 737.62h.6M397.17 730.59h.6M386.18 703.35h.6M410.79 739.15h.6M419.18 708.09h.6M414.86 734.76h.6M426.13 714.51h.6M385.3 701.55h.6M393.89 694.93h.6M383.99 702.41h.6M390.41 697.01h.6M411.95 698.95h.6M420.21 726.26h.6M415.06 735.2h.6M403.91 694.21h.6M417.22 734.27h.6M412.12 738.88h.6M403.24 694.17h.6M395.55 734.55h.6M419.84 720.96h.6M414.22 737.66h.6M418.33 726.77h.6M415.96 734.64h.6M393.27 691.85h.6M412.62 696.02h.6M407.48 696.58h.6M392.86 726.33h.6M396.69 694.71h.6M394.33 695.09h.6M421.73 727.1h.6M385.57 713.66h.6M394.04 695.64h.6M384.61 706.71h.6M387.75 724.63h.6M384.07 705.7h.6M416.84 697.81h.6M403.69 734.88h.6M385.16 696.2h.6M410.5 693.58h.6M421.8 717.29h.6M414.16 736.94h.6M397.17 694.96h.6M418.34 708.03h.6M393.69 728.85h.6M419.74 710.26h.6M385.31 717.8h.6M409.19 693.46h.6M419.38 716.85h.6M385.33 712.27h.6M414.27 742.62h.6M386.29 707.1h.6M395.87 728.66h.6M410.12 738.02h.6M384.47 702.54h.6M392.39 729.5h.6M423.55 725.72h.6M395.15 694.28h.6M415.74 701.27h.6M419.56 702.63h.6M394.76 692.4h.6M391.55 693.79h.6M386.69 711.43h.6M388.06 722.47h.6M395.52 690.72h.6M412.88 736.04h.6M392.4 697.21h.6M408.91 739.2h.6M386.22 703.97h.6M398.49 694.22h.6M401.96 733.38h.6M420.43 713.96h.6M408.85 692.55h.6M420.33 713.73h.6M385.12 718.64h.6M412.09 698.1h.6M386.39 710.26h.6M382.17 701.75h.6M394.06 693.97h.6M420.44 706.24h.6M386.75 701.5h.6M417.98 704.53h.6M389.1 722.92h.6M408.89 739.54h.6M415.37 736.61h.6M413.71 735.5h.6M416.84 699.84h.6M406.99 737.59h.6M423.41 707.22h.6M417.25 730.94h.6M396.18 737.6h.6M416.33 698.21h.6M407.58 696.68h.6M386.92 694.53h.6M388.03 696.18h.6M398.05 691.99h.6M394.73 695.16h.6M393.76 730.67h.6M396.91 695.68h.6M421.92 724.06h.6M411.78 743.65h.6M399.46 736.41h.6M421.56 715.24h.6M413.68 699.34h.6M385.71 716.66h.6M409.11 697.06h.6M406.56 687.53h.6M419.7 709.97h.6M419.02 703.09h.6M391.01 727.1h.6M394.17 727.65h.6M396.1 695.06h.6M387.25 716.94h.6M384.41 720.41h.6M391.15 696.43h.6M390.34 694.82h.6M403.56 735.96h.6M412.41 696.94h.6M414.34 699.51h.6M395.82 691.25h.6M382.89 703.57h.6M426.04 707.04h.6M389.44 726.79h.6M423.37 723.74h.6M385.6 713.35h.6M398.73 737.89h.6M419.37 727.95h.6M418.22 732.92h.6M413.72 699.14h.6M398.4 692.36h.6M389.77 697.72h.6M396.18 741.6h.6M380.36 703.74h.6M415.35 699.5h.6M402.49 735.58h.6M384.41 703.84h.6M386.6 717.47h.6M394.54 694.99h.6M407.48 696.08h.6M391.1 724.12h.6M399.43 736.94h.6M406.33 690.16h.6M387.89 721.99h.6M421.58 722.53h.6M386.41 704.32h.6M418.22 703.78h.6M386.33 696.56h.6M385.96 719.93h.6M398.37 733.66h.6M420.76 706.25h.6M389.43 721.69h.6M419.14 712.51h.6M388.22 693.59h.6M410.69 696.76h.6M394.42 692.13h.6M417.82 700.03h.6M419.17 720.28h.6M418.92 707.33h.6M386.82 714.32h.6M420 730.85h.6M384.97 690.37h.6M387.56 697.31h.6M415.68 703.21h.6M406.37 739.86h.6M423.3 711.99h.6M414.16 698.9h.6M387.89 700.99h.6M404.61 684.65h.6M386.1 705.27h.6M420.89 716.99h.6M392.43 690.54h.6M426.65 715.76h.6M388.17 722.58h.6M413.58 734.92h.6M418.65 727.66h.6M389.87 724h.6M390.04 693.86h.6M397.01 691.14h.6M390.1 695.31h.6M389.99 724.72h.6M386.76 713.71h.6M405.67 695.35h.6M408.52 741.23h.6M402.91 694.65h.6M410.67 695.07h.6M420.22 717.94h.6M386.91 728.85h.6M411.99 698.07h.6M393.64 729.83h.6M413.64 737.05h.6M388.47 694.36h.6M415.77 734.18h.6M419.33 706.62h.6M400.86 733.87h.6M407.22 737.76h.6M393.14 695.84h.6M398.85 691.57h.6M394.3 695.31h.6M393.32 695.73h.6M411.3 690.04h.6M386.33 717.02h.6M408.1 696.33h.6M410.01 739.18h.6M389.35 698.25h.6M409.26 693.29h.6M388.45 726.75h.6M399.82 694.63h.6M394.93 694.78h.6M408.82 738.16h.6M419.61 708.51h.6M396.15 695.07h.6M389.96 699.67h.6M413.12 737.51h.6M395.04 728.51h.6M419.35 692.28h.6M395.56 693.9h.6M379.76 710.33h.6M420.25 706.45h.6M416.25 702.07h.6M411.23 692.17h.6M419.23 707.34h.6M387.5 722.14h.6M415.03 736.19h.6M387.12 693.05h.6M406.93 738.6h.6M392.32 693.16h.6M389.41 724.84h.6M412.8 737.23h.6M422.08 709.78h.6M412.09 695.24h.6M388.6 699.45h.6M411.73 694.75h.6M382.74 694.17h.6M386.01 699.56h.6M392.17 726.61h.6M392.03 724.67h.6M395.29 694.81h.6M416.73 702.77h.6M420.24 741.39h.6M419.56 728h.6M390.45 695.28h.6M387.72 718.22h.6M412.24 695.7h.6M408.84 739.03h.6M401.34 734.03h.6M400.06 695.34h.6M393.12 695.7h.6M418.61 733.01h.6M382.22 715.17h.6M384.35 710.13h.6M396.23 730.28h.6M425.2 726.93h.6M391.76 695.28h.6M415.21 700.37h.6M419.86 723.1h.6M402.91 733.82h.6M404.65 694.94h.6M414.98 702.32h.6M390.56 698.42h.6M416.41 705.89h.6M403.25 695.83h.6M385.9 710.88h.6M387.87 719.04h.6M414.9 737.13h.6M419.59 715.76h.6M384.84 714.5h.6M390.47 697.12h.6M383.68 695.63h.6M405.73 738.17h.6M395.09 729.42h.6M420.88 717.8h.6M417.96 705.65h.6M417.18 739.92h.6M387.92 698.92h.6M404.43 696.74h.6M401.38 733.26h.6M415.4 698.83h.6M383.77 714.44h.6M422.15 705.71h.6M420.68 708.14h.6M386.61 719.59h.6M411.13 736.49h.6M415.92 699.86h.6M414.85 736.23h.6M401.64 692.76h.6M394.56 696.41h.6M414.76 700.93h.6M406.34 696.16h.6M410.25 690.01h.6M412.68 740.42h.6M385.43 702.72h.6M417.93 704.09h.6M387.38 701.94h.6M388.37 720.19h.6M420.35 721.62h.6M387.59 698.67h.6M388.39 719.97h.6M390.02 722.87h.6M410.67 738.63h.6M419.68 730.33h.6M410.91 740.6h.6M387.53 722.7h.6M419.74 716.07h.6M399.66 693.56h.6M416.31 735.61h.6M393.99 695.43h.6M390.4 726.1h.6M412.42 693.97h.6M385.44 705.86h.6M386.58 716.82h.6M416.84 699.78h.6M420.35 715.92h.6M406.49 738.99h.6M417.75 729.88h.6M411.34 697.27h.6M388.22 695.07h.6M395.61 693.56h.6M419.09 709.66h.6M383.12 707.68h.6M388.95 699.42h.6M388.91 724.12h.6M384.86 700.93h.6M409.42 738.97h.6M405.52 695.27h.6M387.98 699.63h.6M407.34 738.53h.6M408.91 738.53h.6M385.72 693.47h.6M388.83 687.8h.6M390.41 694.31h.6M414.53 735.39h.6M410.77 740.07h.6M386.56 716.71h.6M410.89 741.83h.6M422.06 708.58h.6M377.31 706.54h.6M408.94 697.31h.6M403.51 695.61h.6M410.6 737.8h.6M386.84 720.21h.6M386.75 701.8h.6M413.49 698.7h.6M408.93 694.76h.6M391.79 693.82h.6M388.32 698.76h.6M422.92 719.02h.6M381.92 696.34h.6M420.19 725.33h.6M384.96 713.76h.6M422.1 723.43h.6M387.47 722.88h.6M420.17 723.49h.6M385.82 703.32h.6M418.68 724.35h.6M412.72 698.86h.6M392.85 695.27h.6M383.63 712.44h.6M420.54 728.07h.6M387.65 695.55h.6M409.27 738.13h.6M412.54 695.13h.6M420.72 712.98h.6M387.57 715.6h.6M400.23 735.83h.6M406.8 737.13h.6M410.51 737.63h.6M410.16 695.92h.6M385.83 711.53h.6M404.14 734.96h.6M410.84 693.69h.6M401.44 735.49h.6M383.39 708.16h.6M418.83 705.59h.6M385.81 707.94h.6M384.82 706.18h.6M384.03 702.02h.6M417 734.84h.6M388.04 699.68h.6M386.37 698.83h.6M419.76 706.56h.6M386.68 714.14h.6M400.83 694.97h.6M422.14 706.97h.6M411.93 737.87h.6M400.63 691.79h.6M418.39 730.94h.6M414.98 736.68h.6M386.16 709.7h.6M416.18 699.58h.6M395.61 693.99h.6M388.84 697.32h.6M410.08 738.48h.6M418.24 703.85h.6M409.92 737.74h.6M408.55 694.98h.6M386.22 715.48h.6M391.02 692.04h.6M394.39 696.27h.6M386.98 715.35h.6M392.53 693.56h.6M387.58 719.58h.6M384.2 707.53h.6M387.14 706.56h.6M410.9 739.19h.6M415.74 732.39h.6M414.69 700.53h.6M422.96 716.49h.6M420.49 703.62h.6M418.89 703.5h.6M424.61 726.7h.6M401.67 734.02h.6M419.85 719.14h.6M406.04 736.51h.6M415.33 734.06h.6M409.75 738.09h.6M416.95 697.75h.6M382.65 723.45h.6M418.05 735.48h.6M387.88 697.24h.6M397.18 691.97h.6M418.74 703.91h.6M388.23 698.64h.6M386.72 714.08h.6M408.94 696.09h.6M383.9 725.26h.6M403.76 738.81h.6M407.07 691.62h.6M378.22 700.36h.6M416.81 698.67h.6M385.87 717.04h.6M399.1 686.6h.6M385.58 707.98h.6M397.62 696h.6M406.81 695.6h.6M385.5 728.44h.6M398.91 733.99h.6M387.29 717.26h.6M383.23 702.17h.6M416.56 733.86h.6M411.2 743.06h.6M397.38 691.77h.6M408.47 740.85h.6M397.49 733.25h.6M385.82 707.61h.6M381.14 712.79h.6M420.89 718h.6M393.3 694.25h.6M388.19 719.28h.6M403.05 691.21h.6M418.95 741.78h.6M396.77 694.6h.6M390.13 725.14h.6M419.64 728.25h.6M385.71 715.47h.6M419.12 711.65h.6M396.64 692.93h.6M406.16 737.83h.6M384.77 715.93h.6M416.49 732.91h.6M407.46 737.63h.6M392.1 696.45h.6M418.44 706.67h.6M386.9 699.23h.6M403.99 696.28h.6M408.58 740.84h.6M411.79 738.54h.6M425.17 704.81h.6M419.34 710.25h.6M385.7 703.75h.6M400.4 736.07h.6M390.53 697.53h.6M390.35 723.25h.6M421.21 717.69h.6M422.89 717.91h.6M405.85 703.9h.6M413.23 708.52h.6M404.47 730.4h.6M380.73 727.73h.6M406.84 731.9h.6M403 695.62h.6M402.68 710.95h.6M409.92 703.36h.6M422.23 729.53h.6M407.1 719.14h.6M385.26 717.22h.6M405.53 696.32h.6M397.07 709.31h.6M410.25 735.95h.6M392.96 721.72h.6M401.74 723.41h.6M406.57 709.52h.6M391.12 716.5h.6M400.15 704.61h.6M402.19 740.1h.6M420.5 714.67h.6M426.46 702.8h.6M409.35 720.1h.6M401.14 717.94h.6M397.58 702.49h.6M394.98 698.58h.6M396.35 704.91h.6M411.37 697.91h.6M407.09 715.49h.6M401.19 709.93h.6M417.08 700.36h.6M405.86 712.54h.6M405.77 721.73h.6M421.81 719.58h.6M416.55 704.01h.6M395.95 701.88h.6M383.96 715.73h.6M405.15 704.75h.6M399.8 729.59h.6M397.41 713.99h.6M409.62 736.64h.6M412.66 715.01h.6M407.99 716.93h.6M401.61 701.47h.6M412.16 699.21h.6M399.01 701.64h.6M415.11 708.53h.6M403.66 704.16h.6M402.02 724.04h.6M419.76 734.61h.6M410.53 704.65h.6M423.98 693.93h.6M417.98 720.44h.6M394.29 719.68h.6M407.12 722.4h.6M408.02 696.39h.6M411.9 722.47h.6M398.04 714.69h.6M417.16 721.21h.6M390.46 703.76h.6M409.44 729.27h.6M398.41 715.89h.6M397.19 718.25h.6M403.1 723.51h.6M405.62 714.28h.6M402.9 720.39h.6M418.91 696.88h.6M397.69 723.95h.6M395.82 717.57h.6M405.81 722.83h.6M410.27 712.48h.6M419.78 706.67h.6M416.12 710.48h.6M399.06 724.5h.6M401.35 714.63h.6M409.45 706.59h.6M412.88 693.32h.6M399.75 710.2h.6M411.16 714.5h.6M393.95 708.81h.6M418.03 721.14h.6M407.95 716.44h.6M406.63 706.22h.6M403.87 716.36h.6M392.69 721.8h.6M400.25 731.11h.6M401.75 724.41h.6M391.72 716.59h.6M404.18 711.66h.6M390.9 722.92h.6M402.47 726.36h.6M417.06 709.4h.6M388.75 709.98h.6M406.37 702.09h.6M404.18 710.08h.6M397.32 712.72h.6M399.53 713.55h.6M411.8 726.74h.6M402.68 730.11h.6M404.67 717.04h.6M410.76 698.37h.6M409.44 702.46h.6M416.54 723.24h.6M394.42 722.68h.6M408.23 706.49h.6M410.96 725.9h.6M405.05 730.6h.6M396.35 700.43h.6M401.38 715.56h.6M398.43 706.72h.6M400.23 741.34h.6M415.33 702.91h.6M411.79 722.85h.6M409.46 710.33h.6M399.63 702.42h.6M416.84 730.92h.6M395.82 711.79h.6M396.55 705.02h.6M399.31 735.15h.6M385.61 726.75h.6M417.11 704.63h.6M392.1 725.66h.6M418.52 730.24h.6M404.53 722.18h.6M401.02 707.13h.6M397.37 710.21h.6M400.09 715.41h.6M396.09 725.92h.6M390.87 720.92h.6M401.82 728.32h.6M397.16 733.25h.6M394.37 732.37h.6M393.98 719.06h.6M407.88 714.24h.6M407.25 715.33h.6M406.21 720.14h.6M393.1 711.29h.6M413.91 707.33h.6M406.42 722.6h.6M412.47 718.89h.6M398.94 706.76h.6M395.88 724.33h.6M412.45 723.81h.6M395.73 725.12h.6M389.54 724.46h.6M400.83 715.83h.6M392.17 722.07h.6M404.31 730.73h.6M392.66 736.88h.6M383.22 709.31h.6M405.19 724.49h.6M397.97 715.71h.6M397.38 720.12h.6M409 707.6h.6M418.2 701.39h.6M399.08 720.52h.6M391.65 697.34h.6M415.1 731.48h.6M395.31 711.87h.6M402.84 723.09h.6M408.63 711.13h.6M404.33 714h.6M402.19 714.58h.6M401.89 703.81h.6M403.46 722.86h.6M409.89 743.18h.6M402.1 714.53h.6M405.16 722.44h.6M402.15 709.2h.6M428.81 724.39h.6M392.87 704.29h.6M408.59 717.29h.6M398.66 705.24h.6M428.78 709.52h.6M413.38 720.6h.6M414.76 722.18h.6M413.03 716.18h.6M397.45 726.08h.6M401.95 695.22h.6M408.44 719.87h.6M398.43 718.36h.6M408.04 705.64h.6M398.95 723.21h.6M386.96 737.53h.6M406.9 703.49h.6M414.72 721h.6M400.78 734.82h.6M404.9 714.98h.6M420.49 722.84h.6M399.82 712.2h.6M404.89 731.04h.6M401.75 706.94h.6M405.13 722.24h.6M404.18 710.47h.6M389.02 719.18h.6M408.98 699.13h.6M411.97 718.97h.6M391.72 720.27h.6M411.71 726.02h.6M427.77 719.39h.6M394.78 716.57h.6M403.22 727.67h.6M407.37 705.01h.6M392.21 725.92h.6M404.72 715.04h.6M415.78 710.46h.6M415.76 701.9h.6M406.72 710.49h.6M408.34 726.95h.6M404.27 716.46h.6M392.2 704.95h.6M399.92 742.08h.6M412.56 738.7h.6M407.05 706.45h.6M395.47 709h.6M389.7 724.27h.6M407.26 697.15h.6M389.02 729.82h.6M409.79 722.14h.6M400.15 704.96h.6M413.01 729.55h.6M413.62 703.79h.6M403.67 735.17h.6M406.03 694.91h.6M395.24 710.35h.6M391.01 714.36h.6M400.09 720.21h.6M400.1 715.08h.6M403.43 734.88h.6M419.23 723.93h.6M404.44 692.93h.6M404.74 701.53h.6M404.52 721.51h.6M419.81 703.89h.6M400.93 743.18h.6M402.39 697.25h.6M408.53 706.51h.6M397.4 718.31h.6M406.27 729.02h.6M391.55 692.85h.6M400.94 687.9h.6M412.06 687.1h.6M419.97 683.96h.6M394.45 677.68h.6M417 687.05h.6M397.53 683.34h.6M415.14 687.22h.6M411.63 688.23h.6M414.33 686.88h.6M423.1 688.66h.6M402.8 683.7h.6M423.63 686.34h.6M409.43 677h.6M387.18 686.86h.6M401.38 675.27h.6M401.83 687.75h.6M391.3 686.79h.6M411.35 681.8h.6M402.84 686.78h.6M412.18 697.26h.6M414.84 685.71h.6M411.52 682.96h.6M410.4 679.82h.6M395.6 688.5h.6M407.97 686.83h.6M414.38 688.86h.6M402.37 685.39h.6M400.34 686.19h.6M396.59 682.57h.6M398.44 683.63h.6M413.3 681.42h.6M402.08 675.05h.6M399.99 686.2h.6M392.27 682.15h.6M402.69 678.45h.6M396.9 684.92h.6M404.13 687.82h.6M394.76 692.87h.6M410.99 687.8h.6M399.51 684.06h.6M421.67 695.41h.6M403.08 682.57h.6M411.67 684.92h.6M407.84 696.16h.6M397.67 688.08h.6M380.06 683.53h.6M402.67 692.93h.6M400.67 685.24h.6M408.32 688.33h.6M403.08 676.96h.6M412.24 689.89h.6M404.25 682.34h.6M391.46 685.11h.6M397.63 683.35h.6M398.51 678.92h.6M408.26 684.71h.6M403.5 688.37h.6M398.04 680.59h.6M390.09 683.32h.6M408.98 692.13h.6M412.56 690.91h.6M405.78 682.93h.6M398.55 683.92h.6M401.11 679.84h.6M405.49 690.12h.6M398.23 675.79h.6M399.38 693.55h.6M393.48 690.8h.6M396.7 685.18h.6M403.23 686.2h.6M408.57 683.85h.6M394.45 675.66h.6M391.26 691.59h.6M403.84 693.58h.6M394.11 681.48h.6M403.99 683.25h.6M392.01 691.02h.6M400.86 683.07h.6M401 686.46h.6M400.2 685.55h.6M412.76 681.5h.6M404.61 683.6h.6M398.3 687.15h.6M393.59 689.92h.6M413.47 672.46h.6M393.98 693.65h.6M411.77 674.86h.6M402.62 695h.6M412.9 688.33h.6M408.06 683.3h.6M395.76 691.49h.6M395.39 692.15h.6M405.36 687.03h.6M407.67 686.89h.6M396.46 684.45h.6M391.91 694.86h.6M399.27 673.28h.6M408.79 683.23h.6M407.83 691.79h.6M404.07 682.25h.6M400.04 687.1h.6M405.74 681.35h.6M389.89 688.35h.6M411.13 687.34h.6M393.52 695.36h.6M413.86 688.99h.6M396.54 684.22h.6M413.58 674.74h.6M389.87 697.83h.6M390.64 681.85h.6M397.46 687.54h.6M414.61 687.45h.6M393.44 687.18h.6M386.56 687.95h.6M408.96 695.3h.6M394.38 685.46h.6M390.91 691.57h.6M394.2 684.01h.6M402.88 691.63h.6M395.24 682.65h.6M394.27 689.45h.6M389.25 686.36h.6M400.75 690.57h.6M402.34 687.63h.6M404.18 680.37h.6M416.8 692.78h.6M402.49 688.45h.6M389.92 676.45h.6M398.52 686.16h.6M401.92 680.41h.6M403.8 675.63h.6M410.47 685.57h.6M408.23 676.25h.6M401.56 696.33h.6M397.54 691.7h.6M396.17 685.3h.6M396.44 685.15h.6M394.39 703.17h.6M392.06 691.24h.6M398.7 691.46h.6M399.35 684.61h.6M397.25 680.15h.6M401.87 683.18h.6M402.24 688.82h.6M396.49 696.01h.6M404.44 681.6h.6M400 689.42h.6M403.93 684.58h.6M392.3 673.24h.6M395.49 694.06h.6M398.35 689.62h.6M399.98 688.54h.6M401.22 685.84h.6M411.94 677.72h.6M408.51 682.59h.6M400.05 685.16h.6M420.67 700.05h.6M401.91 694.49h.6M406.48 681.95h.6M408.41 677.65h.6M405.92 682.64h.6M381.93 681.85h.6M408.5 682.84h.6M404.35 685.71h.6M403.42 691.09h.6M400.14 673.62h.6M399 692.7h.6M384.61 687.8h.6M403.24 693.23h.6M393.28 677.52h.6M405.37 675.92h.6M410.3 690.31h.6M403.74 691.61h.6M415.88 691.28h.6M398.79 692.57h.6M397.42 676.79h.6M398.56 684.25h.6M397.74 696.56h.6M386.43 676.34h.6M391.73 688.76h.6M416.51 690.07h.6M413.89 680.78h.6M407.16 686.82h.6M379.12 682.72h.6M404.91 690.06h.6M403.97 678.95h.6M409.34 684.87h.6M397.84 674.88h.6M387.89 689.41h.6M401.87 688.14h.6M389.1 688.3h.6M408.99 674.65h.6M408.9 676.61h.6M410.07 682.22h.6M405.36 676.86h.6M408.72 689.02h.6M411.73 693.97h.6M408.28 685.01h.6M401.57 685.02h.6M394.87 685.28h.6M396.95 681.01h.6M406.01 689.4h.6M407.54 682.04h.6M407.87 683.05h.6M405.21 684.62h.6M388.38 693.85h.6M404.98 695.86h.6M414.06 685.86h.6M401.85 683.77h.6M415.65 677.12h.6M397.43 680.17h.6M399.97 679.94h.6M401.23 686.42h.6M393.58 690.48h.6M400.03 684.75h.6M395.22 691.09h.6M416.92 685.21h.6M403.96 675.93h.6M418.77 684.92h.6M406.94 685.2h.6M385.25 680.17h.6M395.22 683.16h.6M421.14 689.14h.6M401.45 679.86h.6M409.01 681.51h.6M389.5 686.63h.6M406.1 685.59h.6M394.83 685.88h.6M405.41 673.92h.6M415.06 687.31h.6M407.26 682.28h.6M391.02 686.72h.6M414.32 684.48h.6M389.81 687.74h.6M407.62 686.37h.6M401.69 690.51h.6M401.41 694.87h.6M398.67 674.52h.6M403.9 688.34h.6M419.82 677.72h.6M400.79 688.11h.6M392.06 683.49h.6M392.08 697.57h.6M392.87 679.61h.6M401.12 679.89h.6M404.87 686.96h.6M411.11 687.9h.6M403.3 685.33h.6M392.07 683.22h.6M391.64 685.66h.6M410.25 689.72h.6M415.46 685.78h.6M399.95 692.02h.6M390.11 688.97h.6M397.55 683.74h.6M408.55 691.69h.6M391.69 682.47h.6M407.38 675.54h.6M396.54 686.12h.6M395.25 697.64h.6M418.67 690.05h.6M393.3 685.47h.6M393.84 685.13h.6M396.31 682.12h.6M402.49 689.08h.6M395.19 693.85h.6M398.62 685.91h.6M396.54 676.48h.6M409.08 690.19h.6M401.89 684.64h.6M405.31 681.81h.6M389.54 694.72h.6M407.55 689.22h.6M407.76 684.47h.6M389.25 684.19h.6M404.96 681.6h.6M410.96 689.03h.6M407.64 688.22h.6M397.61 685.03h.6M405.75 673.71h.6M408.41 693.92h.6M405.12 680.94h.6M401.54 693.1h.6M408.15 685.89h.6M420.56 691.14h.6M399 693.88h.6M400.02 688h.6M395.5 680.91h.6M410.44 686.08h.6M403.28 679.37h.6M398.32 683.76h.6M407.94 677.48h.6M399.53 690.09h.6M405.86 682.08h.6M407.11 685.41h.6M400 693.08h.6M388.91 680.74h.6M412.34 691.17h.6M406.29 681.74h.6M404.42 688.69h.6M407.91 693.81h.6M388.29 685.82h.6M413.73 686h.6M410.89 689.07h.6M416.15 690.67h.6M411.91 677.44h.6M390.8 687.14h.6M398.57 689.56h.6M403.41 681.38h.6M403.84 682.01h.6M396.27 687.27h.6M406.55 692.2h.6M406.25 686.89h.6M404.28 683.38h.6M407.15 674.02h.6M408.78 697.38h.6M412.98 679.8h.6M409.32 687.35h.6M416.27 684.85h.6M394.19 677.96h.6M410 694.52h.6M393.9 685.85h.6M427.19 684.05h.6M404.47 691.78h.6M391.77 685.53h.6M393.11 683.79h.6M406.45 678.3h.6M405.3 691.82h.6M403.53 685.48h.6" stroke="#000" stroke-width=".65" opacity=".7" fill="none"/>
<path d="M389.5 699.5C387.77 698.2 390.18 696.05 391.1 694.7C392.02 693.35 393.68 692.1 395 691.4C396.32 690.7 397.58 690.38 399 690.5C400.42 690.62 402.08 691.37 403.5 692.1C404.92 692.83 406.25 693.83 407.5 694.9C408.75 695.97 412 697.23 411 698.5C410 699.77 405.08 702.33 401.5 702.5C397.92 702.67 391.23 700.8 389.5 699.5Z" fill="#fff" stroke="#000" stroke-width=".9"/>
<path d="M387.3 701C386.32 703.43 385.52 707.95 385.8 711.5C386.08 715.05 386.9 718.93 389 722.3C391.1 725.67 395.03 729 398.4 731.7C401.77 734.4 406.28 738.05 409.2 738.5C412.12 738.95 414.1 737.1 415.9 734.4C417.7 731.7 419.43 726.33 420 722.3C420.57 718.27 420.15 713.83 419.3 710.2C418.45 706.57 416.82 702.85 414.9 700.5C412.98 698.15 410.55 697 407.8 696.1C405.05 695.2 401.08 694.97 398.4 695.1C395.72 695.23 393.55 695.92 391.7 696.9C389.85 697.88 388.28 698.57 387.3 701Z" fill="#fff" stroke="#000" stroke-width="0.95"/>
<path d="M390.11 703.15C389.22 705.24 388.38 709.05 388.54 712.13C388.7 715.21 389.26 718.65 391.06 721.65C392.86 724.66 396.33 727.83 399.31 730.17C402.3 732.52 406.38 735.38 408.99 735.74C411.59 736.11 413.24 734.67 414.95 732.37C416.65 730.06 418.59 725.56 419.2 721.93C419.81 718.3 419.44 713.88 418.6 710.57C417.76 707.27 415.97 704.11 414.16 702.1C412.36 700.08 410.19 699.19 407.76 698.49C405.34 697.79 401.9 697.71 399.59 697.89C397.27 698.08 395.46 698.73 393.88 699.6C392.3 700.48 391 701.07 390.11 703.15Z" fill="#fff" stroke="#000" stroke-width="0.6"/>
<path d="M392.56 705.03C391.76 706.82 390.92 710.02 390.99 712.7C391.05 715.37 391.42 718.39 392.96 721.06C394.49 723.73 397.54 726.69 400.18 728.73C402.82 730.77 406.48 732.98 408.8 733.28C411.11 733.57 412.49 732.46 414.07 730.5C415.66 728.55 417.7 724.77 418.32 721.52C418.94 718.27 418.62 713.98 417.81 711C417 708.01 415.14 705.33 413.46 703.61C411.78 701.89 409.87 701.2 407.73 700.66C405.6 700.12 402.63 700.15 400.64 700.37C398.65 700.59 397.13 701.19 395.79 701.97C394.44 702.75 393.36 703.25 392.56 705.03Z" fill="#fff" stroke="#000" stroke-width="0.6"/>
<path d="M394.58 706.58C393.86 708.13 393.04 710.84 393.04 713.17C393.04 715.5 393.28 718.17 394.59 720.55C395.91 722.93 398.6 725.68 400.94 727.45C403.28 729.23 406.57 730.96 408.64 731.2C410.7 731.44 411.85 730.58 413.32 728.9C414.79 727.22 416.84 724.04 417.46 721.12C418.07 718.21 417.79 714.11 417.02 711.42C416.25 708.72 414.4 706.43 412.84 704.95C411.29 703.46 409.59 702.93 407.71 702.51C405.82 702.09 403.24 702.2 401.52 702.43C399.79 702.67 398.52 703.23 397.36 703.92C396.2 704.61 395.3 705.04 394.58 706.58Z" fill="#f6f6f6" stroke="#000" stroke-width="0.6"/>
<path d="M396.31 707.91C395.66 709.24 394.88 711.55 394.84 713.58C394.79 715.61 394.92 717.97 396.06 720.09C397.19 722.21 399.57 724.74 401.64 726.29C403.71 727.84 406.66 729.19 408.5 729.39C410.33 729.59 411.3 728.92 412.65 727.48C414 726.03 416.01 723.33 416.61 720.73C417.2 718.12 416.95 714.26 416.23 711.84C415.51 709.41 413.7 707.45 412.28 706.17C410.85 704.89 409.35 704.48 407.68 704.15C406.02 703.83 403.78 703.98 402.28 704.22C400.78 704.46 399.7 704.98 398.71 705.59C397.71 706.21 396.95 706.58 396.31 707.91Z" fill="#dcdcdc" stroke="#000" stroke-width="0.6"/>
<path d="M397.77 709.03C397.19 710.19 396.45 712.16 396.38 713.94C396.31 715.71 396.36 717.8 397.34 719.68C398.32 721.57 400.42 723.89 402.26 725.25C404.1 726.61 406.74 727.66 408.38 727.82C410.01 727.99 410.83 727.47 412.07 726.23C413.3 724.98 415.23 722.68 415.8 720.35C416.37 718.02 416.15 714.42 415.47 712.24C414.8 710.06 413.07 708.38 411.77 707.27C410.47 706.16 409.13 705.84 407.66 705.59C406.19 705.34 404.23 705.52 402.93 705.76C401.63 705.99 400.71 706.47 399.85 707.01C398.99 707.56 398.35 707.88 397.77 709.03Z" fill="#a4a4a4" stroke="#000" stroke-width="0.6"/>
<path d="M398.99 709.97C398.47 710.98 397.77 712.68 397.68 714.24C397.6 715.8 397.6 717.65 398.45 719.34C399.31 721.02 401.17 723.15 402.81 724.34C404.44 725.53 406.81 726.37 408.27 726.5C409.73 726.64 410.43 726.24 411.56 725.15C412.69 724.07 414.52 722.1 415.06 720.01C415.59 717.92 415.4 714.58 414.77 712.62C414.15 710.65 412.52 709.19 411.33 708.22C410.14 707.26 408.95 707.01 407.64 706.81C406.33 706.62 404.62 706.81 403.48 707.04C402.34 707.27 401.55 707.71 400.8 708.19C400.06 708.68 399.51 708.96 398.99 709.97Z" fill="#5e5e5e" stroke="#000" stroke-width="0.6"/>
<path d="M399.98 710.73C399.51 711.62 398.86 713.1 398.76 714.49C398.66 715.87 398.63 717.53 399.38 719.05C400.13 720.56 401.8 722.51 403.27 723.57C404.74 724.63 406.88 725.3 408.19 725.41C409.5 725.53 410.11 725.21 411.14 724.26C412.18 723.31 413.9 721.59 414.4 719.7C414.9 717.82 414.73 714.73 414.16 712.95C413.58 711.17 412.04 709.89 410.95 709.03C409.87 708.18 408.8 707.99 407.63 707.83C406.46 707.67 404.94 707.88 403.93 708.1C402.92 708.32 402.24 708.72 401.58 709.15C400.92 709.59 400.45 709.84 399.98 710.73Z" fill="#2c2c2c" stroke="#000" stroke-width="0.6"/>
<path d="M400.94 711.47C400.52 712.24 399.93 713.52 399.82 714.73C399.72 715.94 399.66 717.41 400.31 718.75C400.96 720.1 402.44 721.86 403.73 722.79C405.03 723.72 406.94 724.24 408.11 724.33C409.27 724.43 409.78 724.19 410.72 723.36C411.66 722.54 413.25 721.06 413.72 719.39C414.18 717.71 414.03 714.88 413.5 713.29C412.98 711.71 411.55 710.6 410.57 709.86C409.59 709.12 408.65 708.97 407.61 708.85C406.58 708.73 405.25 708.93 404.37 709.14C403.49 709.35 402.91 709.7 402.33 710.09C401.76 710.48 401.36 710.69 400.94 711.47Z" fill="#121212" stroke="#000" stroke-width="0.6"/>
<path d="M401.88 712.19C401.52 712.85 400.98 713.93 400.87 714.97C400.76 716.02 400.69 717.29 401.25 718.46C401.8 719.63 403.08 721.2 404.21 722C405.34 722.8 407.01 723.19 408.02 723.26C409.04 723.34 409.47 723.16 410.3 722.46C411.13 721.76 412.58 720.52 413 719.05C413.42 717.59 413.29 715.05 412.82 713.66C412.35 712.27 411.06 711.32 410.19 710.69C409.32 710.06 408.49 709.95 407.6 709.86C406.7 709.77 405.56 709.97 404.8 710.16C404.05 710.35 403.56 710.67 403.07 711.01C402.59 711.35 402.25 711.53 401.88 712.19Z" fill="#000" stroke="#000" stroke-width="0.6"/>
<circle cx="406.25" cy="717.08" r="0.36" fill="#fff" opacity=".85"/>
<circle cx="406.46" cy="714.57" r="0.42" fill="#fff" opacity=".85"/>
<circle cx="407.3" cy="718.33" r="0.58" fill="#fff" opacity=".85"/>
<circle cx="405.74" cy="716.5" r="0.62" fill="#fff" opacity=".85"/>
<circle cx="405.86" cy="715.95" r="0.7" fill="#fff" opacity=".85"/>
<circle cx="407.72" cy="716.12" r="0.59" fill="#fff" opacity=".85"/>
<circle cx="409.18" cy="715.95" r="0.38" fill="#fff" opacity=".85"/>
<circle cx="408" cy="716.2" r="1.3" fill="#fff"/>
<circle cx="407.6" cy="716.7" r="0.45" fill="#222"/>
<text x="359.8" y="746.9" font-size="3.6" text-anchor="end" fill="#444" class="t">10<tspan dy="-1.3" font-size="2.6">0</tspan></text>
<text x="362" y="751.8" font-size="3.6" text-anchor="middle" fill="#444" class="t">10<tspan dy="-1.3" font-size="2.6">0</tspan></text>
<text x="359.8" y="726.82" font-size="3.6" text-anchor="end" fill="#444" class="t">10<tspan dy="-1.3" font-size="2.6">1</tspan></text>
<text x="382.12" y="751.8" font-size="3.6" text-anchor="middle" fill="#444" class="t">10<tspan dy="-1.3" font-size="2.6">1</tspan></text>
<text x="359.8" y="706.75" font-size="3.6" text-anchor="end" fill="#444" class="t">10<tspan dy="-1.3" font-size="2.6">2</tspan></text>
<text x="402.25" y="751.8" font-size="3.6" text-anchor="middle" fill="#444" class="t">10<tspan dy="-1.3" font-size="2.6">2</tspan></text>
<text x="359.8" y="686.68" font-size="3.6" text-anchor="end" fill="#444" class="t">10<tspan dy="-1.3" font-size="2.6">3</tspan></text>
<text x="422.38" y="751.8" font-size="3.6" text-anchor="middle" fill="#444" class="t">10<tspan dy="-1.3" font-size="2.6">3</tspan></text>
<text x="359.8" y="666.6" font-size="3.6" text-anchor="end" fill="#444" class="t">10<tspan dy="-1.3" font-size="2.6">4</tspan></text>
<text x="442.5" y="751.8" font-size="3.6" text-anchor="middle" fill="#444" class="t">10<tspan dy="-1.3" font-size="2.6">4</tspan></text>
<line x1="360.8" y1="665.2" x2="360.8" y2="745.5" stroke="#000" stroke-width="1.1" stroke-dasharray="0.6 1.7" opacity=".6"/>
<line x1="362" y1="746.7" x2="442.5" y2="746.7" stroke="#000" stroke-width="1.1" stroke-dasharray="0.6 1.7" opacity=".6"/>
<line x1="362" y1="664.7" x2="362" y2="746.3" stroke="#000" stroke-width="1.7"/>
<line x1="362" y1="745.5" x2="442.9" y2="745.5" stroke="#000" stroke-width="1.6"/>
<line x1="362" y1="665.2" x2="442.5" y2="665.2" stroke="#000" stroke-width="1"/>
<line x1="442.5" y1="665.2" x2="442.5" y2="745.5" stroke="#000" stroke-width="0.9"/>
<path d="M442.5 665.6H383.8V699.3H442.5" fill="none" stroke="#000" stroke-width="1.5"/>
<line x1="442.5" y1="665.2" x2="442.5" y2="699.3" stroke="#000" stroke-width="1.5"/>
<text x="441" y="679.5" text-anchor="end" font-size="15.5">4.1</text>
<text x="99.2" y="552.6" text-anchor="middle" font-size="15.3">Medium</text>
<text x="199.7" y="552.6" text-anchor="middle" font-size="15.3">CpG</text>
<text x="298.8" y="552.6" text-anchor="middle" font-size="15.3">poly I:C</text>
<text x="404" y="552.6" text-anchor="middle" font-size="15.3">CpG + poly I:C</text>
<text transform="translate(43.1 579.2) rotate(-90)" text-anchor="middle" font-size="14.8">CD80</text>
<text transform="translate(43.1 685.4) rotate(-90)" text-anchor="middle" font-size="14.8">CD86</text>
<line x1="40.1" y1="639.5" x2="40.1" y2="612" stroke="#000" stroke-width="2"/>
<path d="M40.1 604.8L44.3 614.6H35.9Z" fill="#000"/>
<path d="M40.4 718V760.4H84" fill="none" stroke="#000" stroke-width="2"/>
<path d="M40.4 710.4L44.6 720.2H36.2Z" fill="#000"/>
<path d="M93 760.4L83.2 756.2V764.6Z" fill="#000"/>
<text x="96.6" y="767" font-size="14.6">CD1a</text>
<text x="8.7" y="800.5" font-weight="bold" font-size="29.5">D</text>
<text x="140" y="801.2" text-anchor="middle" font-size="15">CD80</text>
<text x="374.3" y="801.2" text-anchor="middle" font-size="15">CD86</text>
<text transform="translate(16.3 896.6) rotate(-90)" text-anchor="middle" font-size="15.2">MFI</text>
<line x1="57.2" y1="825.1" x2="57.2" y2="966.8" stroke="#000" stroke-width="2.4"/>
<line x1="48.1" y1="826" x2="57.2" y2="826" stroke="#000" stroke-width="2.4"/>
<text x="46.8" y="831" text-anchor="end">800</text>
<line x1="48.1" y1="860.9" x2="57.2" y2="860.9" stroke="#000" stroke-width="2.4"/>
<text x="46.8" y="865.9" text-anchor="end">600</text>
<line x1="48.1" y1="895.7" x2="57.2" y2="895.7" stroke="#000" stroke-width="2.4"/>
<text x="46.8" y="900.7" text-anchor="end">400</text>
<line x1="48.1" y1="930.6" x2="57.2" y2="930.6" stroke="#000" stroke-width="2.4"/>
<text x="46.8" y="935.6" text-anchor="end">200</text>
<line x1="48.1" y1="965.6" x2="57.2" y2="965.6" stroke="#000" stroke-width="2.4"/>
<text x="46.8" y="970.6" text-anchor="end">0</text>
<line x1="56" y1="965.6" x2="257.5" y2="965.6" stroke="#000" stroke-width="2.4"/>
<line x1="71.6" y1="965.6" x2="71.6" y2="974.4" stroke="#000" stroke-width="2.4"/>
<line x1="100" y1="965.6" x2="100" y2="974.4" stroke="#000" stroke-width="2.4"/>
<line x1="128.4" y1="965.6" x2="128.4" y2="974.4" stroke="#000" stroke-width="2.4"/>
<line x1="156.8" y1="965.6" x2="156.8" y2="974.4" stroke="#000" stroke-width="2.4"/>
<line x1="185.2" y1="965.6" x2="185.2" y2="974.4" stroke="#000" stroke-width="2.4"/>
<line x1="213.7" y1="965.6" x2="213.7" y2="974.4" stroke="#000" stroke-width="2.4"/>
<line x1="242.2" y1="965.6" x2="242.2" y2="974.4" stroke="#000" stroke-width="2.4"/>
<line x1="71.6" y1="942" x2="71.6" y2="944.2" stroke="#000" stroke-width="2.3"/>
<line x1="65.6" y1="942" x2="77.6" y2="942" stroke="#000" stroke-width="2.5"/>
<rect x="60.8" y="943.2" width="21.6" height="22.4" fill="#000"/>
<line x1="100" y1="940" x2="100" y2="942.2" stroke="#000" stroke-width="2.3"/>
<line x1="94" y1="940" x2="106" y2="940" stroke="#000" stroke-width="2.5"/>
<rect x="89.2" y="941.2" width="21.6" height="24.4" fill="#000"/>
<line x1="128.4" y1="857.1" x2="128.4" y2="870.7" stroke="#000" stroke-width="2.3"/>
<line x1="122.4" y1="857.1" x2="134.4" y2="857.1" stroke="#000" stroke-width="2.5"/>
<rect x="117.6" y="869.7" width="21.6" height="95.9" fill="#000"/>
<line x1="156.8" y1="891.3" x2="156.8" y2="904.1" stroke="#000" stroke-width="2.3"/>
<line x1="150.8" y1="891.3" x2="162.8" y2="891.3" stroke="#000" stroke-width="2.5"/>
<rect x="147.6" y="904.2" width="18.4" height="61.4" fill="#dfdfdf" stroke="#000" stroke-width="2.2"/>
<line x1="185.2" y1="923.2" x2="185.2" y2="929.3" stroke="#000" stroke-width="2.3"/>
<line x1="179.2" y1="923.2" x2="191.2" y2="923.2" stroke="#000" stroke-width="2.5"/>
<rect x="176" y="929.4" width="18.4" height="36.2" fill="#dfdfdf" stroke="#000" stroke-width="2.2"/>
<line x1="213.7" y1="939.4" x2="213.7" y2="942" stroke="#000" stroke-width="2.3"/>
<line x1="207.7" y1="939.4" x2="219.7" y2="939.4" stroke="#000" stroke-width="2.5"/>
<rect x="204.5" y="942.1" width="18.4" height="23.5" fill="#dfdfdf" stroke="#000" stroke-width="2.2"/>
<line x1="242.2" y1="932.3" x2="242.2" y2="937.8" stroke="#000" stroke-width="2.3"/>
<line x1="236.2" y1="932.3" x2="248.2" y2="932.3" stroke="#000" stroke-width="2.5"/>
<rect x="233" y="937.9" width="18.4" height="27.7" fill="#dfdfdf" stroke="#000" stroke-width="2.2"/>
<text transform="translate(75.9 987.7) rotate(-45)" text-anchor="end" font-size="15">Medium</text>
<text transform="translate(104.3 989.2) rotate(-45)" text-anchor="end" font-size="15">CpG</text>
<text transform="translate(132.7 989.3) rotate(-45)" text-anchor="end" font-size="15">poly I:C</text>
<text transform="translate(161.1 990.1) rotate(-45)" text-anchor="end" font-size="15">poly I:C + CpG  0,7</text>
<text transform="translate(189.5 991.1) rotate(-45)" text-anchor="end" font-size="15">poly I:C + CpG 1,3</text>
<text transform="translate(218 991.1) rotate(-45)" text-anchor="end" font-size="15">poly I:C + CpG 2,5</text>
<text transform="translate(243.7 992.1) rotate(-45)" text-anchor="end" font-size="15">poly I:C + CpG 5,0</text>
<line x1="291.7" y1="824.4" x2="291.7" y2="966.8" stroke="#000" stroke-width="2.4"/>
<line x1="282.6" y1="825.6" x2="291.7" y2="825.6" stroke="#000" stroke-width="2.4"/>
<text x="280.7" y="830.6" text-anchor="end">400</text>
<line x1="282.6" y1="860.9" x2="291.7" y2="860.9" stroke="#000" stroke-width="2.4"/>
<text x="280.7" y="865.9" text-anchor="end">300</text>
<line x1="282.6" y1="896.1" x2="291.7" y2="896.1" stroke="#000" stroke-width="2.4"/>
<text x="280.7" y="901.1" text-anchor="end">200</text>
<line x1="282.6" y1="931.1" x2="291.7" y2="931.1" stroke="#000" stroke-width="2.4"/>
<text x="280.7" y="936.1" text-anchor="end">100</text>
<line x1="282.6" y1="965.6" x2="291.7" y2="965.6" stroke="#000" stroke-width="2.4"/>
<text x="280.7" y="970.6" text-anchor="end">0</text>
<line x1="290.5" y1="965.6" x2="492.8" y2="965.6" stroke="#000" stroke-width="2.4"/>
<line x1="305.8" y1="965.6" x2="305.8" y2="974.4" stroke="#000" stroke-width="2.4"/>
<line x1="334.2" y1="965.6" x2="334.2" y2="974.4" stroke="#000" stroke-width="2.4"/>
<line x1="362.6" y1="965.6" x2="362.6" y2="974.4" stroke="#000" stroke-width="2.4"/>
<line x1="391" y1="965.6" x2="391" y2="974.4" stroke="#000" stroke-width="2.4"/>
<line x1="419.5" y1="965.6" x2="419.5" y2="974.4" stroke="#000" stroke-width="2.4"/>
<line x1="447.9" y1="965.6" x2="447.9" y2="974.4" stroke="#000" stroke-width="2.4"/>
<line x1="476.6" y1="965.6" x2="476.6" y2="974.4" stroke="#000" stroke-width="2.4"/>
<rect x="295" y="958.5" width="21.6" height="7.1" fill="#000"/>
<rect x="323.4" y="957.2" width="21.6" height="8.4" fill="#000"/>
<line x1="362.6" y1="827.9" x2="362.6" y2="854.5" stroke="#000" stroke-width="2.3"/>
<line x1="356.6" y1="827.9" x2="368.6" y2="827.9" stroke="#000" stroke-width="2.5"/>
<rect x="351.8" y="853.5" width="21.6" height="112.1" fill="#000"/>
<line x1="391" y1="884.1" x2="391" y2="906.8" stroke="#000" stroke-width="2.3"/>
<line x1="385" y1="884.1" x2="397" y2="884.1" stroke="#000" stroke-width="2.5"/>
<rect x="381.8" y="906.9" width="18.4" height="58.7" fill="#dfdfdf" stroke="#000" stroke-width="2.2"/>
<line x1="419.5" y1="946.1" x2="419.5" y2="950.6" stroke="#000" stroke-width="2.3"/>
<line x1="413.5" y1="946.1" x2="425.5" y2="946.1" stroke="#000" stroke-width="2.5"/>
<rect x="410.3" y="950.7" width="18.4" height="14.9" fill="#dfdfdf" stroke="#000" stroke-width="2.2"/>
<rect x="438.7" y="958.7" width="18.4" height="6.9" fill="#dfdfdf" stroke="#000" stroke-width="2.2"/>
<line x1="476.6" y1="951.9" x2="476.6" y2="955.2" stroke="#000" stroke-width="2.3"/>
<line x1="470.6" y1="951.9" x2="482.6" y2="951.9" stroke="#000" stroke-width="2.5"/>
<rect x="467.4" y="955.3" width="18.4" height="10.3" fill="#dfdfdf" stroke="#000" stroke-width="2.2"/>
<text transform="translate(310.1 987.1) rotate(-45)" text-anchor="end" font-size="15">Medium</text>
<text transform="translate(338.5 988.1) rotate(-45)" text-anchor="end" font-size="15">CpG</text>
<text transform="translate(365.9 988.6) rotate(-45)" text-anchor="end" font-size="15">poly I:C</text>
<text transform="translate(394.5 990.5) rotate(-45)" text-anchor="end" font-size="15">poly I:C + CpG 0,7</text>
<text transform="translate(423 990.1) rotate(-45)" text-anchor="end" font-size="15">poly I:C + CpG 1,3</text>
<text transform="translate(452.2 991.7) rotate(-45)" text-anchor="end" font-size="15">poly I:C + CpG 2,5</text>
<text transform="translate(476.7 991.9) rotate(-45)" text-anchor="end" font-size="15">poly I:C + CpG 5,0</text>
<text x="10.3" y="1123.8" font-weight="bold" font-size="29.5">E</text>
<text x="116.2" y="1119" text-anchor="middle">IL-12p40</text>
<text x="264.4" y="1119" text-anchor="middle">IL-12p70</text>
<text x="387.6" y="1119">TNF-α</text>
<text transform="translate(17.2 1215.4) rotate(-90)" text-anchor="middle" font-size="14.8">pg/ml</text>
<line x1="56.5" y1="1143.1" x2="56.5" y2="1285.1" stroke="#000" stroke-width="2.4"/>
<line x1="47.4" y1="1144.3" x2="56.5" y2="1144.3" stroke="#000" stroke-width="2.4"/>
<text x="47.1" y="1149.3" text-anchor="end">1000</text>
<line x1="47.4" y1="1179.3" x2="56.5" y2="1179.3" stroke="#000" stroke-width="2.4"/>
<text x="47.1" y="1184.3" text-anchor="end">750</text>
<line x1="47.4" y1="1214.1" x2="56.5" y2="1214.1" stroke="#000" stroke-width="2.4"/>
<text x="47.1" y="1219.1" text-anchor="end">500</text>
<line x1="47.4" y1="1249" x2="56.5" y2="1249" stroke="#000" stroke-width="2.4"/>
<text x="47.1" y="1254" text-anchor="end">250</text>
<line x1="47.4" y1="1283.9" x2="56.5" y2="1283.9" stroke="#000" stroke-width="2.4"/>
<text x="47.1" y="1288.9" text-anchor="end">0</text>
<line x1="55.3" y1="1283.9" x2="173" y2="1283.9" stroke="#000" stroke-width="2.4"/>
<line x1="70.4" y1="1283.9" x2="70.4" y2="1292.7" stroke="#000" stroke-width="2.4"/>
<line x1="99.1" y1="1283.9" x2="99.1" y2="1292.7" stroke="#000" stroke-width="2.4"/>
<line x1="127.8" y1="1283.9" x2="127.8" y2="1292.7" stroke="#000" stroke-width="2.4"/>
<line x1="156.6" y1="1283.9" x2="156.6" y2="1292.7" stroke="#000" stroke-width="2.4"/>
<line x1="70.4" y1="1275.1" x2="70.4" y2="1277.2" stroke="#000" stroke-width="2.3"/>
<line x1="64.4" y1="1275.1" x2="76.4" y2="1275.1" stroke="#000" stroke-width="2.5"/>
<rect x="59.3" y="1276.2" width="22.2" height="7.7" fill="#000"/>
<line x1="99.1" y1="1275.2" x2="99.1" y2="1277.2" stroke="#000" stroke-width="2.3"/>
<line x1="93.1" y1="1275.2" x2="105.1" y2="1275.2" stroke="#000" stroke-width="2.5"/>
<rect x="88" y="1276.2" width="22.2" height="7.7" fill="#000"/>
<line x1="127.8" y1="1145.4" x2="127.8" y2="1186.9" stroke="#000" stroke-width="2.3"/>
<line x1="121.8" y1="1145.4" x2="133.8" y2="1145.4" stroke="#000" stroke-width="2.5"/>
<rect x="116.7" y="1185.9" width="22.2" height="98" fill="#000"/>
<line x1="156.6" y1="1258.7" x2="156.6" y2="1265.3" stroke="#000" stroke-width="2.3"/>
<line x1="150.6" y1="1258.7" x2="162.6" y2="1258.7" stroke="#000" stroke-width="2.5"/>
<rect x="147.1" y="1265.4" width="19" height="18.5" fill="#dfdfdf" stroke="#000" stroke-width="2.2"/>
<text transform="translate(75.5 1308.5) rotate(-45)" text-anchor="end" font-size="15">Medium</text>
<text transform="translate(104.2 1308.1) rotate(-45)" text-anchor="end" font-size="15">CpG</text>
<text transform="translate(132.1 1308) rotate(-45)" text-anchor="end" font-size="15">poly I:C</text>
<text transform="translate(161.5 1309.2) rotate(-45)" text-anchor="end" font-size="15">poly I:C + CpG</text>
<text x="144.2" y="1138.5" text-anchor="middle" font-size="19.5">*</text>
<path d="M128.3 1141.3V1137.7H156.9V1141.3" fill="none" stroke="#000" stroke-width="1.1"/>
<line x1="204.8" y1="1143.4" x2="204.8" y2="1285.1" stroke="#000" stroke-width="2.4"/>
<line x1="195.7" y1="1144.6" x2="204.8" y2="1144.6" stroke="#000" stroke-width="2.4"/>
<text x="194.4" y="1149.6" text-anchor="end">100</text>
<line x1="195.7" y1="1179.4" x2="204.8" y2="1179.4" stroke="#000" stroke-width="2.4"/>
<text x="194.4" y="1184.4" text-anchor="end">75</text>
<line x1="195.7" y1="1214.2" x2="204.8" y2="1214.2" stroke="#000" stroke-width="2.4"/>
<text x="194.4" y="1219.2" text-anchor="end">50</text>
<line x1="195.7" y1="1249" x2="204.8" y2="1249" stroke="#000" stroke-width="2.4"/>
<text x="194.4" y="1254" text-anchor="end">25</text>
<line x1="195.7" y1="1283.9" x2="204.8" y2="1283.9" stroke="#000" stroke-width="2.4"/>
<text x="194.4" y="1288.9" text-anchor="end">0</text>
<line x1="203.6" y1="1283.9" x2="321" y2="1283.9" stroke="#000" stroke-width="2.4"/>
<line x1="218.5" y1="1283.9" x2="218.5" y2="1292.7" stroke="#000" stroke-width="2.4"/>
<line x1="247.1" y1="1283.9" x2="247.1" y2="1292.7" stroke="#000" stroke-width="2.4"/>
<line x1="275.7" y1="1283.9" x2="275.7" y2="1292.7" stroke="#000" stroke-width="2.4"/>
<line x1="304.5" y1="1283.9" x2="304.5" y2="1292.7" stroke="#000" stroke-width="2.4"/>
<rect x="207.4" y="1282.4" width="22.2" height="1.5" fill="#000"/>
<rect x="236" y="1282.2" width="22.2" height="1.7" fill="#000"/>
<line x1="275.7" y1="1195.5" x2="275.7" y2="1216.5" stroke="#000" stroke-width="2.3"/>
<line x1="269.7" y1="1195.5" x2="281.7" y2="1195.5" stroke="#000" stroke-width="2.5"/>
<rect x="264.6" y="1215.5" width="22.2" height="68.4" fill="#000"/>
<text transform="translate(223.6 1308.5) rotate(-45)" text-anchor="end" font-size="15">Medium</text>
<text transform="translate(252.2 1308.1) rotate(-45)" text-anchor="end" font-size="15">CpG</text>
<text transform="translate(280 1308) rotate(-45)" text-anchor="end" font-size="15">poly I:C</text>
<text transform="translate(309.4 1309.2) rotate(-45)" text-anchor="end" font-size="15">poly I:C + CpG</text>
<text x="291.9" y="1187" text-anchor="middle" font-size="19.5">*</text>
<path d="M275.5 1189.9V1186.3H305.4V1189.9" fill="none" stroke="#000" stroke-width="1.1"/>
<line x1="351.5" y1="1142.6" x2="351.5" y2="1285.1" stroke="#000" stroke-width="2.4"/>
<line x1="342.4" y1="1143.8" x2="351.5" y2="1143.8" stroke="#000" stroke-width="2.4"/>
<text x="341.5" y="1149.16" text-anchor="end" font-size="15">250</text>
<line x1="342.4" y1="1171.8" x2="351.5" y2="1171.8" stroke="#000" stroke-width="2.4"/>
<text x="341.5" y="1177.16" text-anchor="end" font-size="15">200</text>
<line x1="342.4" y1="1199.7" x2="351.5" y2="1199.7" stroke="#000" stroke-width="2.4"/>
<text x="341.5" y="1205.06" text-anchor="end" font-size="15">150</text>
<line x1="342.4" y1="1227.7" x2="351.5" y2="1227.7" stroke="#000" stroke-width="2.4"/>
<text x="341.5" y="1233.06" text-anchor="end" font-size="15">100</text>
<line x1="342.4" y1="1255.7" x2="351.5" y2="1255.7" stroke="#000" stroke-width="2.4"/>
<text x="341.5" y="1261.06" text-anchor="end" font-size="15">50</text>
<line x1="342.4" y1="1283.9" x2="351.5" y2="1283.9" stroke="#000" stroke-width="2.4"/>
<text x="341.5" y="1289.26" text-anchor="end" font-size="15">0</text>
<line x1="350.3" y1="1283.9" x2="468.2" y2="1283.9" stroke="#000" stroke-width="2.4"/>
<line x1="365.4" y1="1283.9" x2="365.4" y2="1292.7" stroke="#000" stroke-width="2.4"/>
<line x1="394.1" y1="1283.9" x2="394.1" y2="1292.7" stroke="#000" stroke-width="2.4"/>
<line x1="422.9" y1="1283.9" x2="422.9" y2="1292.7" stroke="#000" stroke-width="2.4"/>
<line x1="451.7" y1="1283.9" x2="451.7" y2="1292.7" stroke="#000" stroke-width="2.4"/>
<line x1="365.4" y1="1259.7" x2="365.4" y2="1266.8" stroke="#000" stroke-width="2.3"/>
<line x1="359.4" y1="1259.7" x2="371.4" y2="1259.7" stroke="#000" stroke-width="2.5"/>
<rect x="354.3" y="1265.8" width="22.2" height="18.1" fill="#000"/>
<line x1="394.1" y1="1260.9" x2="394.1" y2="1265.6" stroke="#000" stroke-width="2.3"/>
<line x1="388.1" y1="1260.9" x2="400.1" y2="1260.9" stroke="#000" stroke-width="2.5"/>
<rect x="383" y="1264.6" width="22.2" height="19.3" fill="#000"/>
<line x1="422.9" y1="1152" x2="422.9" y2="1182.7" stroke="#000" stroke-width="2.3"/>
<line x1="416.9" y1="1152" x2="428.9" y2="1152" stroke="#000" stroke-width="2.5"/>
<rect x="411.8" y="1181.7" width="22.2" height="102.2" fill="#000"/>
<line x1="451.7" y1="1267.6" x2="451.7" y2="1272.2" stroke="#000" stroke-width="2.3"/>
<line x1="445.7" y1="1267.6" x2="457.7" y2="1267.6" stroke="#000" stroke-width="2.5"/>
<rect x="442.2" y="1272.3" width="19" height="11.6" fill="#dfdfdf" stroke="#000" stroke-width="2.2"/>
<text transform="translate(370.5 1308.5) rotate(-45)" text-anchor="end" font-size="15">Medium</text>
<text transform="translate(399.2 1308.1) rotate(-45)" text-anchor="end" font-size="15">CpG</text>
<text transform="translate(427.2 1308) rotate(-45)" text-anchor="end" font-size="15">poly I:C</text>
<text transform="translate(456.6 1309.2) rotate(-45)" text-anchor="end" font-size="15">poly I:C + CpG</text>
<text x="437" y="1144" text-anchor="middle" font-size="19.5">**</text>
<path d="M421.9 1146.8V1143.4H452.2V1146.8" fill="none" stroke="#000" stroke-width="1.1"/>
</svg>
</body></html>
